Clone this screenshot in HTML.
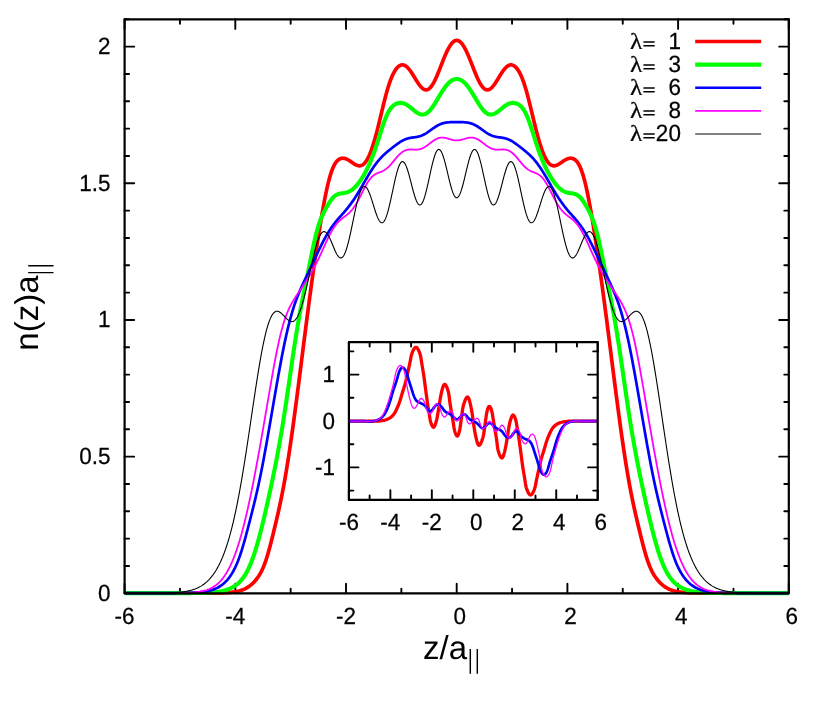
<!DOCTYPE html>
<html><head><meta charset="utf-8"><title>n(z) density profiles</title>
<style>
html,body{margin:0;padding:0;background:#fff;}
body{width:830px;height:712px;overflow:hidden;font-family:"Liberation Sans",sans-serif;}
svg{display:block;}
text{font-family:"Liberation Sans",sans-serif;font-size:22.5px;fill:#000;text-rendering:geometricPrecision;}
.lam{font-family:"Liberation Serif",serif;font-size:23px;}
.big{font-size:33px;}
.sub{font-size:26.4px;}
</style></head><body>
<svg width="830" height="712" viewBox="0 0 830 712">
<rect width="830" height="712" fill="#fff"/>
<defs>
<clipPath id="cm"><rect x="124.6" y="19.3" width="664.1999999999999" height="577.0"/></clipPath>
<clipPath id="ci"><rect x="348.9" y="341.1" width="248.80000000000007" height="159.79999999999995"/></clipPath>
</defs>
<!-- main ticks -->
<g stroke="#000" stroke-width="1.9" fill="none" stroke-linecap="round">
<path d="M124.60,593.30v-9.6 M124.60,19.30v9.6"/>
<path d="M179.95,593.30v-4.5 M179.95,19.30v4.5"/>
<path d="M235.30,593.30v-9.6 M235.30,19.30v9.6"/>
<path d="M290.65,593.30v-4.5 M290.65,19.30v4.5"/>
<path d="M346.00,593.30v-9.6 M346.00,19.30v9.6"/>
<path d="M401.35,593.30v-4.5 M401.35,19.30v4.5"/>
<path d="M456.70,593.30v-9.6 M456.70,19.30v9.6"/>
<path d="M512.05,593.30v-4.5 M512.05,19.30v4.5"/>
<path d="M567.40,593.30v-9.6 M567.40,19.30v9.6"/>
<path d="M622.75,593.30v-4.5 M622.75,19.30v4.5"/>
<path d="M678.10,593.30v-9.6 M678.10,19.30v9.6"/>
<path d="M733.45,593.30v-4.5 M733.45,19.30v4.5"/>
<path d="M788.80,593.30v-9.6 M788.80,19.30v9.6"/>
<path d="M124.60,593.30h9.6 M788.80,593.30h-9.6"/>
<path d="M124.60,565.97h4.5 M788.80,565.97h-4.5"/>
<path d="M124.60,538.63h4.5 M788.80,538.63h-4.5"/>
<path d="M124.60,511.30h4.5 M788.80,511.30h-4.5"/>
<path d="M124.60,483.97h4.5 M788.80,483.97h-4.5"/>
<path d="M124.60,456.63h9.6 M788.80,456.63h-9.6"/>
<path d="M124.60,429.30h4.5 M788.80,429.30h-4.5"/>
<path d="M124.60,401.97h4.5 M788.80,401.97h-4.5"/>
<path d="M124.60,374.63h4.5 M788.80,374.63h-4.5"/>
<path d="M124.60,347.30h4.5 M788.80,347.30h-4.5"/>
<path d="M124.60,319.97h9.6 M788.80,319.97h-9.6"/>
<path d="M124.60,292.63h4.5 M788.80,292.63h-4.5"/>
<path d="M124.60,265.30h4.5 M788.80,265.30h-4.5"/>
<path d="M124.60,237.97h4.5 M788.80,237.97h-4.5"/>
<path d="M124.60,210.63h4.5 M788.80,210.63h-4.5"/>
<path d="M124.60,183.30h9.6 M788.80,183.30h-9.6"/>
<path d="M124.60,155.97h4.5 M788.80,155.97h-4.5"/>
<path d="M124.60,128.63h4.5 M788.80,128.63h-4.5"/>
<path d="M124.60,101.30h4.5 M788.80,101.30h-4.5"/>
<path d="M124.60,73.97h4.5 M788.80,73.97h-4.5"/>
<path d="M124.60,46.63h9.6 M788.80,46.63h-9.6"/>
<path d="M124.60,19.30h4.5 M788.80,19.30h-4.5"/>
</g>
<!-- main curves -->
<g fill="none" stroke-linejoin="round" stroke-linecap="butt" clip-path="url(#cm)">
<path d="M124.60,593.10 L125.02,593.10 L125.43,593.10 L125.85,593.10 L126.26,593.10 L126.68,593.10 L127.09,593.10 L127.51,593.10 L127.92,593.10 L128.34,593.10 L128.75,593.10 L129.17,593.10 L129.58,593.10 L130.00,593.10 L130.41,593.10 L130.83,593.10 L131.24,593.10 L131.66,593.10 L132.07,593.10 L132.49,593.10 L132.90,593.10 L133.32,593.10 L133.73,593.10 L134.15,593.10 L134.56,593.10 L134.98,593.10 L135.39,593.10 L135.81,593.10 L136.22,593.10 L136.64,593.10 L137.05,593.10 L137.47,593.10 L137.88,593.10 L138.30,593.10 L138.71,593.10 L139.13,593.10 L139.54,593.10 L139.96,593.10 L140.37,593.10 L140.79,593.10 L141.20,593.10 L141.62,593.10 L142.04,593.10 L142.45,593.10 L142.87,593.10 L143.28,593.10 L143.70,593.10 L144.11,593.10 L144.53,593.10 L144.94,593.10 L145.36,593.10 L145.77,593.10 L146.19,593.10 L146.60,593.10 L147.02,593.10 L147.43,593.10 L147.85,593.10 L148.26,593.10 L148.68,593.10 L149.09,593.10 L149.51,593.10 L149.92,593.10 L150.34,593.10 L150.75,593.10 L151.17,593.10 L151.58,593.10 L152.00,593.10 L152.41,593.10 L152.83,593.10 L153.24,593.10 L153.66,593.10 L154.07,593.10 L154.49,593.10 L154.90,593.10 L155.32,593.10 L155.73,593.10 L156.15,593.10 L156.56,593.10 L156.98,593.10 L157.39,593.10 L157.81,593.10 L158.23,593.10 L158.64,593.10 L159.06,593.10 L159.47,593.10 L159.89,593.10 L160.30,593.10 L160.72,593.10 L161.13,593.10 L161.55,593.10 L161.96,593.10 L162.38,593.10 L162.79,593.10 L163.21,593.10 L163.62,593.10 L164.04,593.10 L164.45,593.10 L164.87,593.10 L165.28,593.10 L165.70,593.10 L166.11,593.10 L166.53,593.10 L166.94,593.10 L167.36,593.10 L167.77,593.10 L168.19,593.10 L168.60,593.10 L169.02,593.10 L169.43,593.10 L169.85,593.10 L170.26,593.10 L170.68,593.10 L171.09,593.10 L171.51,593.10 L171.92,593.10 L172.34,593.10 L172.75,593.10 L173.17,593.10 L173.58,593.10 L174.00,593.10 L174.42,593.10 L174.83,593.10 L175.25,593.10 L175.66,593.10 L176.08,593.10 L176.49,593.10 L176.91,593.10 L177.32,593.10 L177.74,593.10 L178.15,593.10 L178.57,593.10 L178.98,593.10 L179.40,593.10 L179.81,593.10 L180.23,593.10 L180.64,593.10 L181.06,593.10 L181.47,593.10 L181.89,593.10 L182.30,593.10 L182.72,593.10 L183.13,593.10 L183.55,593.10 L183.96,593.10 L184.38,593.10 L184.79,593.10 L185.21,593.10 L185.62,593.10 L186.04,593.10 L186.45,593.10 L186.87,593.10 L187.28,593.10 L187.70,593.10 L188.11,593.10 L188.53,593.10 L188.94,593.10 L189.36,593.10 L189.77,593.10 L190.19,593.10 L190.60,593.10 L191.02,593.10 L191.44,593.10 L191.85,593.10 L192.27,593.10 L192.68,593.10 L193.10,593.10 L193.51,593.10 L193.93,593.10 L194.34,593.10 L194.76,593.10 L195.17,593.10 L195.59,593.10 L196.00,593.10 L196.42,593.10 L196.83,593.10 L197.25,593.10 L197.66,593.10 L198.08,593.10 L198.49,593.10 L198.91,593.10 L199.32,593.09 L199.74,593.09 L200.15,593.09 L200.57,593.09 L200.98,593.09 L201.40,593.09 L201.81,593.09 L202.23,593.09 L202.64,593.09 L203.06,593.09 L203.47,593.09 L203.89,593.09 L204.30,593.09 L204.72,593.09 L205.13,593.09 L205.55,593.08 L205.96,593.08 L206.38,593.08 L206.79,593.08 L207.21,593.08 L207.62,593.08 L208.04,593.08 L208.46,593.07 L208.87,593.07 L209.29,593.07 L209.70,593.07 L210.12,593.07 L210.53,593.06 L210.95,593.06 L211.36,593.06 L211.78,593.06 L212.19,593.05 L212.61,593.05 L213.02,593.05 L213.44,593.04 L213.85,593.04 L214.27,593.03 L214.68,593.03 L215.10,593.02 L215.51,593.02 L215.93,593.01 L216.34,593.01 L216.76,593.00 L217.17,593.00 L217.59,592.99 L218.00,592.98 L218.42,592.97 L218.83,592.96 L219.25,592.96 L219.66,592.95 L220.08,592.94 L220.49,592.93 L220.91,592.92 L221.32,592.90 L221.74,592.89 L222.15,592.88 L222.57,592.86 L222.98,592.85 L223.40,592.83 L223.81,592.82 L224.23,592.80 L224.65,592.78 L225.06,592.76 L225.48,592.74 L225.89,592.72 L226.31,592.70 L226.72,592.67 L227.14,592.65 L227.55,592.62 L227.97,592.59 L228.38,592.56 L228.80,592.53 L229.21,592.50 L229.63,592.46 L230.04,592.43 L230.46,592.39 L230.87,592.35 L231.29,592.31 L231.70,592.26 L232.12,592.21 L232.53,592.16 L232.95,592.11 L233.36,592.06 L233.78,592.00 L234.19,591.94 L234.61,591.88 L235.02,591.81 L235.44,591.74 L235.85,591.67 L236.27,591.59 L236.68,591.51 L237.10,591.43 L237.51,591.34 L237.93,591.24 L238.34,591.15 L238.76,591.05 L239.17,590.94 L239.59,590.83 L240.00,590.71 L240.42,590.59 L240.83,590.46 L241.25,590.33 L241.67,590.19 L242.08,590.04 L242.50,589.89 L242.91,589.73 L243.33,589.57 L243.74,589.39 L244.16,589.21 L244.57,589.02 L244.99,588.82 L245.40,588.62 L245.82,588.40 L246.23,588.18 L246.65,587.95 L247.06,587.70 L247.48,587.45 L247.89,587.19 L248.31,586.92 L248.72,586.63 L249.14,586.34 L249.55,586.03 L249.97,585.72 L250.38,585.39 L250.80,585.05 L251.21,584.70 L251.63,584.34 L252.04,583.97 L252.46,583.58 L252.87,583.18 L253.29,582.77 L253.70,582.35 L254.12,581.91 L254.53,581.46 L254.95,580.99 L255.36,580.51 L255.78,580.02 L256.19,579.51 L256.61,578.98 L257.02,578.44 L257.44,577.88 L257.86,577.29 L258.27,576.69 L258.69,576.07 L259.10,575.42 L259.52,574.75 L259.93,574.06 L260.35,573.33 L260.76,572.58 L261.18,571.80 L261.59,570.98 L262.01,570.13 L262.42,569.25 L262.84,568.33 L263.25,567.37 L263.67,566.37 L264.08,565.34 L264.50,564.26 L264.91,563.15 L265.33,561.99 L265.74,560.79 L266.16,559.55 L266.57,558.28 L266.99,556.96 L267.40,555.60 L267.82,554.21 L268.23,552.78 L268.65,551.32 L269.06,549.83 L269.48,548.31 L269.89,546.76 L270.31,545.19 L270.72,543.59 L271.14,541.97 L271.55,540.33 L271.97,538.68 L272.38,537.01 L272.80,535.33 L273.21,533.63 L273.63,531.93 L274.04,530.21 L274.46,528.49 L274.88,526.75 L275.29,525.01 L275.71,523.26 L276.12,521.49 L276.54,519.72 L276.95,517.93 L277.37,516.13 L277.78,514.31 L278.20,512.48 L278.61,510.63 L279.03,508.76 L279.44,506.87 L279.86,504.95 L280.27,503.01 L280.69,501.03 L281.10,499.03 L281.52,497.00 L281.93,494.93 L282.35,492.83 L282.76,490.70 L283.18,488.52 L283.59,486.31 L284.01,484.06 L284.42,481.77 L284.84,479.44 L285.25,477.08 L285.67,474.67 L286.08,472.22 L286.50,469.73 L286.91,467.21 L287.33,464.64 L287.74,462.04 L288.16,459.40 L288.57,456.72 L288.99,454.01 L289.40,451.27 L289.82,448.49 L290.23,445.68 L290.65,442.84 L291.07,439.96 L291.48,437.06 L291.90,434.13 L292.31,431.18 L292.73,428.20 L293.14,425.19 L293.56,422.16 L293.97,419.11 L294.39,416.04 L294.80,412.95 L295.22,409.84 L295.63,406.71 L296.05,403.57 L296.46,400.41 L296.88,397.23 L297.29,394.04 L297.71,390.84 L298.12,387.63 L298.54,384.41 L298.95,381.18 L299.37,377.94 L299.78,374.69 L300.20,371.43 L300.61,368.17 L301.03,364.91 L301.44,361.64 L301.86,358.37 L302.27,355.10 L302.69,351.83 L303.10,348.56 L303.52,345.29 L303.93,342.02 L304.35,338.76 L304.76,335.50 L305.18,332.25 L305.59,329.00 L306.01,325.76 L306.42,322.53 L306.84,319.31 L307.25,316.10 L307.67,312.90 L308.09,309.71 L308.50,306.53 L308.92,303.37 L309.33,300.23 L309.75,297.09 L310.16,293.98 L310.58,290.88 L310.99,287.80 L311.41,284.74 L311.82,281.69 L312.24,278.67 L312.65,275.66 L313.07,272.68 L313.48,269.72 L313.90,266.78 L314.31,263.86 L314.73,260.96 L315.14,258.08 L315.56,255.23 L315.97,252.41 L316.39,249.60 L316.80,246.82 L317.22,244.07 L317.63,241.34 L318.05,238.63 L318.46,235.95 L318.88,233.30 L319.29,230.68 L319.71,228.08 L320.12,225.51 L320.54,222.97 L320.95,220.46 L321.37,217.98 L321.78,215.53 L322.20,213.12 L322.61,210.74 L323.03,208.40 L323.44,206.10 L323.86,203.84 L324.28,201.62 L324.69,199.44 L325.11,197.31 L325.52,195.23 L325.94,193.20 L326.35,191.22 L326.77,189.29 L327.18,187.42 L327.60,185.61 L328.01,183.85 L328.43,182.16 L328.84,180.52 L329.26,178.95 L329.67,177.45 L330.09,176.01 L330.50,174.63 L330.92,173.32 L331.33,172.07 L331.75,170.89 L332.16,169.77 L332.58,168.72 L332.99,167.73 L333.41,166.80 L333.82,165.93 L334.24,165.11 L334.65,164.36 L335.07,163.65 L335.48,163.01 L335.90,162.41 L336.31,161.86 L336.73,161.36 L337.14,160.90 L337.56,160.48 L337.97,160.11 L338.39,159.77 L338.80,159.48 L339.22,159.21 L339.63,158.99 L340.05,158.79 L340.46,158.63 L340.88,158.49 L341.30,158.38 L341.71,158.31 L342.13,158.25 L342.54,158.23 L342.96,158.22 L343.37,158.24 L343.79,158.29 L344.20,158.35 L344.62,158.44 L345.03,158.54 L345.45,158.67 L345.86,158.81 L346.28,158.97 L346.69,159.15 L347.11,159.35 L347.52,159.55 L347.94,159.78 L348.35,160.01 L348.77,160.25 L349.18,160.51 L349.60,160.77 L350.01,161.05 L350.43,161.32 L350.84,161.61 L351.26,161.89 L351.67,162.18 L352.09,162.47 L352.50,162.75 L352.92,163.03 L353.33,163.31 L353.75,163.59 L354.16,163.85 L354.58,164.10 L354.99,164.35 L355.41,164.58 L355.82,164.79 L356.24,164.99 L356.65,165.17 L357.07,165.33 L357.49,165.47 L357.90,165.59 L358.32,165.68 L358.73,165.75 L359.15,165.79 L359.56,165.80 L359.98,165.78 L360.39,165.73 L360.81,165.64 L361.22,165.52 L361.64,165.37 L362.05,165.18 L362.47,164.95 L362.88,164.69 L363.30,164.38 L363.71,164.04 L364.13,163.65 L364.54,163.22 L364.96,162.75 L365.37,162.24 L365.79,161.69 L366.20,161.09 L366.62,160.45 L367.03,159.76 L367.45,159.03 L367.86,158.26 L368.28,157.44 L368.69,156.58 L369.11,155.68 L369.52,154.73 L369.94,153.74 L370.35,152.71 L370.77,151.63 L371.18,150.52 L371.60,149.36 L372.01,148.17 L372.43,146.94 L372.84,145.66 L373.26,144.36 L373.67,143.01 L374.09,141.63 L374.51,140.22 L374.92,138.77 L375.34,137.29 L375.75,135.79 L376.17,134.25 L376.58,132.69 L377.00,131.10 L377.41,129.49 L377.83,127.85 L378.24,126.20 L378.66,124.53 L379.07,122.84 L379.49,121.14 L379.90,119.43 L380.32,117.71 L380.73,115.99 L381.15,114.26 L381.56,112.53 L381.98,110.81 L382.39,109.09 L382.81,107.37 L383.22,105.67 L383.64,103.98 L384.05,102.31 L384.47,100.65 L384.88,99.02 L385.30,97.41 L385.71,95.83 L386.13,94.28 L386.54,92.76 L386.96,91.28 L387.37,89.83 L387.79,88.41 L388.20,87.04 L388.62,85.71 L389.03,84.41 L389.45,83.16 L389.86,81.96 L390.28,80.79 L390.70,79.67 L391.11,78.60 L391.53,77.56 L391.94,76.58 L392.36,75.63 L392.77,74.73 L393.19,73.87 L393.60,73.06 L394.02,72.28 L394.43,71.55 L394.85,70.86 L395.26,70.21 L395.68,69.59 L396.09,69.02 L396.51,68.49 L396.92,67.99 L397.34,67.53 L397.75,67.11 L398.17,66.73 L398.58,66.38 L399.00,66.07 L399.41,65.80 L399.83,65.56 L400.24,65.36 L400.66,65.19 L401.07,65.06 L401.49,64.97 L401.90,64.91 L402.32,64.89 L402.73,64.90 L403.15,64.95 L403.56,65.04 L403.98,65.16 L404.39,65.31 L404.81,65.50 L405.22,65.72 L405.64,65.98 L406.05,66.26 L406.47,66.58 L406.88,66.93 L407.30,67.31 L407.72,67.72 L408.13,68.16 L408.55,68.62 L408.96,69.11 L409.38,69.63 L409.79,70.16 L410.21,70.72 L410.62,71.30 L411.04,71.90 L411.45,72.51 L411.87,73.14 L412.28,73.78 L412.70,74.43 L413.11,75.10 L413.53,75.77 L413.94,76.45 L414.36,77.13 L414.77,77.81 L415.19,78.49 L415.60,79.17 L416.02,79.85 L416.43,80.52 L416.85,81.18 L417.26,81.83 L417.68,82.47 L418.09,83.09 L418.51,83.70 L418.92,84.29 L419.34,84.86 L419.75,85.41 L420.17,85.93 L420.58,86.43 L421.00,86.90 L421.41,87.34 L421.83,87.74 L422.24,88.12 L422.66,88.46 L423.07,88.77 L423.49,89.04 L423.91,89.27 L424.32,89.47 L424.74,89.62 L425.15,89.73 L425.57,89.81 L425.98,89.84 L426.40,89.82 L426.81,89.77 L427.23,89.67 L427.64,89.52 L428.06,89.33 L428.47,89.10 L428.89,88.83 L429.30,88.51 L429.72,88.15 L430.13,87.74 L430.55,87.29 L430.96,86.80 L431.38,86.27 L431.79,85.70 L432.21,85.10 L432.62,84.45 L433.04,83.77 L433.45,83.05 L433.87,82.30 L434.28,81.51 L434.70,80.69 L435.11,79.85 L435.53,78.98 L435.94,78.08 L436.36,77.15 L436.77,76.21 L437.19,75.24 L437.60,74.25 L438.02,73.25 L438.43,72.24 L438.85,71.21 L439.26,70.17 L439.68,69.12 L440.10,68.06 L440.51,67.00 L440.93,65.94 L441.34,64.87 L441.76,63.81 L442.17,62.75 L442.59,61.70 L443.00,60.65 L443.42,59.62 L443.83,58.59 L444.25,57.58 L444.66,56.58 L445.08,55.60 L445.49,54.64 L445.91,53.70 L446.32,52.78 L446.74,51.88 L447.15,51.01 L447.57,50.16 L447.98,49.35 L448.40,48.56 L448.81,47.80 L449.23,47.07 L449.64,46.38 L450.06,45.72 L450.47,45.09 L450.89,44.50 L451.30,43.95 L451.72,43.43 L452.13,42.95 L452.55,42.52 L452.96,42.12 L453.38,41.76 L453.79,41.44 L454.21,41.17 L454.62,40.93 L455.04,40.74 L455.45,40.59 L455.87,40.48 L456.28,40.42 L456.70,40.40 L457.12,40.42 L457.53,40.48 L457.95,40.59 L458.36,40.74 L458.78,40.93 L459.19,41.17 L459.61,41.44 L460.02,41.76 L460.44,42.12 L460.85,42.52 L461.27,42.95 L461.68,43.43 L462.10,43.95 L462.51,44.50 L462.93,45.09 L463.34,45.72 L463.76,46.38 L464.17,47.07 L464.59,47.80 L465.00,48.56 L465.42,49.35 L465.83,50.16 L466.25,51.01 L466.66,51.88 L467.08,52.78 L467.49,53.70 L467.91,54.64 L468.32,55.60 L468.74,56.58 L469.15,57.58 L469.57,58.59 L469.98,59.62 L470.40,60.65 L470.81,61.70 L471.23,62.75 L471.64,63.81 L472.06,64.87 L472.47,65.94 L472.89,67.00 L473.30,68.06 L473.72,69.12 L474.14,70.17 L474.55,71.21 L474.97,72.24 L475.38,73.25 L475.80,74.25 L476.21,75.24 L476.63,76.21 L477.04,77.15 L477.46,78.08 L477.87,78.98 L478.29,79.85 L478.70,80.69 L479.12,81.51 L479.53,82.30 L479.95,83.05 L480.36,83.77 L480.78,84.45 L481.19,85.10 L481.61,85.70 L482.02,86.27 L482.44,86.80 L482.85,87.29 L483.27,87.74 L483.68,88.15 L484.10,88.51 L484.51,88.83 L484.93,89.10 L485.34,89.33 L485.76,89.52 L486.17,89.67 L486.59,89.77 L487.00,89.82 L487.42,89.84 L487.83,89.81 L488.25,89.73 L488.66,89.62 L489.08,89.47 L489.49,89.27 L489.91,89.04 L490.33,88.77 L490.74,88.46 L491.16,88.12 L491.57,87.74 L491.99,87.34 L492.40,86.90 L492.82,86.43 L493.23,85.93 L493.65,85.41 L494.06,84.86 L494.48,84.29 L494.89,83.70 L495.31,83.09 L495.72,82.47 L496.14,81.83 L496.55,81.18 L496.97,80.52 L497.38,79.85 L497.80,79.17 L498.21,78.49 L498.63,77.81 L499.04,77.13 L499.46,76.45 L499.87,75.77 L500.29,75.10 L500.70,74.43 L501.12,73.78 L501.53,73.14 L501.95,72.51 L502.36,71.90 L502.78,71.30 L503.19,70.72 L503.61,70.16 L504.02,69.63 L504.44,69.11 L504.85,68.62 L505.27,68.16 L505.68,67.72 L506.10,67.31 L506.51,66.93 L506.93,66.58 L507.35,66.26 L507.76,65.98 L508.18,65.72 L508.59,65.50 L509.01,65.31 L509.42,65.16 L509.84,65.04 L510.25,64.95 L510.67,64.90 L511.08,64.89 L511.50,64.91 L511.91,64.97 L512.33,65.06 L512.74,65.19 L513.16,65.36 L513.57,65.56 L513.99,65.80 L514.40,66.07 L514.82,66.38 L515.23,66.73 L515.65,67.11 L516.06,67.53 L516.48,67.99 L516.89,68.49 L517.31,69.02 L517.72,69.59 L518.14,70.21 L518.55,70.86 L518.97,71.55 L519.38,72.28 L519.80,73.06 L520.21,73.87 L520.63,74.73 L521.04,75.63 L521.46,76.58 L521.87,77.56 L522.29,78.60 L522.70,79.67 L523.12,80.79 L523.54,81.96 L523.95,83.16 L524.37,84.41 L524.78,85.71 L525.20,87.04 L525.61,88.41 L526.03,89.83 L526.44,91.28 L526.86,92.76 L527.27,94.28 L527.69,95.83 L528.10,97.41 L528.52,99.02 L528.93,100.65 L529.35,102.31 L529.76,103.98 L530.18,105.67 L530.59,107.37 L531.01,109.09 L531.42,110.81 L531.84,112.53 L532.25,114.26 L532.67,115.99 L533.08,117.71 L533.50,119.43 L533.91,121.14 L534.33,122.84 L534.74,124.53 L535.16,126.20 L535.57,127.85 L535.99,129.49 L536.40,131.10 L536.82,132.69 L537.23,134.25 L537.65,135.79 L538.06,137.29 L538.48,138.77 L538.89,140.22 L539.31,141.63 L539.73,143.01 L540.14,144.36 L540.56,145.66 L540.97,146.94 L541.39,148.17 L541.80,149.36 L542.22,150.52 L542.63,151.63 L543.05,152.71 L543.46,153.74 L543.88,154.73 L544.29,155.68 L544.71,156.58 L545.12,157.44 L545.54,158.26 L545.95,159.03 L546.37,159.76 L546.78,160.45 L547.20,161.09 L547.61,161.69 L548.03,162.24 L548.44,162.75 L548.86,163.22 L549.27,163.65 L549.69,164.04 L550.10,164.38 L550.52,164.69 L550.93,164.95 L551.35,165.18 L551.76,165.37 L552.18,165.52 L552.59,165.64 L553.01,165.73 L553.42,165.78 L553.84,165.80 L554.25,165.79 L554.67,165.75 L555.08,165.68 L555.50,165.59 L555.91,165.47 L556.33,165.33 L556.75,165.17 L557.16,164.99 L557.58,164.79 L557.99,164.58 L558.41,164.35 L558.82,164.10 L559.24,163.85 L559.65,163.59 L560.07,163.31 L560.48,163.03 L560.90,162.75 L561.31,162.47 L561.73,162.18 L562.14,161.89 L562.56,161.61 L562.97,161.32 L563.39,161.05 L563.80,160.77 L564.22,160.51 L564.63,160.25 L565.05,160.01 L565.46,159.78 L565.88,159.55 L566.29,159.35 L566.71,159.15 L567.12,158.97 L567.54,158.81 L567.95,158.67 L568.37,158.54 L568.78,158.44 L569.20,158.35 L569.61,158.29 L570.03,158.24 L570.44,158.22 L570.86,158.23 L571.27,158.25 L571.69,158.31 L572.10,158.38 L572.52,158.49 L572.93,158.63 L573.35,158.79 L573.77,158.99 L574.18,159.21 L574.60,159.48 L575.01,159.77 L575.43,160.11 L575.84,160.48 L576.26,160.90 L576.67,161.36 L577.09,161.86 L577.50,162.41 L577.92,163.01 L578.33,163.65 L578.75,164.36 L579.16,165.11 L579.58,165.93 L579.99,166.80 L580.41,167.73 L580.82,168.72 L581.24,169.77 L581.65,170.89 L582.07,172.07 L582.48,173.32 L582.90,174.63 L583.31,176.01 L583.73,177.45 L584.14,178.95 L584.56,180.52 L584.97,182.16 L585.39,183.85 L585.80,185.61 L586.22,187.42 L586.63,189.29 L587.05,191.22 L587.46,193.20 L587.88,195.23 L588.29,197.31 L588.71,199.44 L589.12,201.62 L589.54,203.84 L589.96,206.10 L590.37,208.40 L590.79,210.74 L591.20,213.12 L591.62,215.53 L592.03,217.98 L592.45,220.46 L592.86,222.97 L593.28,225.51 L593.69,228.08 L594.11,230.68 L594.52,233.30 L594.94,235.95 L595.35,238.63 L595.77,241.34 L596.18,244.07 L596.60,246.82 L597.01,249.60 L597.43,252.41 L597.84,255.23 L598.26,258.08 L598.67,260.96 L599.09,263.86 L599.50,266.78 L599.92,269.72 L600.33,272.68 L600.75,275.66 L601.16,278.67 L601.58,281.69 L601.99,284.74 L602.41,287.80 L602.82,290.88 L603.24,293.98 L603.65,297.09 L604.07,300.23 L604.48,303.37 L604.90,306.53 L605.31,309.71 L605.73,312.90 L606.14,316.10 L606.56,319.31 L606.98,322.53 L607.39,325.76 L607.81,329.00 L608.22,332.25 L608.64,335.50 L609.05,338.76 L609.47,342.02 L609.88,345.29 L610.30,348.56 L610.71,351.83 L611.13,355.10 L611.54,358.37 L611.96,361.64 L612.37,364.91 L612.79,368.17 L613.20,371.43 L613.62,374.69 L614.03,377.94 L614.45,381.18 L614.86,384.41 L615.28,387.63 L615.69,390.84 L616.11,394.04 L616.52,397.23 L616.94,400.41 L617.35,403.57 L617.77,406.71 L618.18,409.84 L618.60,412.95 L619.01,416.04 L619.43,419.11 L619.84,422.16 L620.26,425.19 L620.67,428.20 L621.09,431.18 L621.50,434.13 L621.92,437.06 L622.33,439.96 L622.75,442.84 L623.17,445.68 L623.58,448.49 L624.00,451.27 L624.41,454.01 L624.83,456.72 L625.24,459.40 L625.66,462.04 L626.07,464.64 L626.49,467.21 L626.90,469.73 L627.32,472.22 L627.73,474.67 L628.15,477.08 L628.56,479.44 L628.98,481.77 L629.39,484.06 L629.81,486.31 L630.22,488.52 L630.64,490.70 L631.05,492.83 L631.47,494.93 L631.88,497.00 L632.30,499.03 L632.71,501.03 L633.13,503.01 L633.54,504.95 L633.96,506.87 L634.37,508.76 L634.79,510.63 L635.20,512.48 L635.62,514.31 L636.03,516.13 L636.45,517.93 L636.86,519.72 L637.28,521.49 L637.69,523.26 L638.11,525.01 L638.52,526.75 L638.94,528.49 L639.35,530.21 L639.77,531.93 L640.19,533.63 L640.60,535.33 L641.02,537.01 L641.43,538.68 L641.85,540.33 L642.26,541.97 L642.68,543.59 L643.09,545.19 L643.51,546.76 L643.92,548.31 L644.34,549.83 L644.75,551.32 L645.17,552.78 L645.58,554.21 L646.00,555.60 L646.41,556.96 L646.83,558.28 L647.24,559.55 L647.66,560.79 L648.07,561.99 L648.49,563.15 L648.90,564.26 L649.32,565.34 L649.73,566.37 L650.15,567.37 L650.56,568.33 L650.98,569.25 L651.39,570.13 L651.81,570.98 L652.22,571.80 L652.64,572.58 L653.05,573.33 L653.47,574.06 L653.88,574.75 L654.30,575.42 L654.71,576.07 L655.13,576.69 L655.54,577.29 L655.96,577.88 L656.38,578.44 L656.79,578.98 L657.21,579.51 L657.62,580.02 L658.04,580.51 L658.45,580.99 L658.87,581.46 L659.28,581.91 L659.70,582.35 L660.11,582.77 L660.53,583.18 L660.94,583.58 L661.36,583.97 L661.77,584.34 L662.19,584.70 L662.60,585.05 L663.02,585.39 L663.43,585.72 L663.85,586.03 L664.26,586.34 L664.68,586.63 L665.09,586.92 L665.51,587.19 L665.92,587.45 L666.34,587.70 L666.75,587.95 L667.17,588.18 L667.58,588.40 L668.00,588.62 L668.41,588.82 L668.83,589.02 L669.24,589.21 L669.66,589.39 L670.07,589.57 L670.49,589.73 L670.90,589.89 L671.32,590.04 L671.73,590.19 L672.15,590.33 L672.57,590.46 L672.98,590.59 L673.40,590.71 L673.81,590.83 L674.23,590.94 L674.64,591.05 L675.06,591.15 L675.47,591.24 L675.89,591.34 L676.30,591.43 L676.72,591.51 L677.13,591.59 L677.55,591.67 L677.96,591.74 L678.38,591.81 L678.79,591.88 L679.21,591.94 L679.62,592.00 L680.04,592.06 L680.45,592.11 L680.87,592.16 L681.28,592.21 L681.70,592.26 L682.11,592.31 L682.53,592.35 L682.94,592.39 L683.36,592.43 L683.77,592.46 L684.19,592.50 L684.60,592.53 L685.02,592.56 L685.43,592.59 L685.85,592.62 L686.26,592.65 L686.68,592.67 L687.09,592.70 L687.51,592.72 L687.92,592.74 L688.34,592.76 L688.75,592.78 L689.17,592.80 L689.59,592.82 L690.00,592.83 L690.42,592.85 L690.83,592.86 L691.25,592.88 L691.66,592.89 L692.08,592.90 L692.49,592.92 L692.91,592.93 L693.32,592.94 L693.74,592.95 L694.15,592.96 L694.57,592.96 L694.98,592.97 L695.40,592.98 L695.81,592.99 L696.23,593.00 L696.64,593.00 L697.06,593.01 L697.47,593.01 L697.89,593.02 L698.30,593.02 L698.72,593.03 L699.13,593.03 L699.55,593.04 L699.96,593.04 L700.38,593.05 L700.79,593.05 L701.21,593.05 L701.62,593.06 L702.04,593.06 L702.45,593.06 L702.87,593.06 L703.28,593.07 L703.70,593.07 L704.11,593.07 L704.53,593.07 L704.94,593.07 L705.36,593.08 L705.77,593.08 L706.19,593.08 L706.61,593.08 L707.02,593.08 L707.44,593.08 L707.85,593.08 L708.27,593.09 L708.68,593.09 L709.10,593.09 L709.51,593.09 L709.93,593.09 L710.34,593.09 L710.76,593.09 L711.17,593.09 L711.59,593.09 L712.00,593.09 L712.42,593.09 L712.83,593.09 L713.25,593.09 L713.66,593.09 L714.08,593.09 L714.49,593.10 L714.91,593.10 L715.32,593.10 L715.74,593.10 L716.15,593.10 L716.57,593.10 L716.98,593.10 L717.40,593.10 L717.81,593.10 L718.23,593.10 L718.64,593.10 L719.06,593.10 L719.47,593.10 L719.89,593.10 L720.30,593.10 L720.72,593.10 L721.13,593.10 L721.55,593.10 L721.96,593.10 L722.38,593.10 L722.80,593.10 L723.21,593.10 L723.63,593.10 L724.04,593.10 L724.46,593.10 L724.87,593.10 L725.29,593.10 L725.70,593.10 L726.12,593.10 L726.53,593.10 L726.95,593.10 L727.36,593.10 L727.78,593.10 L728.19,593.10 L728.61,593.10 L729.02,593.10 L729.44,593.10 L729.85,593.10 L730.27,593.10 L730.68,593.10 L731.10,593.10 L731.51,593.10 L731.93,593.10 L732.34,593.10 L732.76,593.10 L733.17,593.10 L733.59,593.10 L734.00,593.10 L734.42,593.10 L734.83,593.10 L735.25,593.10 L735.66,593.10 L736.08,593.10 L736.49,593.10 L736.91,593.10 L737.32,593.10 L737.74,593.10 L738.15,593.10 L738.57,593.10 L738.98,593.10 L739.40,593.10 L739.82,593.10 L740.23,593.10 L740.65,593.10 L741.06,593.10 L741.48,593.10 L741.89,593.10 L742.31,593.10 L742.72,593.10 L743.14,593.10 L743.55,593.10 L743.97,593.10 L744.38,593.10 L744.80,593.10 L745.21,593.10 L745.63,593.10 L746.04,593.10 L746.46,593.10 L746.87,593.10 L747.29,593.10 L747.70,593.10 L748.12,593.10 L748.53,593.10 L748.95,593.10 L749.36,593.10 L749.78,593.10 L750.19,593.10 L750.61,593.10 L751.02,593.10 L751.44,593.10 L751.85,593.10 L752.27,593.10 L752.68,593.10 L753.10,593.10 L753.51,593.10 L753.93,593.10 L754.34,593.10 L754.76,593.10 L755.17,593.10 L755.59,593.10 L756.01,593.10 L756.42,593.10 L756.84,593.10 L757.25,593.10 L757.67,593.10 L758.08,593.10 L758.50,593.10 L758.91,593.10 L759.33,593.10 L759.74,593.10 L760.16,593.10 L760.57,593.10 L760.99,593.10 L761.40,593.10 L761.82,593.10 L762.23,593.10 L762.65,593.10 L763.06,593.10 L763.48,593.10 L763.89,593.10 L764.31,593.10 L764.72,593.10 L765.14,593.10 L765.55,593.10 L765.97,593.10 L766.38,593.10 L766.80,593.10 L767.21,593.10 L767.63,593.10 L768.04,593.10 L768.46,593.10 L768.87,593.10 L769.29,593.10 L769.70,593.10 L770.12,593.10 L770.53,593.10 L770.95,593.10 L771.36,593.10 L771.78,593.10 L772.19,593.10 L772.61,593.10 L773.03,593.10 L773.44,593.10 L773.86,593.10 L774.27,593.10 L774.69,593.10 L775.10,593.10 L775.52,593.10 L775.93,593.10 L776.35,593.10 L776.76,593.10 L777.18,593.10 L777.59,593.10 L778.01,593.10 L778.42,593.10 L778.84,593.10 L779.25,593.10 L779.67,593.10 L780.08,593.10 L780.50,593.10 L780.91,593.10 L781.33,593.10 L781.74,593.10 L782.16,593.10 L782.57,593.10 L782.99,593.10 L783.40,593.10 L783.82,593.10 L784.23,593.10 L784.65,593.10 L785.06,593.10 L785.48,593.10 L785.89,593.10 L786.31,593.10 L786.72,593.10 L787.14,593.10 L787.55,593.10 L787.97,593.10 L788.38,593.10 L788.80,593.10" stroke="#ff0000" stroke-width="3.7"/>
<path d="M124.60,593.10 L125.02,593.10 L125.43,593.10 L125.85,593.10 L126.26,593.10 L126.68,593.10 L127.09,593.10 L127.51,593.10 L127.92,593.10 L128.34,593.10 L128.75,593.10 L129.17,593.10 L129.58,593.10 L130.00,593.10 L130.41,593.10 L130.83,593.10 L131.24,593.10 L131.66,593.10 L132.07,593.10 L132.49,593.10 L132.90,593.10 L133.32,593.10 L133.73,593.10 L134.15,593.10 L134.56,593.10 L134.98,593.10 L135.39,593.10 L135.81,593.10 L136.22,593.10 L136.64,593.10 L137.05,593.10 L137.47,593.10 L137.88,593.10 L138.30,593.10 L138.71,593.10 L139.13,593.10 L139.54,593.10 L139.96,593.10 L140.37,593.10 L140.79,593.10 L141.20,593.10 L141.62,593.10 L142.04,593.10 L142.45,593.10 L142.87,593.10 L143.28,593.10 L143.70,593.10 L144.11,593.10 L144.53,593.10 L144.94,593.10 L145.36,593.10 L145.77,593.10 L146.19,593.10 L146.60,593.10 L147.02,593.10 L147.43,593.10 L147.85,593.10 L148.26,593.10 L148.68,593.10 L149.09,593.10 L149.51,593.10 L149.92,593.10 L150.34,593.10 L150.75,593.10 L151.17,593.10 L151.58,593.10 L152.00,593.10 L152.41,593.10 L152.83,593.10 L153.24,593.10 L153.66,593.10 L154.07,593.10 L154.49,593.10 L154.90,593.10 L155.32,593.10 L155.73,593.10 L156.15,593.10 L156.56,593.10 L156.98,593.10 L157.39,593.10 L157.81,593.10 L158.23,593.10 L158.64,593.10 L159.06,593.10 L159.47,593.10 L159.89,593.10 L160.30,593.10 L160.72,593.10 L161.13,593.10 L161.55,593.10 L161.96,593.10 L162.38,593.10 L162.79,593.10 L163.21,593.10 L163.62,593.10 L164.04,593.10 L164.45,593.10 L164.87,593.10 L165.28,593.10 L165.70,593.10 L166.11,593.10 L166.53,593.10 L166.94,593.10 L167.36,593.10 L167.77,593.10 L168.19,593.10 L168.60,593.10 L169.02,593.10 L169.43,593.10 L169.85,593.10 L170.26,593.10 L170.68,593.10 L171.09,593.10 L171.51,593.10 L171.92,593.10 L172.34,593.10 L172.75,593.10 L173.17,593.10 L173.58,593.10 L174.00,593.10 L174.42,593.10 L174.83,593.10 L175.25,593.10 L175.66,593.10 L176.08,593.10 L176.49,593.10 L176.91,593.10 L177.32,593.10 L177.74,593.10 L178.15,593.10 L178.57,593.10 L178.98,593.10 L179.40,593.10 L179.81,593.10 L180.23,593.10 L180.64,593.10 L181.06,593.10 L181.47,593.10 L181.89,593.09 L182.30,593.09 L182.72,593.09 L183.13,593.09 L183.55,593.09 L183.96,593.09 L184.38,593.09 L184.79,593.09 L185.21,593.09 L185.62,593.09 L186.04,593.09 L186.45,593.09 L186.87,593.09 L187.28,593.09 L187.70,593.09 L188.11,593.08 L188.53,593.08 L188.94,593.08 L189.36,593.08 L189.77,593.08 L190.19,593.08 L190.60,593.08 L191.02,593.07 L191.44,593.07 L191.85,593.07 L192.27,593.07 L192.68,593.07 L193.10,593.06 L193.51,593.06 L193.93,593.06 L194.34,593.06 L194.76,593.05 L195.17,593.05 L195.59,593.05 L196.00,593.04 L196.42,593.04 L196.83,593.03 L197.25,593.03 L197.66,593.02 L198.08,593.02 L198.49,593.01 L198.91,593.01 L199.32,593.00 L199.74,592.99 L200.15,592.99 L200.57,592.98 L200.98,592.97 L201.40,592.96 L201.81,592.95 L202.23,592.94 L202.64,592.93 L203.06,592.92 L203.47,592.91 L203.89,592.90 L204.30,592.89 L204.72,592.87 L205.13,592.86 L205.55,592.85 L205.96,592.83 L206.38,592.81 L206.79,592.80 L207.21,592.78 L207.62,592.76 L208.04,592.74 L208.46,592.72 L208.87,592.70 L209.29,592.67 L209.70,592.65 L210.12,592.62 L210.53,592.59 L210.95,592.57 L211.36,592.54 L211.78,592.50 L212.19,592.47 L212.61,592.44 L213.02,592.40 L213.44,592.36 L213.85,592.33 L214.27,592.28 L214.68,592.24 L215.10,592.20 L215.51,592.15 L215.93,592.10 L216.34,592.05 L216.76,592.00 L217.17,591.94 L217.59,591.88 L218.00,591.82 L218.42,591.76 L218.83,591.69 L219.25,591.62 L219.66,591.55 L220.08,591.48 L220.49,591.40 L220.91,591.32 L221.32,591.24 L221.74,591.15 L222.15,591.06 L222.57,590.97 L222.98,590.87 L223.40,590.77 L223.81,590.67 L224.23,590.56 L224.65,590.45 L225.06,590.33 L225.48,590.21 L225.89,590.08 L226.31,589.95 L226.72,589.82 L227.14,589.68 L227.55,589.53 L227.97,589.38 L228.38,589.22 L228.80,589.06 L229.21,588.89 L229.63,588.72 L230.04,588.54 L230.46,588.35 L230.87,588.16 L231.29,587.96 L231.70,587.75 L232.12,587.53 L232.53,587.31 L232.95,587.08 L233.36,586.84 L233.78,586.59 L234.19,586.33 L234.61,586.06 L235.02,585.78 L235.44,585.50 L235.85,585.20 L236.27,584.89 L236.68,584.57 L237.10,584.23 L237.51,583.89 L237.93,583.53 L238.34,583.16 L238.76,582.78 L239.17,582.38 L239.59,581.97 L240.00,581.54 L240.42,581.10 L240.83,580.64 L241.25,580.16 L241.67,579.67 L242.08,579.16 L242.50,578.63 L242.91,578.08 L243.33,577.51 L243.74,576.92 L244.16,576.32 L244.57,575.69 L244.99,575.04 L245.40,574.36 L245.82,573.67 L246.23,572.95 L246.65,572.21 L247.06,571.44 L247.48,570.65 L247.89,569.83 L248.31,568.99 L248.72,568.12 L249.14,567.23 L249.55,566.31 L249.97,565.36 L250.38,564.39 L250.80,563.38 L251.21,562.35 L251.63,561.30 L252.04,560.21 L252.46,559.10 L252.87,557.95 L253.29,556.78 L253.70,555.59 L254.12,554.36 L254.53,553.11 L254.95,551.82 L255.36,550.52 L255.78,549.18 L256.19,547.82 L256.61,546.43 L257.02,545.01 L257.44,543.57 L257.86,542.11 L258.27,540.62 L258.69,539.11 L259.10,537.57 L259.52,536.01 L259.93,534.43 L260.35,532.83 L260.76,531.21 L261.18,529.57 L261.59,527.91 L262.01,526.23 L262.42,524.54 L262.84,522.83 L263.25,521.10 L263.67,519.36 L264.08,517.60 L264.50,515.83 L264.91,514.05 L265.33,512.25 L265.74,510.45 L266.16,508.63 L266.57,506.80 L266.99,504.96 L267.40,503.11 L267.82,501.25 L268.23,499.38 L268.65,497.50 L269.06,495.61 L269.48,493.71 L269.89,491.80 L270.31,489.88 L270.72,487.95 L271.14,486.01 L271.55,484.06 L271.97,482.10 L272.38,480.12 L272.80,478.13 L273.21,476.13 L273.63,474.12 L274.04,472.08 L274.46,470.04 L274.88,467.97 L275.29,465.89 L275.71,463.79 L276.12,461.67 L276.54,459.53 L276.95,457.36 L277.37,455.17 L277.78,452.96 L278.20,450.73 L278.61,448.46 L279.03,446.18 L279.44,443.86 L279.86,441.52 L280.27,439.14 L280.69,436.74 L281.10,434.31 L281.52,431.85 L281.93,429.36 L282.35,426.84 L282.76,424.29 L283.18,421.71 L283.59,419.10 L284.01,416.47 L284.42,413.80 L284.84,411.11 L285.25,408.40 L285.67,405.66 L286.08,402.89 L286.50,400.11 L286.91,397.31 L287.33,394.49 L287.74,391.65 L288.16,388.80 L288.57,385.94 L288.99,383.07 L289.40,380.20 L289.82,377.32 L290.23,374.44 L290.65,371.57 L291.07,368.70 L291.48,365.83 L291.90,362.98 L292.31,360.14 L292.73,357.32 L293.14,354.51 L293.56,351.72 L293.97,348.96 L294.39,346.23 L294.80,343.52 L295.22,340.84 L295.63,338.20 L296.05,335.58 L296.46,333.00 L296.88,330.46 L297.29,327.96 L297.71,325.49 L298.12,323.05 L298.54,320.66 L298.95,318.30 L299.37,315.98 L299.78,313.69 L300.20,311.44 L300.61,309.22 L301.03,307.02 L301.44,304.86 L301.86,302.72 L302.27,300.61 L302.69,298.51 L303.10,296.44 L303.52,294.38 L303.93,292.33 L304.35,290.29 L304.76,288.25 L305.18,286.22 L305.59,284.19 L306.01,282.16 L306.42,280.13 L306.84,278.09 L307.25,276.05 L307.67,274.00 L308.09,271.95 L308.50,269.89 L308.92,267.82 L309.33,265.75 L309.75,263.68 L310.16,261.61 L310.58,259.54 L310.99,257.48 L311.41,255.43 L311.82,253.39 L312.24,251.37 L312.65,249.38 L313.07,247.41 L313.48,245.47 L313.90,243.56 L314.31,241.69 L314.73,239.87 L315.14,238.09 L315.56,236.36 L315.97,234.68 L316.39,233.06 L316.80,231.49 L317.22,229.97 L317.63,228.52 L318.05,227.11 L318.46,225.77 L318.88,224.48 L319.29,223.24 L319.71,222.05 L320.12,220.91 L320.54,219.81 L320.95,218.76 L321.37,217.74 L321.78,216.77 L322.20,215.82 L322.61,214.90 L323.03,214.01 L323.44,213.15 L323.86,212.30 L324.28,211.48 L324.69,210.67 L325.11,209.87 L325.52,209.09 L325.94,208.33 L326.35,207.57 L326.77,206.83 L327.18,206.10 L327.60,205.39 L328.01,204.68 L328.43,204.00 L328.84,203.32 L329.26,202.66 L329.67,202.02 L330.09,201.40 L330.50,200.80 L330.92,200.22 L331.33,199.66 L331.75,199.13 L332.16,198.62 L332.58,198.13 L332.99,197.68 L333.41,197.24 L333.82,196.84 L334.24,196.46 L334.65,196.11 L335.07,195.78 L335.48,195.48 L335.90,195.21 L336.31,194.96 L336.73,194.73 L337.14,194.52 L337.56,194.34 L337.97,194.18 L338.39,194.03 L338.80,193.90 L339.22,193.79 L339.63,193.69 L340.05,193.60 L340.46,193.52 L340.88,193.45 L341.30,193.39 L341.71,193.33 L342.13,193.27 L342.54,193.22 L342.96,193.16 L343.37,193.11 L343.79,193.05 L344.20,192.99 L344.62,192.92 L345.03,192.84 L345.45,192.76 L345.86,192.66 L346.28,192.56 L346.69,192.44 L347.11,192.32 L347.52,192.18 L347.94,192.03 L348.35,191.86 L348.77,191.68 L349.18,191.48 L349.60,191.27 L350.01,191.05 L350.43,190.81 L350.84,190.55 L351.26,190.28 L351.67,189.99 L352.09,189.69 L352.50,189.37 L352.92,189.04 L353.33,188.69 L353.75,188.32 L354.16,187.94 L354.58,187.54 L354.99,187.13 L355.41,186.71 L355.82,186.27 L356.24,185.81 L356.65,185.34 L357.07,184.86 L357.49,184.36 L357.90,183.85 L358.32,183.32 L358.73,182.78 L359.15,182.23 L359.56,181.66 L359.98,181.08 L360.39,180.49 L360.81,179.88 L361.22,179.26 L361.64,178.63 L362.05,177.98 L362.47,177.32 L362.88,176.64 L363.30,175.95 L363.71,175.25 L364.13,174.53 L364.54,173.80 L364.96,173.05 L365.37,172.29 L365.79,171.51 L366.20,170.72 L366.62,169.92 L367.03,169.09 L367.45,168.25 L367.86,167.40 L368.28,166.52 L368.69,165.63 L369.11,164.73 L369.52,163.80 L369.94,162.86 L370.35,161.90 L370.77,160.92 L371.18,159.92 L371.60,158.90 L372.01,157.86 L372.43,156.80 L372.84,155.72 L373.26,154.62 L373.67,153.51 L374.09,152.37 L374.51,151.21 L374.92,150.03 L375.34,148.84 L375.75,147.62 L376.17,146.39 L376.58,145.15 L377.00,143.88 L377.41,142.61 L377.83,141.32 L378.24,140.02 L378.66,138.71 L379.07,137.40 L379.49,136.08 L379.90,134.77 L380.32,133.45 L380.73,132.13 L381.15,130.83 L381.56,129.53 L381.98,128.24 L382.39,126.98 L382.81,125.73 L383.22,124.50 L383.64,123.29 L384.05,122.12 L384.47,120.97 L384.88,119.86 L385.30,118.78 L385.71,117.73 L386.13,116.73 L386.54,115.76 L386.96,114.84 L387.37,113.95 L387.79,113.11 L388.20,112.31 L388.62,111.55 L389.03,110.84 L389.45,110.16 L389.86,109.52 L390.28,108.93 L390.70,108.37 L391.11,107.85 L391.53,107.36 L391.94,106.90 L392.36,106.48 L392.77,106.09 L393.19,105.73 L393.60,105.39 L394.02,105.08 L394.43,104.79 L394.85,104.53 L395.26,104.29 L395.68,104.07 L396.09,103.87 L396.51,103.69 L396.92,103.53 L397.34,103.39 L397.75,103.26 L398.17,103.16 L398.58,103.07 L399.00,103.00 L399.41,102.94 L399.83,102.90 L400.24,102.88 L400.66,102.88 L401.07,102.89 L401.49,102.93 L401.90,102.98 L402.32,103.04 L402.73,103.13 L403.15,103.23 L403.56,103.35 L403.98,103.49 L404.39,103.64 L404.81,103.81 L405.22,104.00 L405.64,104.20 L406.05,104.42 L406.47,104.65 L406.88,104.90 L407.30,105.16 L407.72,105.43 L408.13,105.72 L408.55,106.01 L408.96,106.32 L409.38,106.64 L409.79,106.96 L410.21,107.29 L410.62,107.62 L411.04,107.96 L411.45,108.31 L411.87,108.65 L412.28,109.00 L412.70,109.35 L413.11,109.69 L413.53,110.04 L413.94,110.38 L414.36,110.71 L414.77,111.04 L415.19,111.36 L415.60,111.67 L416.02,111.97 L416.43,112.26 L416.85,112.54 L417.26,112.80 L417.68,113.05 L418.09,113.29 L418.51,113.50 L418.92,113.70 L419.34,113.88 L419.75,114.04 L420.17,114.18 L420.58,114.30 L421.00,114.40 L421.41,114.47 L421.83,114.52 L422.24,114.55 L422.66,114.55 L423.07,114.52 L423.49,114.47 L423.91,114.40 L424.32,114.29 L424.74,114.16 L425.15,114.01 L425.57,113.82 L425.98,113.61 L426.40,113.38 L426.81,113.11 L427.23,112.82 L427.64,112.51 L428.06,112.17 L428.47,111.80 L428.89,111.41 L429.30,110.99 L429.72,110.55 L430.13,110.09 L430.55,109.61 L430.96,109.10 L431.38,108.58 L431.79,108.03 L432.21,107.47 L432.62,106.89 L433.04,106.29 L433.45,105.68 L433.87,105.05 L434.28,104.41 L434.70,103.76 L435.11,103.10 L435.53,102.43 L435.94,101.75 L436.36,101.06 L436.77,100.37 L437.19,99.67 L437.60,98.97 L438.02,98.27 L438.43,97.57 L438.85,96.87 L439.26,96.17 L439.68,95.47 L440.10,94.78 L440.51,94.09 L440.93,93.41 L441.34,92.74 L441.76,92.07 L442.17,91.42 L442.59,90.77 L443.00,90.14 L443.42,89.51 L443.83,88.91 L444.25,88.31 L444.66,87.73 L445.08,87.16 L445.49,86.61 L445.91,86.08 L446.32,85.56 L446.74,85.06 L447.15,84.58 L447.57,84.12 L447.98,83.67 L448.40,83.25 L448.81,82.84 L449.23,82.45 L449.64,82.09 L450.06,81.74 L450.47,81.41 L450.89,81.11 L451.30,80.82 L451.72,80.56 L452.13,80.31 L452.55,80.09 L452.96,79.89 L453.38,79.71 L453.79,79.55 L454.21,79.41 L454.62,79.29 L455.04,79.20 L455.45,79.12 L455.87,79.07 L456.28,79.04 L456.70,79.03 L457.12,79.04 L457.53,79.07 L457.95,79.12 L458.36,79.20 L458.78,79.29 L459.19,79.41 L459.61,79.55 L460.02,79.71 L460.44,79.89 L460.85,80.09 L461.27,80.31 L461.68,80.56 L462.10,80.82 L462.51,81.11 L462.93,81.41 L463.34,81.74 L463.76,82.09 L464.17,82.45 L464.59,82.84 L465.00,83.25 L465.42,83.67 L465.83,84.12 L466.25,84.58 L466.66,85.06 L467.08,85.56 L467.49,86.08 L467.91,86.61 L468.32,87.16 L468.74,87.73 L469.15,88.31 L469.57,88.91 L469.98,89.51 L470.40,90.14 L470.81,90.77 L471.23,91.42 L471.64,92.07 L472.06,92.74 L472.47,93.41 L472.89,94.09 L473.30,94.78 L473.72,95.47 L474.14,96.17 L474.55,96.87 L474.97,97.57 L475.38,98.27 L475.80,98.97 L476.21,99.67 L476.63,100.37 L477.04,101.06 L477.46,101.75 L477.87,102.43 L478.29,103.10 L478.70,103.76 L479.12,104.41 L479.53,105.05 L479.95,105.68 L480.36,106.29 L480.78,106.89 L481.19,107.47 L481.61,108.03 L482.02,108.58 L482.44,109.10 L482.85,109.61 L483.27,110.09 L483.68,110.55 L484.10,110.99 L484.51,111.41 L484.93,111.80 L485.34,112.17 L485.76,112.51 L486.17,112.82 L486.59,113.11 L487.00,113.38 L487.42,113.61 L487.83,113.82 L488.25,114.01 L488.66,114.16 L489.08,114.29 L489.49,114.40 L489.91,114.47 L490.33,114.52 L490.74,114.55 L491.16,114.55 L491.57,114.52 L491.99,114.47 L492.40,114.40 L492.82,114.30 L493.23,114.18 L493.65,114.04 L494.06,113.88 L494.48,113.70 L494.89,113.50 L495.31,113.29 L495.72,113.05 L496.14,112.80 L496.55,112.54 L496.97,112.26 L497.38,111.97 L497.80,111.67 L498.21,111.36 L498.63,111.04 L499.04,110.71 L499.46,110.38 L499.87,110.04 L500.29,109.69 L500.70,109.35 L501.12,109.00 L501.53,108.65 L501.95,108.31 L502.36,107.96 L502.78,107.62 L503.19,107.29 L503.61,106.96 L504.02,106.64 L504.44,106.32 L504.85,106.01 L505.27,105.72 L505.68,105.43 L506.10,105.16 L506.51,104.90 L506.93,104.65 L507.35,104.42 L507.76,104.20 L508.18,104.00 L508.59,103.81 L509.01,103.64 L509.42,103.49 L509.84,103.35 L510.25,103.23 L510.67,103.13 L511.08,103.04 L511.50,102.98 L511.91,102.93 L512.33,102.89 L512.74,102.88 L513.16,102.88 L513.57,102.90 L513.99,102.94 L514.40,103.00 L514.82,103.07 L515.23,103.16 L515.65,103.26 L516.06,103.39 L516.48,103.53 L516.89,103.69 L517.31,103.87 L517.72,104.07 L518.14,104.29 L518.55,104.53 L518.97,104.79 L519.38,105.08 L519.80,105.39 L520.21,105.73 L520.63,106.09 L521.04,106.48 L521.46,106.90 L521.87,107.36 L522.29,107.85 L522.70,108.37 L523.12,108.93 L523.54,109.52 L523.95,110.16 L524.37,110.84 L524.78,111.55 L525.20,112.31 L525.61,113.11 L526.03,113.95 L526.44,114.84 L526.86,115.76 L527.27,116.73 L527.69,117.73 L528.10,118.78 L528.52,119.86 L528.93,120.97 L529.35,122.12 L529.76,123.29 L530.18,124.50 L530.59,125.73 L531.01,126.98 L531.42,128.24 L531.84,129.53 L532.25,130.83 L532.67,132.13 L533.08,133.45 L533.50,134.77 L533.91,136.08 L534.33,137.40 L534.74,138.71 L535.16,140.02 L535.57,141.32 L535.99,142.61 L536.40,143.88 L536.82,145.15 L537.23,146.39 L537.65,147.62 L538.06,148.84 L538.48,150.03 L538.89,151.21 L539.31,152.37 L539.73,153.51 L540.14,154.62 L540.56,155.72 L540.97,156.80 L541.39,157.86 L541.80,158.90 L542.22,159.92 L542.63,160.92 L543.05,161.90 L543.46,162.86 L543.88,163.80 L544.29,164.73 L544.71,165.63 L545.12,166.52 L545.54,167.40 L545.95,168.25 L546.37,169.09 L546.78,169.92 L547.20,170.72 L547.61,171.51 L548.03,172.29 L548.44,173.05 L548.86,173.80 L549.27,174.53 L549.69,175.25 L550.10,175.95 L550.52,176.64 L550.93,177.32 L551.35,177.98 L551.76,178.63 L552.18,179.26 L552.59,179.88 L553.01,180.49 L553.42,181.08 L553.84,181.66 L554.25,182.23 L554.67,182.78 L555.08,183.32 L555.50,183.85 L555.91,184.36 L556.33,184.86 L556.75,185.34 L557.16,185.81 L557.58,186.27 L557.99,186.71 L558.41,187.13 L558.82,187.54 L559.24,187.94 L559.65,188.32 L560.07,188.69 L560.48,189.04 L560.90,189.37 L561.31,189.69 L561.73,189.99 L562.14,190.28 L562.56,190.55 L562.97,190.81 L563.39,191.05 L563.80,191.27 L564.22,191.48 L564.63,191.68 L565.05,191.86 L565.46,192.03 L565.88,192.18 L566.29,192.32 L566.71,192.44 L567.12,192.56 L567.54,192.66 L567.95,192.76 L568.37,192.84 L568.78,192.92 L569.20,192.99 L569.61,193.05 L570.03,193.11 L570.44,193.16 L570.86,193.22 L571.27,193.27 L571.69,193.33 L572.10,193.39 L572.52,193.45 L572.93,193.52 L573.35,193.60 L573.77,193.69 L574.18,193.79 L574.60,193.90 L575.01,194.03 L575.43,194.18 L575.84,194.34 L576.26,194.52 L576.67,194.73 L577.09,194.96 L577.50,195.21 L577.92,195.48 L578.33,195.78 L578.75,196.11 L579.16,196.46 L579.58,196.84 L579.99,197.24 L580.41,197.68 L580.82,198.13 L581.24,198.62 L581.65,199.13 L582.07,199.66 L582.48,200.22 L582.90,200.80 L583.31,201.40 L583.73,202.02 L584.14,202.66 L584.56,203.32 L584.97,204.00 L585.39,204.68 L585.80,205.39 L586.22,206.10 L586.63,206.83 L587.05,207.57 L587.46,208.33 L587.88,209.09 L588.29,209.87 L588.71,210.67 L589.12,211.48 L589.54,212.30 L589.96,213.15 L590.37,214.01 L590.79,214.90 L591.20,215.82 L591.62,216.77 L592.03,217.74 L592.45,218.76 L592.86,219.81 L593.28,220.91 L593.69,222.05 L594.11,223.24 L594.52,224.48 L594.94,225.77 L595.35,227.11 L595.77,228.52 L596.18,229.97 L596.60,231.49 L597.01,233.06 L597.43,234.68 L597.84,236.36 L598.26,238.09 L598.67,239.87 L599.09,241.69 L599.50,243.56 L599.92,245.47 L600.33,247.41 L600.75,249.38 L601.16,251.37 L601.58,253.39 L601.99,255.43 L602.41,257.48 L602.82,259.54 L603.24,261.61 L603.65,263.68 L604.07,265.75 L604.48,267.82 L604.90,269.89 L605.31,271.95 L605.73,274.00 L606.14,276.05 L606.56,278.09 L606.98,280.13 L607.39,282.16 L607.81,284.19 L608.22,286.22 L608.64,288.25 L609.05,290.29 L609.47,292.33 L609.88,294.38 L610.30,296.44 L610.71,298.51 L611.13,300.61 L611.54,302.72 L611.96,304.86 L612.37,307.02 L612.79,309.22 L613.20,311.44 L613.62,313.69 L614.03,315.98 L614.45,318.30 L614.86,320.66 L615.28,323.05 L615.69,325.49 L616.11,327.96 L616.52,330.46 L616.94,333.00 L617.35,335.58 L617.77,338.20 L618.18,340.84 L618.60,343.52 L619.01,346.23 L619.43,348.96 L619.84,351.72 L620.26,354.51 L620.67,357.32 L621.09,360.14 L621.50,362.98 L621.92,365.83 L622.33,368.70 L622.75,371.57 L623.17,374.44 L623.58,377.32 L624.00,380.20 L624.41,383.07 L624.83,385.94 L625.24,388.80 L625.66,391.65 L626.07,394.49 L626.49,397.31 L626.90,400.11 L627.32,402.89 L627.73,405.66 L628.15,408.40 L628.56,411.11 L628.98,413.80 L629.39,416.47 L629.81,419.10 L630.22,421.71 L630.64,424.29 L631.05,426.84 L631.47,429.36 L631.88,431.85 L632.30,434.31 L632.71,436.74 L633.13,439.14 L633.54,441.52 L633.96,443.86 L634.37,446.18 L634.79,448.46 L635.20,450.73 L635.62,452.96 L636.03,455.17 L636.45,457.36 L636.86,459.53 L637.28,461.67 L637.69,463.79 L638.11,465.89 L638.52,467.97 L638.94,470.04 L639.35,472.08 L639.77,474.12 L640.19,476.13 L640.60,478.13 L641.02,480.12 L641.43,482.10 L641.85,484.06 L642.26,486.01 L642.68,487.95 L643.09,489.88 L643.51,491.80 L643.92,493.71 L644.34,495.61 L644.75,497.50 L645.17,499.38 L645.58,501.25 L646.00,503.11 L646.41,504.96 L646.83,506.80 L647.24,508.63 L647.66,510.45 L648.07,512.25 L648.49,514.05 L648.90,515.83 L649.32,517.60 L649.73,519.36 L650.15,521.10 L650.56,522.83 L650.98,524.54 L651.39,526.23 L651.81,527.91 L652.22,529.57 L652.64,531.21 L653.05,532.83 L653.47,534.43 L653.88,536.01 L654.30,537.57 L654.71,539.11 L655.13,540.62 L655.54,542.11 L655.96,543.57 L656.38,545.01 L656.79,546.43 L657.21,547.82 L657.62,549.18 L658.04,550.52 L658.45,551.82 L658.87,553.11 L659.28,554.36 L659.70,555.59 L660.11,556.78 L660.53,557.95 L660.94,559.10 L661.36,560.21 L661.77,561.30 L662.19,562.35 L662.60,563.38 L663.02,564.39 L663.43,565.36 L663.85,566.31 L664.26,567.23 L664.68,568.12 L665.09,568.99 L665.51,569.83 L665.92,570.65 L666.34,571.44 L666.75,572.21 L667.17,572.95 L667.58,573.67 L668.00,574.36 L668.41,575.04 L668.83,575.69 L669.24,576.32 L669.66,576.92 L670.07,577.51 L670.49,578.08 L670.90,578.63 L671.32,579.16 L671.73,579.67 L672.15,580.16 L672.57,580.64 L672.98,581.10 L673.40,581.54 L673.81,581.97 L674.23,582.38 L674.64,582.78 L675.06,583.16 L675.47,583.53 L675.89,583.89 L676.30,584.23 L676.72,584.57 L677.13,584.89 L677.55,585.20 L677.96,585.50 L678.38,585.78 L678.79,586.06 L679.21,586.33 L679.62,586.59 L680.04,586.84 L680.45,587.08 L680.87,587.31 L681.28,587.53 L681.70,587.75 L682.11,587.96 L682.53,588.16 L682.94,588.35 L683.36,588.54 L683.77,588.72 L684.19,588.89 L684.60,589.06 L685.02,589.22 L685.43,589.38 L685.85,589.53 L686.26,589.68 L686.68,589.82 L687.09,589.95 L687.51,590.08 L687.92,590.21 L688.34,590.33 L688.75,590.45 L689.17,590.56 L689.59,590.67 L690.00,590.77 L690.42,590.87 L690.83,590.97 L691.25,591.06 L691.66,591.15 L692.08,591.24 L692.49,591.32 L692.91,591.40 L693.32,591.48 L693.74,591.55 L694.15,591.62 L694.57,591.69 L694.98,591.76 L695.40,591.82 L695.81,591.88 L696.23,591.94 L696.64,592.00 L697.06,592.05 L697.47,592.10 L697.89,592.15 L698.30,592.20 L698.72,592.24 L699.13,592.28 L699.55,592.33 L699.96,592.36 L700.38,592.40 L700.79,592.44 L701.21,592.47 L701.62,592.50 L702.04,592.54 L702.45,592.57 L702.87,592.59 L703.28,592.62 L703.70,592.65 L704.11,592.67 L704.53,592.70 L704.94,592.72 L705.36,592.74 L705.77,592.76 L706.19,592.78 L706.61,592.80 L707.02,592.81 L707.44,592.83 L707.85,592.85 L708.27,592.86 L708.68,592.87 L709.10,592.89 L709.51,592.90 L709.93,592.91 L710.34,592.92 L710.76,592.93 L711.17,592.94 L711.59,592.95 L712.00,592.96 L712.42,592.97 L712.83,592.98 L713.25,592.99 L713.66,592.99 L714.08,593.00 L714.49,593.01 L714.91,593.01 L715.32,593.02 L715.74,593.02 L716.15,593.03 L716.57,593.03 L716.98,593.04 L717.40,593.04 L717.81,593.05 L718.23,593.05 L718.64,593.05 L719.06,593.06 L719.47,593.06 L719.89,593.06 L720.30,593.06 L720.72,593.07 L721.13,593.07 L721.55,593.07 L721.96,593.07 L722.38,593.07 L722.80,593.08 L723.21,593.08 L723.63,593.08 L724.04,593.08 L724.46,593.08 L724.87,593.08 L725.29,593.08 L725.70,593.09 L726.12,593.09 L726.53,593.09 L726.95,593.09 L727.36,593.09 L727.78,593.09 L728.19,593.09 L728.61,593.09 L729.02,593.09 L729.44,593.09 L729.85,593.09 L730.27,593.09 L730.68,593.09 L731.10,593.09 L731.51,593.09 L731.93,593.10 L732.34,593.10 L732.76,593.10 L733.17,593.10 L733.59,593.10 L734.00,593.10 L734.42,593.10 L734.83,593.10 L735.25,593.10 L735.66,593.10 L736.08,593.10 L736.49,593.10 L736.91,593.10 L737.32,593.10 L737.74,593.10 L738.15,593.10 L738.57,593.10 L738.98,593.10 L739.40,593.10 L739.82,593.10 L740.23,593.10 L740.65,593.10 L741.06,593.10 L741.48,593.10 L741.89,593.10 L742.31,593.10 L742.72,593.10 L743.14,593.10 L743.55,593.10 L743.97,593.10 L744.38,593.10 L744.80,593.10 L745.21,593.10 L745.63,593.10 L746.04,593.10 L746.46,593.10 L746.87,593.10 L747.29,593.10 L747.70,593.10 L748.12,593.10 L748.53,593.10 L748.95,593.10 L749.36,593.10 L749.78,593.10 L750.19,593.10 L750.61,593.10 L751.02,593.10 L751.44,593.10 L751.85,593.10 L752.27,593.10 L752.68,593.10 L753.10,593.10 L753.51,593.10 L753.93,593.10 L754.34,593.10 L754.76,593.10 L755.17,593.10 L755.59,593.10 L756.01,593.10 L756.42,593.10 L756.84,593.10 L757.25,593.10 L757.67,593.10 L758.08,593.10 L758.50,593.10 L758.91,593.10 L759.33,593.10 L759.74,593.10 L760.16,593.10 L760.57,593.10 L760.99,593.10 L761.40,593.10 L761.82,593.10 L762.23,593.10 L762.65,593.10 L763.06,593.10 L763.48,593.10 L763.89,593.10 L764.31,593.10 L764.72,593.10 L765.14,593.10 L765.55,593.10 L765.97,593.10 L766.38,593.10 L766.80,593.10 L767.21,593.10 L767.63,593.10 L768.04,593.10 L768.46,593.10 L768.87,593.10 L769.29,593.10 L769.70,593.10 L770.12,593.10 L770.53,593.10 L770.95,593.10 L771.36,593.10 L771.78,593.10 L772.19,593.10 L772.61,593.10 L773.03,593.10 L773.44,593.10 L773.86,593.10 L774.27,593.10 L774.69,593.10 L775.10,593.10 L775.52,593.10 L775.93,593.10 L776.35,593.10 L776.76,593.10 L777.18,593.10 L777.59,593.10 L778.01,593.10 L778.42,593.10 L778.84,593.10 L779.25,593.10 L779.67,593.10 L780.08,593.10 L780.50,593.10 L780.91,593.10 L781.33,593.10 L781.74,593.10 L782.16,593.10 L782.57,593.10 L782.99,593.10 L783.40,593.10 L783.82,593.10 L784.23,593.10 L784.65,593.10 L785.06,593.10 L785.48,593.10 L785.89,593.10 L786.31,593.10 L786.72,593.10 L787.14,593.10 L787.55,593.10 L787.97,593.10 L788.38,593.10 L788.80,593.10" stroke="#00ff00" stroke-width="4.1"/>
<path d="M124.60,593.10 L125.02,593.10 L125.43,593.10 L125.85,593.10 L126.26,593.10 L126.68,593.10 L127.09,593.10 L127.51,593.10 L127.92,593.10 L128.34,593.10 L128.75,593.10 L129.17,593.10 L129.58,593.10 L130.00,593.10 L130.41,593.10 L130.83,593.10 L131.24,593.10 L131.66,593.10 L132.07,593.10 L132.49,593.10 L132.90,593.10 L133.32,593.10 L133.73,593.10 L134.15,593.10 L134.56,593.10 L134.98,593.10 L135.39,593.10 L135.81,593.10 L136.22,593.10 L136.64,593.10 L137.05,593.10 L137.47,593.10 L137.88,593.10 L138.30,593.10 L138.71,593.10 L139.13,593.10 L139.54,593.10 L139.96,593.10 L140.37,593.10 L140.79,593.10 L141.20,593.10 L141.62,593.10 L142.04,593.10 L142.45,593.10 L142.87,593.10 L143.28,593.10 L143.70,593.10 L144.11,593.10 L144.53,593.10 L144.94,593.10 L145.36,593.10 L145.77,593.10 L146.19,593.10 L146.60,593.10 L147.02,593.10 L147.43,593.10 L147.85,593.10 L148.26,593.10 L148.68,593.10 L149.09,593.10 L149.51,593.10 L149.92,593.10 L150.34,593.10 L150.75,593.10 L151.17,593.09 L151.58,593.09 L152.00,593.09 L152.41,593.09 L152.83,593.09 L153.24,593.09 L153.66,593.09 L154.07,593.09 L154.49,593.09 L154.90,593.09 L155.32,593.09 L155.73,593.09 L156.15,593.09 L156.56,593.09 L156.98,593.09 L157.39,593.09 L157.81,593.09 L158.23,593.09 L158.64,593.09 L159.06,593.09 L159.47,593.09 L159.89,593.09 L160.30,593.09 L160.72,593.09 L161.13,593.09 L161.55,593.09 L161.96,593.09 L162.38,593.08 L162.79,593.08 L163.21,593.08 L163.62,593.08 L164.04,593.08 L164.45,593.08 L164.87,593.08 L165.28,593.08 L165.70,593.08 L166.11,593.08 L166.53,593.08 L166.94,593.08 L167.36,593.07 L167.77,593.07 L168.19,593.07 L168.60,593.07 L169.02,593.07 L169.43,593.07 L169.85,593.07 L170.26,593.07 L170.68,593.06 L171.09,593.06 L171.51,593.06 L171.92,593.06 L172.34,593.06 L172.75,593.06 L173.17,593.05 L173.58,593.05 L174.00,593.05 L174.42,593.05 L174.83,593.04 L175.25,593.04 L175.66,593.04 L176.08,593.04 L176.49,593.03 L176.91,593.03 L177.32,593.03 L177.74,593.03 L178.15,593.02 L178.57,593.02 L178.98,593.01 L179.40,593.01 L179.81,593.01 L180.23,593.00 L180.64,593.00 L181.06,592.99 L181.47,592.99 L181.89,592.98 L182.30,592.98 L182.72,592.97 L183.13,592.97 L183.55,592.96 L183.96,592.95 L184.38,592.95 L184.79,592.94 L185.21,592.93 L185.62,592.93 L186.04,592.92 L186.45,592.91 L186.87,592.90 L187.28,592.89 L187.70,592.88 L188.11,592.87 L188.53,592.86 L188.94,592.85 L189.36,592.84 L189.77,592.82 L190.19,592.81 L190.60,592.80 L191.02,592.78 L191.44,592.77 L191.85,592.75 L192.27,592.74 L192.68,592.72 L193.10,592.70 L193.51,592.68 L193.93,592.66 L194.34,592.64 L194.76,592.62 L195.17,592.60 L195.59,592.57 L196.00,592.55 L196.42,592.52 L196.83,592.50 L197.25,592.47 L197.66,592.44 L198.08,592.41 L198.49,592.38 L198.91,592.34 L199.32,592.31 L199.74,592.27 L200.15,592.23 L200.57,592.19 L200.98,592.15 L201.40,592.10 L201.81,592.06 L202.23,592.01 L202.64,591.96 L203.06,591.90 L203.47,591.85 L203.89,591.79 L204.30,591.73 L204.72,591.67 L205.13,591.60 L205.55,591.54 L205.96,591.46 L206.38,591.39 L206.79,591.31 L207.21,591.23 L207.62,591.15 L208.04,591.06 L208.46,590.97 L208.87,590.87 L209.29,590.77 L209.70,590.67 L210.12,590.56 L210.53,590.45 L210.95,590.34 L211.36,590.21 L211.78,590.09 L212.19,589.96 L212.61,589.82 L213.02,589.68 L213.44,589.53 L213.85,589.38 L214.27,589.22 L214.68,589.05 L215.10,588.88 L215.51,588.70 L215.93,588.52 L216.34,588.33 L216.76,588.13 L217.17,587.92 L217.59,587.71 L218.00,587.49 L218.42,587.26 L218.83,587.02 L219.25,586.77 L219.66,586.51 L220.08,586.25 L220.49,585.97 L220.91,585.69 L221.32,585.40 L221.74,585.09 L222.15,584.78 L222.57,584.45 L222.98,584.11 L223.40,583.77 L223.81,583.41 L224.23,583.03 L224.65,582.65 L225.06,582.25 L225.48,581.84 L225.89,581.42 L226.31,580.98 L226.72,580.53 L227.14,580.07 L227.55,579.59 L227.97,579.09 L228.38,578.58 L228.80,578.05 L229.21,577.51 L229.63,576.95 L230.04,576.37 L230.46,575.77 L230.87,575.16 L231.29,574.52 L231.70,573.86 L232.12,573.19 L232.53,572.49 L232.95,571.77 L233.36,571.03 L233.78,570.26 L234.19,569.47 L234.61,568.65 L235.02,567.81 L235.44,566.94 L235.85,566.05 L236.27,565.13 L236.68,564.17 L237.10,563.19 L237.51,562.18 L237.93,561.15 L238.34,560.08 L238.76,558.98 L239.17,557.84 L239.59,556.68 L240.00,555.49 L240.42,554.27 L240.83,553.02 L241.25,551.74 L241.67,550.43 L242.08,549.10 L242.50,547.73 L242.91,546.35 L243.33,544.93 L243.74,543.50 L244.16,542.04 L244.57,540.57 L244.99,539.07 L245.40,537.56 L245.82,536.04 L246.23,534.50 L246.65,532.95 L247.06,531.38 L247.48,529.81 L247.89,528.23 L248.31,526.65 L248.72,525.05 L249.14,523.45 L249.55,521.85 L249.97,520.24 L250.38,518.62 L250.80,517.00 L251.21,515.37 L251.63,513.74 L252.04,512.10 L252.46,510.45 L252.87,508.79 L253.29,507.13 L253.70,505.45 L254.12,503.76 L254.53,502.05 L254.95,500.33 L255.36,498.59 L255.78,496.84 L256.19,495.06 L256.61,493.27 L257.02,491.45 L257.44,489.61 L257.86,487.75 L258.27,485.86 L258.69,483.95 L259.10,482.01 L259.52,480.05 L259.93,478.06 L260.35,476.05 L260.76,474.01 L261.18,471.95 L261.59,469.86 L262.01,467.75 L262.42,465.62 L262.84,463.46 L263.25,461.28 L263.67,459.08 L264.08,456.86 L264.50,454.62 L264.91,452.36 L265.33,450.08 L265.74,447.79 L266.16,445.48 L266.57,443.16 L266.99,440.83 L267.40,438.48 L267.82,436.12 L268.23,433.75 L268.65,431.37 L269.06,428.98 L269.48,426.59 L269.89,424.19 L270.31,421.78 L270.72,419.37 L271.14,416.95 L271.55,414.54 L271.97,412.12 L272.38,409.70 L272.80,407.28 L273.21,404.86 L273.63,402.44 L274.04,400.03 L274.46,397.62 L274.88,395.22 L275.29,392.83 L275.71,390.44 L276.12,388.06 L276.54,385.68 L276.95,383.32 L277.37,380.97 L277.78,378.64 L278.20,376.31 L278.61,374.01 L279.03,371.71 L279.44,369.44 L279.86,367.18 L280.27,364.94 L280.69,362.72 L281.10,360.52 L281.52,358.34 L281.93,356.19 L282.35,354.06 L282.76,351.95 L283.18,349.87 L283.59,347.82 L284.01,345.79 L284.42,343.80 L284.84,341.83 L285.25,339.89 L285.67,337.97 L286.08,336.09 L286.50,334.24 L286.91,332.43 L287.33,330.64 L287.74,328.88 L288.16,327.16 L288.57,325.47 L288.99,323.82 L289.40,322.19 L289.82,320.60 L290.23,319.04 L290.65,317.51 L291.07,316.02 L291.48,314.55 L291.90,313.12 L292.31,311.72 L292.73,310.35 L293.14,309.00 L293.56,307.69 L293.97,306.41 L294.39,305.15 L294.80,303.92 L295.22,302.72 L295.63,301.54 L296.05,300.39 L296.46,299.26 L296.88,298.15 L297.29,297.06 L297.71,296.00 L298.12,294.95 L298.54,293.92 L298.95,292.91 L299.37,291.91 L299.78,290.93 L300.20,289.97 L300.61,289.01 L301.03,288.07 L301.44,287.14 L301.86,286.22 L302.27,285.31 L302.69,284.40 L303.10,283.51 L303.52,282.61 L303.93,281.73 L304.35,280.85 L304.76,279.97 L305.18,279.09 L305.59,278.22 L306.01,277.35 L306.42,276.48 L306.84,275.61 L307.25,274.74 L307.67,273.87 L308.09,273.00 L308.50,272.13 L308.92,271.26 L309.33,270.39 L309.75,269.51 L310.16,268.64 L310.58,267.76 L310.99,266.88 L311.41,266.00 L311.82,265.11 L312.24,264.23 L312.65,263.34 L313.07,262.46 L313.48,261.57 L313.90,260.68 L314.31,259.79 L314.73,258.90 L315.14,258.02 L315.56,257.13 L315.97,256.24 L316.39,255.36 L316.80,254.48 L317.22,253.59 L317.63,252.72 L318.05,251.84 L318.46,250.97 L318.88,250.11 L319.29,249.24 L319.71,248.39 L320.12,247.54 L320.54,246.69 L320.95,245.85 L321.37,245.02 L321.78,244.19 L322.20,243.37 L322.61,242.56 L323.03,241.76 L323.44,240.97 L323.86,240.18 L324.28,239.41 L324.69,238.64 L325.11,237.88 L325.52,237.14 L325.94,236.40 L326.35,235.67 L326.77,234.95 L327.18,234.25 L327.60,233.55 L328.01,232.86 L328.43,232.19 L328.84,231.52 L329.26,230.87 L329.67,230.22 L330.09,229.59 L330.50,228.96 L330.92,228.35 L331.33,227.74 L331.75,227.15 L332.16,226.56 L332.58,225.99 L332.99,225.42 L333.41,224.86 L333.82,224.31 L334.24,223.77 L334.65,223.23 L335.07,222.70 L335.48,222.18 L335.90,221.67 L336.31,221.16 L336.73,220.66 L337.14,220.16 L337.56,219.66 L337.97,219.18 L338.39,218.69 L338.80,218.21 L339.22,217.73 L339.63,217.26 L340.05,216.78 L340.46,216.31 L340.88,215.84 L341.30,215.37 L341.71,214.90 L342.13,214.43 L342.54,213.96 L342.96,213.49 L343.37,213.01 L343.79,212.54 L344.20,212.06 L344.62,211.58 L345.03,211.09 L345.45,210.61 L345.86,210.11 L346.28,209.62 L346.69,209.12 L347.11,208.61 L347.52,208.10 L347.94,207.58 L348.35,207.06 L348.77,206.53 L349.18,205.99 L349.60,205.45 L350.01,204.90 L350.43,204.35 L350.84,203.79 L351.26,203.22 L351.67,202.64 L352.09,202.06 L352.50,201.47 L352.92,200.87 L353.33,200.26 L353.75,199.65 L354.16,199.03 L354.58,198.41 L354.99,197.77 L355.41,197.13 L355.82,196.49 L356.24,195.83 L356.65,195.17 L357.07,194.51 L357.49,193.83 L357.90,193.16 L358.32,192.47 L358.73,191.79 L359.15,191.09 L359.56,190.40 L359.98,189.70 L360.39,188.99 L360.81,188.28 L361.22,187.57 L361.64,186.86 L362.05,186.14 L362.47,185.43 L362.88,184.71 L363.30,183.99 L363.71,183.27 L364.13,182.55 L364.54,181.83 L364.96,181.11 L365.37,180.39 L365.79,179.67 L366.20,178.96 L366.62,178.24 L367.03,177.54 L367.45,176.83 L367.86,176.13 L368.28,175.43 L368.69,174.74 L369.11,174.05 L369.52,173.37 L369.94,172.69 L370.35,172.02 L370.77,171.36 L371.18,170.70 L371.60,170.05 L372.01,169.41 L372.43,168.78 L372.84,168.15 L373.26,167.54 L373.67,166.93 L374.09,166.33 L374.51,165.74 L374.92,165.15 L375.34,164.58 L375.75,164.02 L376.17,163.47 L376.58,162.92 L377.00,162.39 L377.41,161.86 L377.83,161.35 L378.24,160.84 L378.66,160.34 L379.07,159.85 L379.49,159.38 L379.90,158.91 L380.32,158.45 L380.73,157.99 L381.15,157.55 L381.56,157.12 L381.98,156.69 L382.39,156.27 L382.81,155.86 L383.22,155.45 L383.64,155.05 L384.05,154.66 L384.47,154.28 L384.88,153.90 L385.30,153.52 L385.71,153.15 L386.13,152.79 L386.54,152.43 L386.96,152.07 L387.37,151.72 L387.79,151.37 L388.20,151.03 L388.62,150.69 L389.03,150.35 L389.45,150.01 L389.86,149.68 L390.28,149.34 L390.70,149.01 L391.11,148.68 L391.53,148.35 L391.94,148.03 L392.36,147.70 L392.77,147.38 L393.19,147.06 L393.60,146.74 L394.02,146.42 L394.43,146.10 L394.85,145.79 L395.26,145.47 L395.68,145.16 L396.09,144.85 L396.51,144.55 L396.92,144.24 L397.34,143.94 L397.75,143.65 L398.17,143.35 L398.58,143.07 L399.00,142.78 L399.41,142.51 L399.83,142.23 L400.24,141.97 L400.66,141.71 L401.07,141.45 L401.49,141.20 L401.90,140.96 L402.32,140.73 L402.73,140.51 L403.15,140.29 L403.56,140.08 L403.98,139.88 L404.39,139.69 L404.81,139.51 L405.22,139.33 L405.64,139.17 L406.05,139.01 L406.47,138.86 L406.88,138.72 L407.30,138.59 L407.72,138.47 L408.13,138.36 L408.55,138.25 L408.96,138.15 L409.38,138.06 L409.79,137.97 L410.21,137.89 L410.62,137.82 L411.04,137.75 L411.45,137.68 L411.87,137.62 L412.28,137.56 L412.70,137.51 L413.11,137.45 L413.53,137.40 L413.94,137.34 L414.36,137.29 L414.77,137.23 L415.19,137.18 L415.60,137.11 L416.02,137.05 L416.43,136.98 L416.85,136.91 L417.26,136.83 L417.68,136.75 L418.09,136.66 L418.51,136.56 L418.92,136.46 L419.34,136.34 L419.75,136.22 L420.17,136.09 L420.58,135.95 L421.00,135.81 L421.41,135.65 L421.83,135.48 L422.24,135.31 L422.66,135.12 L423.07,134.93 L423.49,134.73 L423.91,134.51 L424.32,134.29 L424.74,134.06 L425.15,133.83 L425.57,133.58 L425.98,133.33 L426.40,133.07 L426.81,132.80 L427.23,132.53 L427.64,132.25 L428.06,131.97 L428.47,131.68 L428.89,131.39 L429.30,131.09 L429.72,130.79 L430.13,130.50 L430.55,130.20 L430.96,129.90 L431.38,129.59 L431.79,129.29 L432.21,129.00 L432.62,128.70 L433.04,128.41 L433.45,128.12 L433.87,127.83 L434.28,127.55 L434.70,127.27 L435.11,127.00 L435.53,126.73 L435.94,126.47 L436.36,126.22 L436.77,125.97 L437.19,125.73 L437.60,125.50 L438.02,125.28 L438.43,125.06 L438.85,124.85 L439.26,124.65 L439.68,124.46 L440.10,124.28 L440.51,124.11 L440.93,123.95 L441.34,123.79 L441.76,123.64 L442.17,123.50 L442.59,123.37 L443.00,123.25 L443.42,123.14 L443.83,123.03 L444.25,122.94 L444.66,122.85 L445.08,122.76 L445.49,122.69 L445.91,122.62 L446.32,122.55 L446.74,122.50 L447.15,122.44 L447.57,122.40 L447.98,122.36 L448.40,122.32 L448.81,122.29 L449.23,122.26 L449.64,122.24 L450.06,122.21 L450.47,122.20 L450.89,122.18 L451.30,122.17 L451.72,122.16 L452.13,122.15 L452.55,122.14 L452.96,122.14 L453.38,122.13 L453.79,122.13 L454.21,122.13 L454.62,122.12 L455.04,122.12 L455.45,122.12 L455.87,122.12 L456.28,122.12 L456.70,122.12 L457.12,122.12 L457.53,122.12 L457.95,122.12 L458.36,122.12 L458.78,122.12 L459.19,122.13 L459.61,122.13 L460.02,122.13 L460.44,122.14 L460.85,122.14 L461.27,122.15 L461.68,122.16 L462.10,122.17 L462.51,122.18 L462.93,122.20 L463.34,122.21 L463.76,122.24 L464.17,122.26 L464.59,122.29 L465.00,122.32 L465.42,122.36 L465.83,122.40 L466.25,122.44 L466.66,122.50 L467.08,122.55 L467.49,122.62 L467.91,122.69 L468.32,122.76 L468.74,122.85 L469.15,122.94 L469.57,123.03 L469.98,123.14 L470.40,123.25 L470.81,123.37 L471.23,123.50 L471.64,123.64 L472.06,123.79 L472.47,123.95 L472.89,124.11 L473.30,124.28 L473.72,124.46 L474.14,124.65 L474.55,124.85 L474.97,125.06 L475.38,125.28 L475.80,125.50 L476.21,125.73 L476.63,125.97 L477.04,126.22 L477.46,126.47 L477.87,126.73 L478.29,127.00 L478.70,127.27 L479.12,127.55 L479.53,127.83 L479.95,128.12 L480.36,128.41 L480.78,128.70 L481.19,129.00 L481.61,129.29 L482.02,129.59 L482.44,129.90 L482.85,130.20 L483.27,130.50 L483.68,130.79 L484.10,131.09 L484.51,131.39 L484.93,131.68 L485.34,131.97 L485.76,132.25 L486.17,132.53 L486.59,132.80 L487.00,133.07 L487.42,133.33 L487.83,133.58 L488.25,133.83 L488.66,134.06 L489.08,134.29 L489.49,134.51 L489.91,134.73 L490.33,134.93 L490.74,135.12 L491.16,135.31 L491.57,135.48 L491.99,135.65 L492.40,135.81 L492.82,135.95 L493.23,136.09 L493.65,136.22 L494.06,136.34 L494.48,136.46 L494.89,136.56 L495.31,136.66 L495.72,136.75 L496.14,136.83 L496.55,136.91 L496.97,136.98 L497.38,137.05 L497.80,137.11 L498.21,137.18 L498.63,137.23 L499.04,137.29 L499.46,137.34 L499.87,137.40 L500.29,137.45 L500.70,137.51 L501.12,137.56 L501.53,137.62 L501.95,137.68 L502.36,137.75 L502.78,137.82 L503.19,137.89 L503.61,137.97 L504.02,138.06 L504.44,138.15 L504.85,138.25 L505.27,138.36 L505.68,138.47 L506.10,138.59 L506.51,138.72 L506.93,138.86 L507.35,139.01 L507.76,139.17 L508.18,139.33 L508.59,139.51 L509.01,139.69 L509.42,139.88 L509.84,140.08 L510.25,140.29 L510.67,140.51 L511.08,140.73 L511.50,140.96 L511.91,141.20 L512.33,141.45 L512.74,141.71 L513.16,141.97 L513.57,142.23 L513.99,142.51 L514.40,142.78 L514.82,143.07 L515.23,143.35 L515.65,143.65 L516.06,143.94 L516.48,144.24 L516.89,144.55 L517.31,144.85 L517.72,145.16 L518.14,145.47 L518.55,145.79 L518.97,146.10 L519.38,146.42 L519.80,146.74 L520.21,147.06 L520.63,147.38 L521.04,147.70 L521.46,148.03 L521.87,148.35 L522.29,148.68 L522.70,149.01 L523.12,149.34 L523.54,149.68 L523.95,150.01 L524.37,150.35 L524.78,150.69 L525.20,151.03 L525.61,151.37 L526.03,151.72 L526.44,152.07 L526.86,152.43 L527.27,152.79 L527.69,153.15 L528.10,153.52 L528.52,153.90 L528.93,154.28 L529.35,154.66 L529.76,155.05 L530.18,155.45 L530.59,155.86 L531.01,156.27 L531.42,156.69 L531.84,157.12 L532.25,157.55 L532.67,157.99 L533.08,158.45 L533.50,158.91 L533.91,159.38 L534.33,159.85 L534.74,160.34 L535.16,160.84 L535.57,161.35 L535.99,161.86 L536.40,162.39 L536.82,162.92 L537.23,163.47 L537.65,164.02 L538.06,164.58 L538.48,165.15 L538.89,165.74 L539.31,166.33 L539.73,166.93 L540.14,167.54 L540.56,168.15 L540.97,168.78 L541.39,169.41 L541.80,170.05 L542.22,170.70 L542.63,171.36 L543.05,172.02 L543.46,172.69 L543.88,173.37 L544.29,174.05 L544.71,174.74 L545.12,175.43 L545.54,176.13 L545.95,176.83 L546.37,177.54 L546.78,178.24 L547.20,178.96 L547.61,179.67 L548.03,180.39 L548.44,181.11 L548.86,181.83 L549.27,182.55 L549.69,183.27 L550.10,183.99 L550.52,184.71 L550.93,185.43 L551.35,186.14 L551.76,186.86 L552.18,187.57 L552.59,188.28 L553.01,188.99 L553.42,189.70 L553.84,190.40 L554.25,191.09 L554.67,191.79 L555.08,192.47 L555.50,193.16 L555.91,193.83 L556.33,194.51 L556.75,195.17 L557.16,195.83 L557.58,196.49 L557.99,197.13 L558.41,197.77 L558.82,198.41 L559.24,199.03 L559.65,199.65 L560.07,200.26 L560.48,200.87 L560.90,201.47 L561.31,202.06 L561.73,202.64 L562.14,203.22 L562.56,203.79 L562.97,204.35 L563.39,204.90 L563.80,205.45 L564.22,205.99 L564.63,206.53 L565.05,207.06 L565.46,207.58 L565.88,208.10 L566.29,208.61 L566.71,209.12 L567.12,209.62 L567.54,210.11 L567.95,210.61 L568.37,211.09 L568.78,211.58 L569.20,212.06 L569.61,212.54 L570.03,213.01 L570.44,213.49 L570.86,213.96 L571.27,214.43 L571.69,214.90 L572.10,215.37 L572.52,215.84 L572.93,216.31 L573.35,216.78 L573.77,217.26 L574.18,217.73 L574.60,218.21 L575.01,218.69 L575.43,219.18 L575.84,219.66 L576.26,220.16 L576.67,220.66 L577.09,221.16 L577.50,221.67 L577.92,222.18 L578.33,222.70 L578.75,223.23 L579.16,223.77 L579.58,224.31 L579.99,224.86 L580.41,225.42 L580.82,225.99 L581.24,226.56 L581.65,227.15 L582.07,227.74 L582.48,228.35 L582.90,228.96 L583.31,229.59 L583.73,230.22 L584.14,230.87 L584.56,231.52 L584.97,232.19 L585.39,232.86 L585.80,233.55 L586.22,234.25 L586.63,234.95 L587.05,235.67 L587.46,236.40 L587.88,237.14 L588.29,237.88 L588.71,238.64 L589.12,239.41 L589.54,240.18 L589.96,240.97 L590.37,241.76 L590.79,242.56 L591.20,243.37 L591.62,244.19 L592.03,245.02 L592.45,245.85 L592.86,246.69 L593.28,247.54 L593.69,248.39 L594.11,249.24 L594.52,250.11 L594.94,250.97 L595.35,251.84 L595.77,252.72 L596.18,253.59 L596.60,254.48 L597.01,255.36 L597.43,256.24 L597.84,257.13 L598.26,258.02 L598.67,258.90 L599.09,259.79 L599.50,260.68 L599.92,261.57 L600.33,262.46 L600.75,263.34 L601.16,264.23 L601.58,265.11 L601.99,266.00 L602.41,266.88 L602.82,267.76 L603.24,268.64 L603.65,269.51 L604.07,270.39 L604.48,271.26 L604.90,272.13 L605.31,273.00 L605.73,273.87 L606.14,274.74 L606.56,275.61 L606.98,276.48 L607.39,277.35 L607.81,278.22 L608.22,279.09 L608.64,279.97 L609.05,280.85 L609.47,281.73 L609.88,282.61 L610.30,283.51 L610.71,284.40 L611.13,285.31 L611.54,286.22 L611.96,287.14 L612.37,288.07 L612.79,289.01 L613.20,289.97 L613.62,290.93 L614.03,291.91 L614.45,292.91 L614.86,293.92 L615.28,294.95 L615.69,296.00 L616.11,297.06 L616.52,298.15 L616.94,299.26 L617.35,300.39 L617.77,301.54 L618.18,302.72 L618.60,303.92 L619.01,305.15 L619.43,306.41 L619.84,307.69 L620.26,309.00 L620.67,310.35 L621.09,311.72 L621.50,313.12 L621.92,314.55 L622.33,316.02 L622.75,317.51 L623.17,319.04 L623.58,320.60 L624.00,322.19 L624.41,323.82 L624.83,325.47 L625.24,327.16 L625.66,328.88 L626.07,330.64 L626.49,332.43 L626.90,334.24 L627.32,336.09 L627.73,337.97 L628.15,339.89 L628.56,341.83 L628.98,343.80 L629.39,345.79 L629.81,347.82 L630.22,349.87 L630.64,351.95 L631.05,354.06 L631.47,356.19 L631.88,358.34 L632.30,360.52 L632.71,362.72 L633.13,364.94 L633.54,367.18 L633.96,369.44 L634.37,371.71 L634.79,374.01 L635.20,376.31 L635.62,378.64 L636.03,380.97 L636.45,383.32 L636.86,385.68 L637.28,388.06 L637.69,390.44 L638.11,392.83 L638.52,395.22 L638.94,397.62 L639.35,400.03 L639.77,402.44 L640.19,404.86 L640.60,407.28 L641.02,409.70 L641.43,412.12 L641.85,414.54 L642.26,416.95 L642.68,419.37 L643.09,421.78 L643.51,424.19 L643.92,426.59 L644.34,428.98 L644.75,431.37 L645.17,433.75 L645.58,436.12 L646.00,438.48 L646.41,440.83 L646.83,443.16 L647.24,445.48 L647.66,447.79 L648.07,450.08 L648.49,452.36 L648.90,454.62 L649.32,456.86 L649.73,459.08 L650.15,461.28 L650.56,463.46 L650.98,465.62 L651.39,467.75 L651.81,469.86 L652.22,471.95 L652.64,474.01 L653.05,476.05 L653.47,478.06 L653.88,480.05 L654.30,482.01 L654.71,483.95 L655.13,485.86 L655.54,487.75 L655.96,489.61 L656.38,491.45 L656.79,493.27 L657.21,495.06 L657.62,496.84 L658.04,498.59 L658.45,500.33 L658.87,502.05 L659.28,503.76 L659.70,505.45 L660.11,507.13 L660.53,508.79 L660.94,510.45 L661.36,512.10 L661.77,513.74 L662.19,515.37 L662.60,517.00 L663.02,518.62 L663.43,520.24 L663.85,521.85 L664.26,523.45 L664.68,525.05 L665.09,526.65 L665.51,528.23 L665.92,529.81 L666.34,531.38 L666.75,532.95 L667.17,534.50 L667.58,536.04 L668.00,537.56 L668.41,539.07 L668.83,540.57 L669.24,542.04 L669.66,543.50 L670.07,544.93 L670.49,546.35 L670.90,547.73 L671.32,549.10 L671.73,550.43 L672.15,551.74 L672.57,553.02 L672.98,554.27 L673.40,555.49 L673.81,556.68 L674.23,557.84 L674.64,558.98 L675.06,560.08 L675.47,561.15 L675.89,562.18 L676.30,563.19 L676.72,564.17 L677.13,565.13 L677.55,566.05 L677.96,566.94 L678.38,567.81 L678.79,568.65 L679.21,569.47 L679.62,570.26 L680.04,571.03 L680.45,571.77 L680.87,572.49 L681.28,573.19 L681.70,573.86 L682.11,574.52 L682.53,575.16 L682.94,575.77 L683.36,576.37 L683.77,576.95 L684.19,577.51 L684.60,578.05 L685.02,578.58 L685.43,579.09 L685.85,579.59 L686.26,580.07 L686.68,580.53 L687.09,580.98 L687.51,581.42 L687.92,581.84 L688.34,582.25 L688.75,582.65 L689.17,583.03 L689.59,583.41 L690.00,583.77 L690.42,584.11 L690.83,584.45 L691.25,584.78 L691.66,585.09 L692.08,585.40 L692.49,585.69 L692.91,585.97 L693.32,586.25 L693.74,586.51 L694.15,586.77 L694.57,587.02 L694.98,587.26 L695.40,587.49 L695.81,587.71 L696.23,587.92 L696.64,588.13 L697.06,588.33 L697.47,588.52 L697.89,588.70 L698.30,588.88 L698.72,589.05 L699.13,589.22 L699.55,589.38 L699.96,589.53 L700.38,589.68 L700.79,589.82 L701.21,589.96 L701.62,590.09 L702.04,590.21 L702.45,590.34 L702.87,590.45 L703.28,590.56 L703.70,590.67 L704.11,590.77 L704.53,590.87 L704.94,590.97 L705.36,591.06 L705.77,591.15 L706.19,591.23 L706.61,591.31 L707.02,591.39 L707.44,591.46 L707.85,591.54 L708.27,591.60 L708.68,591.67 L709.10,591.73 L709.51,591.79 L709.93,591.85 L710.34,591.90 L710.76,591.96 L711.17,592.01 L711.59,592.06 L712.00,592.10 L712.42,592.15 L712.83,592.19 L713.25,592.23 L713.66,592.27 L714.08,592.31 L714.49,592.34 L714.91,592.38 L715.32,592.41 L715.74,592.44 L716.15,592.47 L716.57,592.50 L716.98,592.52 L717.40,592.55 L717.81,592.57 L718.23,592.60 L718.64,592.62 L719.06,592.64 L719.47,592.66 L719.89,592.68 L720.30,592.70 L720.72,592.72 L721.13,592.74 L721.55,592.75 L721.96,592.77 L722.38,592.78 L722.80,592.80 L723.21,592.81 L723.63,592.82 L724.04,592.84 L724.46,592.85 L724.87,592.86 L725.29,592.87 L725.70,592.88 L726.12,592.89 L726.53,592.90 L726.95,592.91 L727.36,592.92 L727.78,592.93 L728.19,592.93 L728.61,592.94 L729.02,592.95 L729.44,592.95 L729.85,592.96 L730.27,592.97 L730.68,592.97 L731.10,592.98 L731.51,592.98 L731.93,592.99 L732.34,592.99 L732.76,593.00 L733.17,593.00 L733.59,593.01 L734.00,593.01 L734.42,593.01 L734.83,593.02 L735.25,593.02 L735.66,593.03 L736.08,593.03 L736.49,593.03 L736.91,593.03 L737.32,593.04 L737.74,593.04 L738.15,593.04 L738.57,593.04 L738.98,593.05 L739.40,593.05 L739.82,593.05 L740.23,593.05 L740.65,593.06 L741.06,593.06 L741.48,593.06 L741.89,593.06 L742.31,593.06 L742.72,593.06 L743.14,593.07 L743.55,593.07 L743.97,593.07 L744.38,593.07 L744.80,593.07 L745.21,593.07 L745.63,593.07 L746.04,593.07 L746.46,593.08 L746.87,593.08 L747.29,593.08 L747.70,593.08 L748.12,593.08 L748.53,593.08 L748.95,593.08 L749.36,593.08 L749.78,593.08 L750.19,593.08 L750.61,593.08 L751.02,593.08 L751.44,593.09 L751.85,593.09 L752.27,593.09 L752.68,593.09 L753.10,593.09 L753.51,593.09 L753.93,593.09 L754.34,593.09 L754.76,593.09 L755.17,593.09 L755.59,593.09 L756.01,593.09 L756.42,593.09 L756.84,593.09 L757.25,593.09 L757.67,593.09 L758.08,593.09 L758.50,593.09 L758.91,593.09 L759.33,593.09 L759.74,593.09 L760.16,593.09 L760.57,593.09 L760.99,593.09 L761.40,593.09 L761.82,593.09 L762.23,593.09 L762.65,593.10 L763.06,593.10 L763.48,593.10 L763.89,593.10 L764.31,593.10 L764.72,593.10 L765.14,593.10 L765.55,593.10 L765.97,593.10 L766.38,593.10 L766.80,593.10 L767.21,593.10 L767.63,593.10 L768.04,593.10 L768.46,593.10 L768.87,593.10 L769.29,593.10 L769.70,593.10 L770.12,593.10 L770.53,593.10 L770.95,593.10 L771.36,593.10 L771.78,593.10 L772.19,593.10 L772.61,593.10 L773.03,593.10 L773.44,593.10 L773.86,593.10 L774.27,593.10 L774.69,593.10 L775.10,593.10 L775.52,593.10 L775.93,593.10 L776.35,593.10 L776.76,593.10 L777.18,593.10 L777.59,593.10 L778.01,593.10 L778.42,593.10 L778.84,593.10 L779.25,593.10 L779.67,593.10 L780.08,593.10 L780.50,593.10 L780.91,593.10 L781.33,593.10 L781.74,593.10 L782.16,593.10 L782.57,593.10 L782.99,593.10 L783.40,593.10 L783.82,593.10 L784.23,593.10 L784.65,593.10 L785.06,593.10 L785.48,593.10 L785.89,593.10 L786.31,593.10 L786.72,593.10 L787.14,593.10 L787.55,593.10 L787.97,593.10 L788.38,593.10 L788.80,593.10" stroke="#0000ff" stroke-width="2.7"/>
<path d="M124.60,593.10 L125.02,593.10 L125.43,593.10 L125.85,593.10 L126.26,593.10 L126.68,593.10 L127.09,593.10 L127.51,593.10 L127.92,593.10 L128.34,593.10 L128.75,593.10 L129.17,593.10 L129.58,593.10 L130.00,593.10 L130.41,593.10 L130.83,593.10 L131.24,593.10 L131.66,593.10 L132.07,593.10 L132.49,593.10 L132.90,593.10 L133.32,593.10 L133.73,593.10 L134.15,593.10 L134.56,593.10 L134.98,593.10 L135.39,593.10 L135.81,593.10 L136.22,593.10 L136.64,593.10 L137.05,593.10 L137.47,593.10 L137.88,593.10 L138.30,593.10 L138.71,593.10 L139.13,593.10 L139.54,593.10 L139.96,593.10 L140.37,593.10 L140.79,593.10 L141.20,593.10 L141.62,593.10 L142.04,593.10 L142.45,593.10 L142.87,593.10 L143.28,593.10 L143.70,593.10 L144.11,593.10 L144.53,593.10 L144.94,593.10 L145.36,593.10 L145.77,593.10 L146.19,593.10 L146.60,593.10 L147.02,593.10 L147.43,593.10 L147.85,593.10 L148.26,593.10 L148.68,593.10 L149.09,593.10 L149.51,593.10 L149.92,593.10 L150.34,593.10 L150.75,593.10 L151.17,593.10 L151.58,593.10 L152.00,593.10 L152.41,593.10 L152.83,593.10 L153.24,593.10 L153.66,593.10 L154.07,593.10 L154.49,593.10 L154.90,593.10 L155.32,593.10 L155.73,593.10 L156.15,593.10 L156.56,593.10 L156.98,593.10 L157.39,593.10 L157.81,593.10 L158.23,593.10 L158.64,593.10 L159.06,593.10 L159.47,593.10 L159.89,593.10 L160.30,593.10 L160.72,593.10 L161.13,593.09 L161.55,593.09 L161.96,593.09 L162.38,593.09 L162.79,593.09 L163.21,593.09 L163.62,593.09 L164.04,593.09 L164.45,593.09 L164.87,593.09 L165.28,593.09 L165.70,593.09 L166.11,593.09 L166.53,593.09 L166.94,593.09 L167.36,593.09 L167.77,593.08 L168.19,593.08 L168.60,593.08 L169.02,593.08 L169.43,593.08 L169.85,593.08 L170.26,593.08 L170.68,593.07 L171.09,593.07 L171.51,593.07 L171.92,593.07 L172.34,593.07 L172.75,593.06 L173.17,593.06 L173.58,593.06 L174.00,593.06 L174.42,593.05 L174.83,593.05 L175.25,593.05 L175.66,593.05 L176.08,593.04 L176.49,593.04 L176.91,593.03 L177.32,593.03 L177.74,593.03 L178.15,593.02 L178.57,593.02 L178.98,593.01 L179.40,593.00 L179.81,593.00 L180.23,592.99 L180.64,592.99 L181.06,592.98 L181.47,592.97 L181.89,592.96 L182.30,592.96 L182.72,592.95 L183.13,592.94 L183.55,592.93 L183.96,592.92 L184.38,592.91 L184.79,592.89 L185.21,592.88 L185.62,592.87 L186.04,592.86 L186.45,592.84 L186.87,592.83 L187.28,592.81 L187.70,592.79 L188.11,592.78 L188.53,592.76 L188.94,592.74 L189.36,592.72 L189.77,592.70 L190.19,592.67 L190.60,592.65 L191.02,592.63 L191.44,592.60 L191.85,592.57 L192.27,592.54 L192.68,592.51 L193.10,592.48 L193.51,592.45 L193.93,592.41 L194.34,592.38 L194.76,592.34 L195.17,592.30 L195.59,592.25 L196.00,592.21 L196.42,592.16 L196.83,592.11 L197.25,592.06 L197.66,592.01 L198.08,591.95 L198.49,591.89 L198.91,591.83 L199.32,591.77 L199.74,591.70 L200.15,591.63 L200.57,591.56 L200.98,591.48 L201.40,591.40 L201.81,591.32 L202.23,591.23 L202.64,591.14 L203.06,591.05 L203.47,590.95 L203.89,590.84 L204.30,590.74 L204.72,590.62 L205.13,590.51 L205.55,590.38 L205.96,590.26 L206.38,590.13 L206.79,589.99 L207.21,589.85 L207.62,589.70 L208.04,589.54 L208.46,589.38 L208.87,589.21 L209.29,589.04 L209.70,588.86 L210.12,588.67 L210.53,588.48 L210.95,588.28 L211.36,588.07 L211.78,587.85 L212.19,587.62 L212.61,587.39 L213.02,587.15 L213.44,586.89 L213.85,586.63 L214.27,586.36 L214.68,586.08 L215.10,585.79 L215.51,585.49 L215.93,585.18 L216.34,584.86 L216.76,584.53 L217.17,584.19 L217.59,583.83 L218.00,583.47 L218.42,583.09 L218.83,582.70 L219.25,582.29 L219.66,581.87 L220.08,581.44 L220.49,581.00 L220.91,580.54 L221.32,580.07 L221.74,579.58 L222.15,579.08 L222.57,578.56 L222.98,578.03 L223.40,577.48 L223.81,576.92 L224.23,576.34 L224.65,575.74 L225.06,575.12 L225.48,574.49 L225.89,573.84 L226.31,573.17 L226.72,572.48 L227.14,571.78 L227.55,571.05 L227.97,570.31 L228.38,569.55 L228.80,568.77 L229.21,567.96 L229.63,567.14 L230.04,566.30 L230.46,565.43 L230.87,564.54 L231.29,563.64 L231.70,562.71 L232.12,561.76 L232.53,560.78 L232.95,559.79 L233.36,558.77 L233.78,557.73 L234.19,556.66 L234.61,555.58 L235.02,554.46 L235.44,553.33 L235.85,552.17 L236.27,550.99 L236.68,549.78 L237.10,548.55 L237.51,547.30 L237.93,546.02 L238.34,544.72 L238.76,543.39 L239.17,542.04 L239.59,540.66 L240.00,539.26 L240.42,537.84 L240.83,536.39 L241.25,534.91 L241.67,533.41 L242.08,531.89 L242.50,530.35 L242.91,528.77 L243.33,527.18 L243.74,525.56 L244.16,523.92 L244.57,522.25 L244.99,520.56 L245.40,518.85 L245.82,517.11 L246.23,515.35 L246.65,513.57 L247.06,511.77 L247.48,509.94 L247.89,508.10 L248.31,506.23 L248.72,504.34 L249.14,502.43 L249.55,500.50 L249.97,498.55 L250.38,496.58 L250.80,494.59 L251.21,492.59 L251.63,490.56 L252.04,488.51 L252.46,486.45 L252.87,484.37 L253.29,482.28 L253.70,480.16 L254.12,478.03 L254.53,475.89 L254.95,473.73 L255.36,471.55 L255.78,469.36 L256.19,467.16 L256.61,464.94 L257.02,462.71 L257.44,460.46 L257.86,458.21 L258.27,455.94 L258.69,453.65 L259.10,451.36 L259.52,449.05 L259.93,446.74 L260.35,444.41 L260.76,442.07 L261.18,439.73 L261.59,437.37 L262.01,435.00 L262.42,432.63 L262.84,430.25 L263.25,427.86 L263.67,425.46 L264.08,423.06 L264.50,420.65 L264.91,418.23 L265.33,415.81 L265.74,413.39 L266.16,410.96 L266.57,408.53 L266.99,406.10 L267.40,403.67 L267.82,401.23 L268.23,398.80 L268.65,396.37 L269.06,393.95 L269.48,391.53 L269.89,389.12 L270.31,386.71 L270.72,384.31 L271.14,381.93 L271.55,379.55 L271.97,377.19 L272.38,374.85 L272.80,372.52 L273.21,370.21 L273.63,367.92 L274.04,365.66 L274.46,363.42 L274.88,361.20 L275.29,359.01 L275.71,356.85 L276.12,354.72 L276.54,352.63 L276.95,350.56 L277.37,348.54 L277.78,346.55 L278.20,344.60 L278.61,342.69 L279.03,340.82 L279.44,338.99 L279.86,337.20 L280.27,335.46 L280.69,333.76 L281.10,332.11 L281.52,330.50 L281.93,328.93 L282.35,327.41 L282.76,325.94 L283.18,324.51 L283.59,323.12 L284.01,321.78 L284.42,320.48 L284.84,319.22 L285.25,318.01 L285.67,316.83 L286.08,315.70 L286.50,314.60 L286.91,313.53 L287.33,312.51 L287.74,311.51 L288.16,310.55 L288.57,309.62 L288.99,308.71 L289.40,307.84 L289.82,306.99 L290.23,306.16 L290.65,305.35 L291.07,304.57 L291.48,303.81 L291.90,303.06 L292.31,302.33 L292.73,301.61 L293.14,300.90 L293.56,300.21 L293.97,299.53 L294.39,298.86 L294.80,298.19 L295.22,297.54 L295.63,296.89 L296.05,296.24 L296.46,295.60 L296.88,294.97 L297.29,294.33 L297.71,293.70 L298.12,293.08 L298.54,292.45 L298.95,291.83 L299.37,291.21 L299.78,290.58 L300.20,289.96 L300.61,289.34 L301.03,288.72 L301.44,288.10 L301.86,287.48 L302.27,286.85 L302.69,286.23 L303.10,285.60 L303.52,284.98 L303.93,284.35 L304.35,283.72 L304.76,283.09 L305.18,282.45 L305.59,281.82 L306.01,281.18 L306.42,280.53 L306.84,279.89 L307.25,279.24 L307.67,278.58 L308.09,277.92 L308.50,277.26 L308.92,276.59 L309.33,275.91 L309.75,275.23 L310.16,274.55 L310.58,273.85 L310.99,273.15 L311.41,272.44 L311.82,271.72 L312.24,271.00 L312.65,270.26 L313.07,269.52 L313.48,268.77 L313.90,268.01 L314.31,267.24 L314.73,266.45 L315.14,265.66 L315.56,264.86 L315.97,264.05 L316.39,263.23 L316.80,262.40 L317.22,261.56 L317.63,260.72 L318.05,259.86 L318.46,258.99 L318.88,258.12 L319.29,257.24 L319.71,256.35 L320.12,255.45 L320.54,254.55 L320.95,253.64 L321.37,252.73 L321.78,251.82 L322.20,250.90 L322.61,249.98 L323.03,249.06 L323.44,248.13 L323.86,247.21 L324.28,246.29 L324.69,245.37 L325.11,244.46 L325.52,243.55 L325.94,242.64 L326.35,241.74 L326.77,240.85 L327.18,239.97 L327.60,239.10 L328.01,238.23 L328.43,237.38 L328.84,236.54 L329.26,235.72 L329.67,234.91 L330.09,234.11 L330.50,233.33 L330.92,232.56 L331.33,231.81 L331.75,231.08 L332.16,230.36 L332.58,229.67 L332.99,228.99 L333.41,228.33 L333.82,227.69 L334.24,227.07 L334.65,226.47 L335.07,225.89 L335.48,225.32 L335.90,224.78 L336.31,224.25 L336.73,223.74 L337.14,223.25 L337.56,222.78 L337.97,222.32 L338.39,221.88 L338.80,221.46 L339.22,221.04 L339.63,220.65 L340.05,220.27 L340.46,219.89 L340.88,219.53 L341.30,219.18 L341.71,218.84 L342.13,218.51 L342.54,218.18 L342.96,217.86 L343.37,217.55 L343.79,217.23 L344.20,216.92 L344.62,216.61 L345.03,216.30 L345.45,215.99 L345.86,215.67 L346.28,215.35 L346.69,215.02 L347.11,214.69 L347.52,214.35 L347.94,213.99 L348.35,213.63 L348.77,213.26 L349.18,212.88 L349.60,212.48 L350.01,212.06 L350.43,211.64 L350.84,211.19 L351.26,210.73 L351.67,210.25 L352.09,209.76 L352.50,209.24 L352.92,208.71 L353.33,208.16 L353.75,207.59 L354.16,206.99 L354.58,206.39 L354.99,205.76 L355.41,205.11 L355.82,204.44 L356.24,203.76 L356.65,203.06 L357.07,202.34 L357.49,201.61 L357.90,200.86 L358.32,200.10 L358.73,199.32 L359.15,198.54 L359.56,197.74 L359.98,196.93 L360.39,196.12 L360.81,195.30 L361.22,194.48 L361.64,193.65 L362.05,192.82 L362.47,192.00 L362.88,191.17 L363.30,190.35 L363.71,189.54 L364.13,188.73 L364.54,187.94 L364.96,187.15 L365.37,186.38 L365.79,185.62 L366.20,184.87 L366.62,184.15 L367.03,183.44 L367.45,182.75 L367.86,182.09 L368.28,181.45 L368.69,180.82 L369.11,180.23 L369.52,179.65 L369.94,179.11 L370.35,178.58 L370.77,178.09 L371.18,177.62 L371.60,177.17 L372.01,176.75 L372.43,176.35 L372.84,175.98 L373.26,175.63 L373.67,175.30 L374.09,175.00 L374.51,174.71 L374.92,174.45 L375.34,174.20 L375.75,173.97 L376.17,173.75 L376.58,173.55 L377.00,173.36 L377.41,173.18 L377.83,173.01 L378.24,172.84 L378.66,172.68 L379.07,172.53 L379.49,172.37 L379.90,172.21 L380.32,172.06 L380.73,171.90 L381.15,171.73 L381.56,171.56 L381.98,171.38 L382.39,171.19 L382.81,171.00 L383.22,170.79 L383.64,170.56 L384.05,170.33 L384.47,170.08 L384.88,169.82 L385.30,169.54 L385.71,169.25 L386.13,168.94 L386.54,168.62 L386.96,168.28 L387.37,167.92 L387.79,167.55 L388.20,167.17 L388.62,166.77 L389.03,166.35 L389.45,165.93 L389.86,165.49 L390.28,165.04 L390.70,164.57 L391.11,164.10 L391.53,163.62 L391.94,163.14 L392.36,162.64 L392.77,162.14 L393.19,161.64 L393.60,161.14 L394.02,160.63 L394.43,160.12 L394.85,159.62 L395.26,159.11 L395.68,158.61 L396.09,158.12 L396.51,157.63 L396.92,157.15 L397.34,156.68 L397.75,156.22 L398.17,155.76 L398.58,155.32 L399.00,154.90 L399.41,154.48 L399.83,154.08 L400.24,153.70 L400.66,153.33 L401.07,152.98 L401.49,152.64 L401.90,152.32 L402.32,152.02 L402.73,151.74 L403.15,151.47 L403.56,151.23 L403.98,151.00 L404.39,150.79 L404.81,150.59 L405.22,150.42 L405.64,150.26 L406.05,150.12 L406.47,149.99 L406.88,149.88 L407.30,149.79 L407.72,149.71 L408.13,149.64 L408.55,149.58 L408.96,149.54 L409.38,149.51 L409.79,149.49 L410.21,149.48 L410.62,149.47 L411.04,149.47 L411.45,149.48 L411.87,149.50 L412.28,149.51 L412.70,149.53 L413.11,149.55 L413.53,149.57 L413.94,149.59 L414.36,149.61 L414.77,149.62 L415.19,149.63 L415.60,149.63 L416.02,149.63 L416.43,149.62 L416.85,149.61 L417.26,149.58 L417.68,149.55 L418.09,149.50 L418.51,149.44 L418.92,149.38 L419.34,149.30 L419.75,149.21 L420.17,149.10 L420.58,148.98 L421.00,148.85 L421.41,148.71 L421.83,148.55 L422.24,148.38 L422.66,148.20 L423.07,148.00 L423.49,147.79 L423.91,147.57 L424.32,147.33 L424.74,147.09 L425.15,146.83 L425.57,146.57 L425.98,146.29 L426.40,146.00 L426.81,145.71 L427.23,145.41 L427.64,145.10 L428.06,144.79 L428.47,144.48 L428.89,144.16 L429.30,143.83 L429.72,143.51 L430.13,143.19 L430.55,142.86 L430.96,142.54 L431.38,142.22 L431.79,141.91 L432.21,141.60 L432.62,141.29 L433.04,140.99 L433.45,140.70 L433.87,140.42 L434.28,140.15 L434.70,139.89 L435.11,139.64 L435.53,139.40 L435.94,139.18 L436.36,138.96 L436.77,138.77 L437.19,138.58 L437.60,138.41 L438.02,138.26 L438.43,138.12 L438.85,137.99 L439.26,137.88 L439.68,137.79 L440.10,137.71 L440.51,137.65 L440.93,137.60 L441.34,137.57 L441.76,137.55 L442.17,137.54 L442.59,137.55 L443.00,137.58 L443.42,137.61 L443.83,137.66 L444.25,137.72 L444.66,137.79 L445.08,137.87 L445.49,137.95 L445.91,138.05 L446.32,138.15 L446.74,138.26 L447.15,138.37 L447.57,138.49 L447.98,138.61 L448.40,138.74 L448.81,138.86 L449.23,138.99 L449.64,139.12 L450.06,139.24 L450.47,139.36 L450.89,139.48 L451.30,139.60 L451.72,139.70 L452.13,139.81 L452.55,139.91 L452.96,140.00 L453.38,140.08 L453.79,140.15 L454.21,140.22 L454.62,140.27 L455.04,140.32 L455.45,140.36 L455.87,140.38 L456.28,140.40 L456.70,140.40 L457.12,140.40 L457.53,140.38 L457.95,140.36 L458.36,140.32 L458.78,140.27 L459.19,140.22 L459.61,140.15 L460.02,140.08 L460.44,140.00 L460.85,139.91 L461.27,139.81 L461.68,139.70 L462.10,139.60 L462.51,139.48 L462.93,139.36 L463.34,139.24 L463.76,139.12 L464.17,138.99 L464.59,138.86 L465.00,138.74 L465.42,138.61 L465.83,138.49 L466.25,138.37 L466.66,138.26 L467.08,138.15 L467.49,138.05 L467.91,137.95 L468.32,137.87 L468.74,137.79 L469.15,137.72 L469.57,137.66 L469.98,137.61 L470.40,137.58 L470.81,137.55 L471.23,137.54 L471.64,137.55 L472.06,137.57 L472.47,137.60 L472.89,137.65 L473.30,137.71 L473.72,137.79 L474.14,137.88 L474.55,137.99 L474.97,138.12 L475.38,138.26 L475.80,138.41 L476.21,138.58 L476.63,138.77 L477.04,138.96 L477.46,139.18 L477.87,139.40 L478.29,139.64 L478.70,139.89 L479.12,140.15 L479.53,140.42 L479.95,140.70 L480.36,140.99 L480.78,141.29 L481.19,141.60 L481.61,141.91 L482.02,142.22 L482.44,142.54 L482.85,142.86 L483.27,143.19 L483.68,143.51 L484.10,143.83 L484.51,144.16 L484.93,144.48 L485.34,144.79 L485.76,145.10 L486.17,145.41 L486.59,145.71 L487.00,146.00 L487.42,146.29 L487.83,146.57 L488.25,146.83 L488.66,147.09 L489.08,147.33 L489.49,147.57 L489.91,147.79 L490.33,148.00 L490.74,148.20 L491.16,148.38 L491.57,148.55 L491.99,148.71 L492.40,148.85 L492.82,148.98 L493.23,149.10 L493.65,149.21 L494.06,149.30 L494.48,149.38 L494.89,149.44 L495.31,149.50 L495.72,149.55 L496.14,149.58 L496.55,149.61 L496.97,149.62 L497.38,149.63 L497.80,149.63 L498.21,149.63 L498.63,149.62 L499.04,149.61 L499.46,149.59 L499.87,149.57 L500.29,149.55 L500.70,149.53 L501.12,149.51 L501.53,149.50 L501.95,149.48 L502.36,149.47 L502.78,149.47 L503.19,149.48 L503.61,149.49 L504.02,149.51 L504.44,149.54 L504.85,149.58 L505.27,149.64 L505.68,149.71 L506.10,149.79 L506.51,149.88 L506.93,149.99 L507.35,150.12 L507.76,150.26 L508.18,150.42 L508.59,150.59 L509.01,150.79 L509.42,151.00 L509.84,151.23 L510.25,151.47 L510.67,151.74 L511.08,152.02 L511.50,152.32 L511.91,152.64 L512.33,152.98 L512.74,153.33 L513.16,153.70 L513.57,154.08 L513.99,154.48 L514.40,154.90 L514.82,155.32 L515.23,155.76 L515.65,156.22 L516.06,156.68 L516.48,157.15 L516.89,157.63 L517.31,158.12 L517.72,158.61 L518.14,159.11 L518.55,159.62 L518.97,160.12 L519.38,160.63 L519.80,161.14 L520.21,161.64 L520.63,162.14 L521.04,162.64 L521.46,163.14 L521.87,163.62 L522.29,164.10 L522.70,164.57 L523.12,165.04 L523.54,165.49 L523.95,165.93 L524.37,166.35 L524.78,166.77 L525.20,167.17 L525.61,167.55 L526.03,167.92 L526.44,168.28 L526.86,168.62 L527.27,168.94 L527.69,169.25 L528.10,169.54 L528.52,169.82 L528.93,170.08 L529.35,170.33 L529.76,170.56 L530.18,170.79 L530.59,171.00 L531.01,171.19 L531.42,171.38 L531.84,171.56 L532.25,171.73 L532.67,171.90 L533.08,172.06 L533.50,172.21 L533.91,172.37 L534.33,172.53 L534.74,172.68 L535.16,172.84 L535.57,173.01 L535.99,173.18 L536.40,173.36 L536.82,173.55 L537.23,173.75 L537.65,173.97 L538.06,174.20 L538.48,174.45 L538.89,174.71 L539.31,175.00 L539.73,175.30 L540.14,175.63 L540.56,175.98 L540.97,176.35 L541.39,176.75 L541.80,177.17 L542.22,177.62 L542.63,178.09 L543.05,178.58 L543.46,179.11 L543.88,179.65 L544.29,180.23 L544.71,180.82 L545.12,181.45 L545.54,182.09 L545.95,182.75 L546.37,183.44 L546.78,184.15 L547.20,184.87 L547.61,185.62 L548.03,186.38 L548.44,187.15 L548.86,187.94 L549.27,188.73 L549.69,189.54 L550.10,190.35 L550.52,191.17 L550.93,192.00 L551.35,192.82 L551.76,193.65 L552.18,194.48 L552.59,195.30 L553.01,196.12 L553.42,196.93 L553.84,197.74 L554.25,198.54 L554.67,199.32 L555.08,200.10 L555.50,200.86 L555.91,201.61 L556.33,202.34 L556.75,203.06 L557.16,203.76 L557.58,204.44 L557.99,205.11 L558.41,205.76 L558.82,206.39 L559.24,206.99 L559.65,207.59 L560.07,208.16 L560.48,208.71 L560.90,209.24 L561.31,209.76 L561.73,210.25 L562.14,210.73 L562.56,211.19 L562.97,211.64 L563.39,212.06 L563.80,212.48 L564.22,212.88 L564.63,213.26 L565.05,213.63 L565.46,213.99 L565.88,214.35 L566.29,214.69 L566.71,215.02 L567.12,215.35 L567.54,215.67 L567.95,215.99 L568.37,216.30 L568.78,216.61 L569.20,216.92 L569.61,217.23 L570.03,217.55 L570.44,217.86 L570.86,218.18 L571.27,218.51 L571.69,218.84 L572.10,219.18 L572.52,219.53 L572.93,219.89 L573.35,220.27 L573.77,220.65 L574.18,221.04 L574.60,221.46 L575.01,221.88 L575.43,222.32 L575.84,222.78 L576.26,223.25 L576.67,223.74 L577.09,224.25 L577.50,224.78 L577.92,225.32 L578.33,225.89 L578.75,226.47 L579.16,227.07 L579.58,227.69 L579.99,228.33 L580.41,228.99 L580.82,229.67 L581.24,230.36 L581.65,231.08 L582.07,231.81 L582.48,232.56 L582.90,233.33 L583.31,234.11 L583.73,234.91 L584.14,235.72 L584.56,236.54 L584.97,237.38 L585.39,238.23 L585.80,239.10 L586.22,239.97 L586.63,240.85 L587.05,241.74 L587.46,242.64 L587.88,243.55 L588.29,244.46 L588.71,245.37 L589.12,246.29 L589.54,247.21 L589.96,248.13 L590.37,249.06 L590.79,249.98 L591.20,250.90 L591.62,251.82 L592.03,252.73 L592.45,253.64 L592.86,254.55 L593.28,255.45 L593.69,256.35 L594.11,257.24 L594.52,258.12 L594.94,258.99 L595.35,259.86 L595.77,260.72 L596.18,261.56 L596.60,262.40 L597.01,263.23 L597.43,264.05 L597.84,264.86 L598.26,265.66 L598.67,266.45 L599.09,267.24 L599.50,268.01 L599.92,268.77 L600.33,269.52 L600.75,270.26 L601.16,271.00 L601.58,271.72 L601.99,272.44 L602.41,273.15 L602.82,273.85 L603.24,274.55 L603.65,275.23 L604.07,275.91 L604.48,276.59 L604.90,277.26 L605.31,277.92 L605.73,278.58 L606.14,279.24 L606.56,279.89 L606.98,280.53 L607.39,281.18 L607.81,281.82 L608.22,282.45 L608.64,283.09 L609.05,283.72 L609.47,284.35 L609.88,284.98 L610.30,285.60 L610.71,286.23 L611.13,286.85 L611.54,287.48 L611.96,288.10 L612.37,288.72 L612.79,289.34 L613.20,289.96 L613.62,290.58 L614.03,291.21 L614.45,291.83 L614.86,292.45 L615.28,293.08 L615.69,293.70 L616.11,294.33 L616.52,294.97 L616.94,295.60 L617.35,296.24 L617.77,296.89 L618.18,297.54 L618.60,298.19 L619.01,298.86 L619.43,299.53 L619.84,300.21 L620.26,300.90 L620.67,301.61 L621.09,302.33 L621.50,303.06 L621.92,303.81 L622.33,304.57 L622.75,305.35 L623.17,306.16 L623.58,306.99 L624.00,307.84 L624.41,308.71 L624.83,309.62 L625.24,310.55 L625.66,311.51 L626.07,312.51 L626.49,313.53 L626.90,314.60 L627.32,315.70 L627.73,316.83 L628.15,318.01 L628.56,319.22 L628.98,320.48 L629.39,321.78 L629.81,323.12 L630.22,324.51 L630.64,325.94 L631.05,327.41 L631.47,328.93 L631.88,330.50 L632.30,332.11 L632.71,333.76 L633.13,335.46 L633.54,337.20 L633.96,338.99 L634.37,340.82 L634.79,342.69 L635.20,344.60 L635.62,346.55 L636.03,348.54 L636.45,350.56 L636.86,352.63 L637.28,354.72 L637.69,356.85 L638.11,359.01 L638.52,361.20 L638.94,363.42 L639.35,365.66 L639.77,367.92 L640.19,370.21 L640.60,372.52 L641.02,374.85 L641.43,377.19 L641.85,379.55 L642.26,381.93 L642.68,384.31 L643.09,386.71 L643.51,389.12 L643.92,391.53 L644.34,393.95 L644.75,396.37 L645.17,398.80 L645.58,401.23 L646.00,403.67 L646.41,406.10 L646.83,408.53 L647.24,410.96 L647.66,413.39 L648.07,415.81 L648.49,418.23 L648.90,420.65 L649.32,423.06 L649.73,425.46 L650.15,427.86 L650.56,430.25 L650.98,432.63 L651.39,435.00 L651.81,437.37 L652.22,439.73 L652.64,442.07 L653.05,444.41 L653.47,446.74 L653.88,449.05 L654.30,451.36 L654.71,453.65 L655.13,455.94 L655.54,458.21 L655.96,460.46 L656.38,462.71 L656.79,464.94 L657.21,467.16 L657.62,469.36 L658.04,471.55 L658.45,473.73 L658.87,475.89 L659.28,478.03 L659.70,480.16 L660.11,482.28 L660.53,484.37 L660.94,486.45 L661.36,488.51 L661.77,490.56 L662.19,492.59 L662.60,494.59 L663.02,496.58 L663.43,498.55 L663.85,500.50 L664.26,502.43 L664.68,504.34 L665.09,506.23 L665.51,508.10 L665.92,509.94 L666.34,511.77 L666.75,513.57 L667.17,515.35 L667.58,517.11 L668.00,518.85 L668.41,520.56 L668.83,522.25 L669.24,523.92 L669.66,525.56 L670.07,527.18 L670.49,528.77 L670.90,530.35 L671.32,531.89 L671.73,533.41 L672.15,534.91 L672.57,536.39 L672.98,537.84 L673.40,539.26 L673.81,540.66 L674.23,542.04 L674.64,543.39 L675.06,544.72 L675.47,546.02 L675.89,547.30 L676.30,548.55 L676.72,549.78 L677.13,550.99 L677.55,552.17 L677.96,553.33 L678.38,554.46 L678.79,555.58 L679.21,556.66 L679.62,557.73 L680.04,558.77 L680.45,559.79 L680.87,560.78 L681.28,561.76 L681.70,562.71 L682.11,563.64 L682.53,564.54 L682.94,565.43 L683.36,566.30 L683.77,567.14 L684.19,567.96 L684.60,568.77 L685.02,569.55 L685.43,570.31 L685.85,571.05 L686.26,571.78 L686.68,572.48 L687.09,573.17 L687.51,573.84 L687.92,574.49 L688.34,575.12 L688.75,575.74 L689.17,576.34 L689.59,576.92 L690.00,577.48 L690.42,578.03 L690.83,578.56 L691.25,579.08 L691.66,579.58 L692.08,580.07 L692.49,580.54 L692.91,581.00 L693.32,581.44 L693.74,581.87 L694.15,582.29 L694.57,582.70 L694.98,583.09 L695.40,583.47 L695.81,583.83 L696.23,584.19 L696.64,584.53 L697.06,584.86 L697.47,585.18 L697.89,585.49 L698.30,585.79 L698.72,586.08 L699.13,586.36 L699.55,586.63 L699.96,586.89 L700.38,587.15 L700.79,587.39 L701.21,587.62 L701.62,587.85 L702.04,588.07 L702.45,588.28 L702.87,588.48 L703.28,588.67 L703.70,588.86 L704.11,589.04 L704.53,589.21 L704.94,589.38 L705.36,589.54 L705.77,589.70 L706.19,589.85 L706.61,589.99 L707.02,590.13 L707.44,590.26 L707.85,590.38 L708.27,590.51 L708.68,590.62 L709.10,590.74 L709.51,590.84 L709.93,590.95 L710.34,591.05 L710.76,591.14 L711.17,591.23 L711.59,591.32 L712.00,591.40 L712.42,591.48 L712.83,591.56 L713.25,591.63 L713.66,591.70 L714.08,591.77 L714.49,591.83 L714.91,591.89 L715.32,591.95 L715.74,592.01 L716.15,592.06 L716.57,592.11 L716.98,592.16 L717.40,592.21 L717.81,592.25 L718.23,592.30 L718.64,592.34 L719.06,592.38 L719.47,592.41 L719.89,592.45 L720.30,592.48 L720.72,592.51 L721.13,592.54 L721.55,592.57 L721.96,592.60 L722.38,592.63 L722.80,592.65 L723.21,592.67 L723.63,592.70 L724.04,592.72 L724.46,592.74 L724.87,592.76 L725.29,592.78 L725.70,592.79 L726.12,592.81 L726.53,592.83 L726.95,592.84 L727.36,592.86 L727.78,592.87 L728.19,592.88 L728.61,592.89 L729.02,592.91 L729.44,592.92 L729.85,592.93 L730.27,592.94 L730.68,592.95 L731.10,592.96 L731.51,592.96 L731.93,592.97 L732.34,592.98 L732.76,592.99 L733.17,592.99 L733.59,593.00 L734.00,593.00 L734.42,593.01 L734.83,593.02 L735.25,593.02 L735.66,593.03 L736.08,593.03 L736.49,593.03 L736.91,593.04 L737.32,593.04 L737.74,593.05 L738.15,593.05 L738.57,593.05 L738.98,593.05 L739.40,593.06 L739.82,593.06 L740.23,593.06 L740.65,593.06 L741.06,593.07 L741.48,593.07 L741.89,593.07 L742.31,593.07 L742.72,593.07 L743.14,593.08 L743.55,593.08 L743.97,593.08 L744.38,593.08 L744.80,593.08 L745.21,593.08 L745.63,593.08 L746.04,593.09 L746.46,593.09 L746.87,593.09 L747.29,593.09 L747.70,593.09 L748.12,593.09 L748.53,593.09 L748.95,593.09 L749.36,593.09 L749.78,593.09 L750.19,593.09 L750.61,593.09 L751.02,593.09 L751.44,593.09 L751.85,593.09 L752.27,593.09 L752.68,593.10 L753.10,593.10 L753.51,593.10 L753.93,593.10 L754.34,593.10 L754.76,593.10 L755.17,593.10 L755.59,593.10 L756.01,593.10 L756.42,593.10 L756.84,593.10 L757.25,593.10 L757.67,593.10 L758.08,593.10 L758.50,593.10 L758.91,593.10 L759.33,593.10 L759.74,593.10 L760.16,593.10 L760.57,593.10 L760.99,593.10 L761.40,593.10 L761.82,593.10 L762.23,593.10 L762.65,593.10 L763.06,593.10 L763.48,593.10 L763.89,593.10 L764.31,593.10 L764.72,593.10 L765.14,593.10 L765.55,593.10 L765.97,593.10 L766.38,593.10 L766.80,593.10 L767.21,593.10 L767.63,593.10 L768.04,593.10 L768.46,593.10 L768.87,593.10 L769.29,593.10 L769.70,593.10 L770.12,593.10 L770.53,593.10 L770.95,593.10 L771.36,593.10 L771.78,593.10 L772.19,593.10 L772.61,593.10 L773.03,593.10 L773.44,593.10 L773.86,593.10 L774.27,593.10 L774.69,593.10 L775.10,593.10 L775.52,593.10 L775.93,593.10 L776.35,593.10 L776.76,593.10 L777.18,593.10 L777.59,593.10 L778.01,593.10 L778.42,593.10 L778.84,593.10 L779.25,593.10 L779.67,593.10 L780.08,593.10 L780.50,593.10 L780.91,593.10 L781.33,593.10 L781.74,593.10 L782.16,593.10 L782.57,593.10 L782.99,593.10 L783.40,593.10 L783.82,593.10 L784.23,593.10 L784.65,593.10 L785.06,593.10 L785.48,593.10 L785.89,593.10 L786.31,593.10 L786.72,593.10 L787.14,593.10 L787.55,593.10 L787.97,593.10 L788.38,593.10 L788.80,593.10" stroke="#ff00ff" stroke-width="1.8"/>
<path d="M124.60,593.10 L125.02,593.10 L125.43,593.10 L125.85,593.10 L126.26,593.10 L126.68,593.10 L127.09,593.10 L127.51,593.10 L127.92,593.10 L128.34,593.10 L128.75,593.10 L129.17,593.10 L129.58,593.10 L130.00,593.10 L130.41,593.10 L130.83,593.10 L131.24,593.10 L131.66,593.10 L132.07,593.10 L132.49,593.10 L132.90,593.10 L133.32,593.10 L133.73,593.10 L134.15,593.10 L134.56,593.10 L134.98,593.10 L135.39,593.10 L135.81,593.10 L136.22,593.10 L136.64,593.10 L137.05,593.10 L137.47,593.10 L137.88,593.10 L138.30,593.10 L138.71,593.10 L139.13,593.10 L139.54,593.10 L139.96,593.10 L140.37,593.10 L140.79,593.10 L141.20,593.10 L141.62,593.10 L142.04,593.09 L142.45,593.09 L142.87,593.09 L143.28,593.09 L143.70,593.09 L144.11,593.09 L144.53,593.09 L144.94,593.09 L145.36,593.09 L145.77,593.09 L146.19,593.09 L146.60,593.09 L147.02,593.09 L147.43,593.09 L147.85,593.09 L148.26,593.09 L148.68,593.09 L149.09,593.08 L149.51,593.08 L149.92,593.08 L150.34,593.08 L150.75,593.08 L151.17,593.08 L151.58,593.08 L152.00,593.08 L152.41,593.07 L152.83,593.07 L153.24,593.07 L153.66,593.07 L154.07,593.07 L154.49,593.07 L154.90,593.06 L155.32,593.06 L155.73,593.06 L156.15,593.06 L156.56,593.05 L156.98,593.05 L157.39,593.05 L157.81,593.04 L158.23,593.04 L158.64,593.04 L159.06,593.03 L159.47,593.03 L159.89,593.03 L160.30,593.02 L160.72,593.02 L161.13,593.01 L161.55,593.01 L161.96,593.00 L162.38,593.00 L162.79,592.99 L163.21,592.98 L163.62,592.98 L164.04,592.97 L164.45,592.96 L164.87,592.96 L165.28,592.95 L165.70,592.94 L166.11,592.93 L166.53,592.92 L166.94,592.91 L167.36,592.90 L167.77,592.89 L168.19,592.88 L168.60,592.87 L169.02,592.85 L169.43,592.84 L169.85,592.83 L170.26,592.81 L170.68,592.80 L171.09,592.78 L171.51,592.77 L171.92,592.75 L172.34,592.73 L172.75,592.71 L173.17,592.69 L173.58,592.67 L174.00,592.65 L174.42,592.63 L174.83,592.60 L175.25,592.58 L175.66,592.55 L176.08,592.53 L176.49,592.50 L176.91,592.47 L177.32,592.44 L177.74,592.40 L178.15,592.37 L178.57,592.34 L178.98,592.30 L179.40,592.26 L179.81,592.22 L180.23,592.18 L180.64,592.14 L181.06,592.09 L181.47,592.05 L181.89,592.00 L182.30,591.95 L182.72,591.90 L183.13,591.84 L183.55,591.78 L183.96,591.72 L184.38,591.66 L184.79,591.60 L185.21,591.53 L185.62,591.46 L186.04,591.39 L186.45,591.32 L186.87,591.24 L187.28,591.16 L187.70,591.08 L188.11,590.99 L188.53,590.90 L188.94,590.81 L189.36,590.71 L189.77,590.61 L190.19,590.51 L190.60,590.40 L191.02,590.29 L191.44,590.17 L191.85,590.06 L192.27,589.93 L192.68,589.80 L193.10,589.67 L193.51,589.53 L193.93,589.39 L194.34,589.25 L194.76,589.10 L195.17,588.94 L195.59,588.78 L196.00,588.61 L196.42,588.44 L196.83,588.26 L197.25,588.07 L197.66,587.88 L198.08,587.69 L198.49,587.48 L198.91,587.27 L199.32,587.06 L199.74,586.84 L200.15,586.61 L200.57,586.37 L200.98,586.12 L201.40,585.87 L201.81,585.61 L202.23,585.34 L202.64,585.07 L203.06,584.78 L203.47,584.49 L203.89,584.19 L204.30,583.88 L204.72,583.56 L205.13,583.23 L205.55,582.89 L205.96,582.54 L206.38,582.18 L206.79,581.81 L207.21,581.43 L207.62,581.04 L208.04,580.63 L208.46,580.22 L208.87,579.79 L209.29,579.36 L209.70,578.91 L210.12,578.44 L210.53,577.97 L210.95,577.48 L211.36,576.98 L211.78,576.46 L212.19,575.93 L212.61,575.39 L213.02,574.83 L213.44,574.26 L213.85,573.67 L214.27,573.06 L214.68,572.44 L215.10,571.81 L215.51,571.15 L215.93,570.48 L216.34,569.79 L216.76,569.09 L217.17,568.36 L217.59,567.62 L218.00,566.86 L218.42,566.08 L218.83,565.27 L219.25,564.45 L219.66,563.61 L220.08,562.75 L220.49,561.86 L220.91,560.96 L221.32,560.03 L221.74,559.08 L222.15,558.10 L222.57,557.10 L222.98,556.08 L223.40,555.04 L223.81,553.96 L224.23,552.87 L224.65,551.75 L225.06,550.60 L225.48,549.42 L225.89,548.22 L226.31,546.99 L226.72,545.73 L227.14,544.45 L227.55,543.14 L227.97,541.79 L228.38,540.42 L228.80,539.02 L229.21,537.59 L229.63,536.12 L230.04,534.63 L230.46,533.10 L230.87,531.55 L231.29,529.96 L231.70,528.34 L232.12,526.69 L232.53,525.00 L232.95,523.29 L233.36,521.54 L233.78,519.75 L234.19,517.94 L234.61,516.09 L235.02,514.20 L235.44,512.29 L235.85,510.34 L236.27,508.35 L236.68,506.34 L237.10,504.28 L237.51,502.20 L237.93,500.08 L238.34,497.93 L238.76,495.75 L239.17,493.54 L239.59,491.29 L240.00,489.01 L240.42,486.70 L240.83,484.36 L241.25,481.99 L241.67,479.59 L242.08,477.16 L242.50,474.70 L242.91,472.21 L243.33,469.70 L243.74,467.16 L244.16,464.60 L244.57,462.01 L244.99,459.39 L245.40,456.76 L245.82,454.10 L246.23,451.43 L246.65,448.73 L247.06,446.02 L247.48,443.29 L247.89,440.54 L248.31,437.78 L248.72,435.01 L249.14,432.23 L249.55,429.44 L249.97,426.64 L250.38,423.84 L250.80,421.03 L251.21,418.22 L251.63,415.40 L252.04,412.59 L252.46,409.78 L252.87,406.98 L253.29,404.18 L253.70,401.40 L254.12,398.62 L254.53,395.85 L254.95,393.10 L255.36,390.37 L255.78,387.65 L256.19,384.96 L256.61,382.29 L257.02,379.64 L257.44,377.02 L257.86,374.42 L258.27,371.86 L258.69,369.33 L259.10,366.84 L259.52,364.38 L259.93,361.96 L260.35,359.58 L260.76,357.25 L261.18,354.95 L261.59,352.71 L262.01,350.51 L262.42,348.36 L262.84,346.26 L263.25,344.22 L263.67,342.22 L264.08,340.29 L264.50,338.41 L264.91,336.59 L265.33,334.83 L265.74,333.12 L266.16,331.48 L266.57,329.90 L266.99,328.39 L267.40,326.94 L267.82,325.55 L268.23,324.23 L268.65,322.97 L269.06,321.78 L269.48,320.66 L269.89,319.60 L270.31,318.61 L270.72,317.68 L271.14,316.82 L271.55,316.02 L271.97,315.29 L272.38,314.62 L272.80,314.02 L273.21,313.48 L273.63,313.00 L274.04,312.58 L274.46,312.21 L274.88,311.91 L275.29,311.66 L275.71,311.47 L276.12,311.33 L276.54,311.25 L276.95,311.21 L277.37,311.22 L277.78,311.28 L278.20,311.37 L278.61,311.51 L279.03,311.69 L279.44,311.91 L279.86,312.16 L280.27,312.44 L280.69,312.75 L281.10,313.09 L281.52,313.44 L281.93,313.82 L282.35,314.22 L282.76,314.63 L283.18,315.06 L283.59,315.49 L284.01,315.93 L284.42,316.37 L284.84,316.82 L285.25,317.26 L285.67,317.69 L286.08,318.12 L286.50,318.53 L286.91,318.93 L287.33,319.31 L287.74,319.67 L288.16,320.01 L288.57,320.33 L288.99,320.61 L289.40,320.86 L289.82,321.08 L290.23,321.27 L290.65,321.42 L291.07,321.52 L291.48,321.58 L291.90,321.60 L292.31,321.57 L292.73,321.50 L293.14,321.37 L293.56,321.19 L293.97,320.96 L294.39,320.67 L294.80,320.33 L295.22,319.93 L295.63,319.47 L296.05,318.95 L296.46,318.37 L296.88,317.74 L297.29,317.04 L297.71,316.28 L298.12,315.47 L298.54,314.59 L298.95,313.65 L299.37,312.66 L299.78,311.60 L300.20,310.49 L300.61,309.32 L301.03,308.09 L301.44,306.81 L301.86,305.47 L302.27,304.09 L302.69,302.65 L303.10,301.16 L303.52,299.63 L303.93,298.06 L304.35,296.44 L304.76,294.78 L305.18,293.09 L305.59,291.36 L306.01,289.60 L306.42,287.81 L306.84,286.00 L307.25,284.16 L307.67,282.31 L308.09,280.44 L308.50,278.55 L308.92,276.66 L309.33,274.76 L309.75,272.86 L310.16,270.96 L310.58,269.07 L310.99,267.19 L311.41,265.31 L311.82,263.46 L312.24,261.62 L312.65,259.81 L313.07,258.03 L313.48,256.28 L313.90,254.56 L314.31,252.89 L314.73,251.25 L315.14,249.66 L315.56,248.12 L315.97,246.63 L316.39,245.20 L316.80,243.83 L317.22,242.52 L317.63,241.27 L318.05,240.09 L318.46,238.98 L318.88,237.94 L319.29,236.97 L319.71,236.09 L320.12,235.27 L320.54,234.54 L320.95,233.89 L321.37,233.32 L321.78,232.83 L322.20,232.42 L322.61,232.10 L323.03,231.86 L323.44,231.70 L323.86,231.62 L324.28,231.62 L324.69,231.71 L325.11,231.87 L325.52,232.11 L325.94,232.42 L326.35,232.80 L326.77,233.25 L327.18,233.77 L327.60,234.36 L328.01,235.00 L328.43,235.70 L328.84,236.45 L329.26,237.25 L329.67,238.09 L330.09,238.97 L330.50,239.89 L330.92,240.83 L331.33,241.80 L331.75,242.78 L332.16,243.78 L332.58,244.79 L332.99,245.79 L333.41,246.80 L333.82,247.79 L334.24,248.77 L334.65,249.72 L335.07,250.65 L335.48,251.55 L335.90,252.41 L336.31,253.22 L336.73,253.99 L337.14,254.70 L337.56,255.35 L337.97,255.94 L338.39,256.46 L338.80,256.90 L339.22,257.27 L339.63,257.56 L340.05,257.76 L340.46,257.88 L340.88,257.91 L341.30,257.84 L341.71,257.68 L342.13,257.43 L342.54,257.08 L342.96,256.63 L343.37,256.08 L343.79,255.44 L344.20,254.69 L344.62,253.86 L345.03,252.92 L345.45,251.90 L345.86,250.78 L346.28,249.57 L346.69,248.28 L347.11,246.90 L347.52,245.45 L347.94,243.92 L348.35,242.32 L348.77,240.66 L349.18,238.93 L349.60,237.15 L350.01,235.33 L350.43,233.45 L350.84,231.54 L351.26,229.60 L351.67,227.63 L352.09,225.64 L352.50,223.63 L352.92,221.63 L353.33,219.62 L353.75,217.62 L354.16,215.63 L354.58,213.66 L354.99,211.72 L355.41,209.81 L355.82,207.95 L356.24,206.12 L356.65,204.35 L357.07,202.64 L357.49,200.99 L357.90,199.41 L358.32,197.90 L358.73,196.47 L359.15,195.12 L359.56,193.86 L359.98,192.68 L360.39,191.61 L360.81,190.63 L361.22,189.74 L361.64,188.96 L362.05,188.29 L362.47,187.72 L362.88,187.25 L363.30,186.90 L363.71,186.64 L364.13,186.50 L364.54,186.46 L364.96,186.53 L365.37,186.70 L365.79,186.97 L366.20,187.34 L366.62,187.81 L367.03,188.36 L367.45,189.01 L367.86,189.75 L368.28,190.56 L368.69,191.45 L369.11,192.41 L369.52,193.44 L369.94,194.53 L370.35,195.67 L370.77,196.86 L371.18,198.09 L371.60,199.36 L372.01,200.66 L372.43,201.97 L372.84,203.31 L373.26,204.65 L373.67,205.99 L374.09,207.33 L374.51,208.65 L374.92,209.95 L375.34,211.22 L375.75,212.46 L376.17,213.66 L376.58,214.80 L377.00,215.90 L377.41,216.93 L377.83,217.90 L378.24,218.79 L378.66,219.61 L379.07,220.34 L379.49,220.98 L379.90,221.54 L380.32,221.99 L380.73,222.35 L381.15,222.60 L381.56,222.74 L381.98,222.78 L382.39,222.71 L382.81,222.53 L383.22,222.23 L383.64,221.82 L384.05,221.31 L384.47,220.68 L384.88,219.94 L385.30,219.09 L385.71,218.14 L386.13,217.08 L386.54,215.93 L386.96,214.68 L387.37,213.34 L387.79,211.91 L388.20,210.40 L388.62,208.82 L389.03,207.17 L389.45,205.45 L389.86,203.68 L390.28,201.86 L390.70,199.99 L391.11,198.10 L391.53,196.17 L391.94,194.23 L392.36,192.27 L392.77,190.32 L393.19,188.37 L393.60,186.43 L394.02,184.51 L394.43,182.63 L394.85,180.78 L395.26,178.98 L395.68,177.23 L396.09,175.55 L396.51,173.93 L396.92,172.39 L397.34,170.93 L397.75,169.55 L398.17,168.28 L398.58,167.10 L399.00,166.02 L399.41,165.06 L399.83,164.21 L400.24,163.47 L400.66,162.85 L401.07,162.36 L401.49,161.98 L401.90,161.74 L402.32,161.61 L402.73,161.61 L403.15,161.74 L403.56,161.99 L403.98,162.35 L404.39,162.84 L404.81,163.44 L405.22,164.15 L405.64,164.97 L406.05,165.89 L406.47,166.91 L406.88,168.02 L407.30,169.22 L407.72,170.49 L408.13,171.83 L408.55,173.24 L408.96,174.71 L409.38,176.22 L409.79,177.77 L410.21,179.35 L410.62,180.95 L411.04,182.57 L411.45,184.19 L411.87,185.81 L412.28,187.41 L412.70,188.99 L413.11,190.54 L413.53,192.05 L413.94,193.51 L414.36,194.91 L414.77,196.25 L415.19,197.52 L415.60,198.71 L416.02,199.81 L416.43,200.82 L416.85,201.73 L417.26,202.53 L417.68,203.23 L418.09,203.82 L418.51,204.28 L418.92,204.63 L419.34,204.85 L419.75,204.95 L420.17,204.92 L420.58,204.77 L421.00,204.49 L421.41,204.08 L421.83,203.55 L422.24,202.89 L422.66,202.12 L423.07,201.22 L423.49,200.22 L423.91,199.10 L424.32,197.88 L424.74,196.57 L425.15,195.15 L425.57,193.66 L425.98,192.08 L426.40,190.44 L426.81,188.72 L427.23,186.96 L427.64,185.14 L428.06,183.29 L428.47,181.41 L428.89,179.51 L429.30,177.59 L429.72,175.67 L430.13,173.76 L430.55,171.87 L430.96,170.00 L431.38,168.16 L431.79,166.37 L432.21,164.63 L432.62,162.95 L433.04,161.34 L433.45,159.80 L433.87,158.35 L434.28,156.99 L434.70,155.73 L435.11,154.56 L435.53,153.51 L435.94,152.57 L436.36,151.75 L436.77,151.05 L437.19,150.47 L437.60,150.03 L438.02,149.71 L438.43,149.52 L438.85,149.46 L439.26,149.54 L439.68,149.74 L440.10,150.07 L440.51,150.53 L440.93,151.11 L441.34,151.82 L441.76,152.64 L442.17,153.57 L442.59,154.61 L443.00,155.75 L443.42,156.98 L443.83,158.30 L444.25,159.71 L444.66,161.18 L445.08,162.72 L445.49,164.32 L445.91,165.97 L446.32,167.66 L446.74,169.38 L447.15,171.12 L447.57,172.88 L447.98,174.63 L448.40,176.39 L448.81,178.12 L449.23,179.84 L449.64,181.51 L450.06,183.15 L450.47,184.74 L450.89,186.26 L451.30,187.72 L451.72,189.11 L452.13,190.41 L452.55,191.62 L452.96,192.74 L453.38,193.76 L453.79,194.67 L454.21,195.47 L454.62,196.15 L455.04,196.71 L455.45,197.15 L455.87,197.47 L456.28,197.66 L456.70,197.73 L457.12,197.66 L457.53,197.47 L457.95,197.15 L458.36,196.71 L458.78,196.15 L459.19,195.47 L459.61,194.67 L460.02,193.76 L460.44,192.74 L460.85,191.62 L461.27,190.41 L461.68,189.11 L462.10,187.72 L462.51,186.26 L462.93,184.74 L463.34,183.15 L463.76,181.51 L464.17,179.84 L464.59,178.12 L465.00,176.39 L465.42,174.63 L465.83,172.88 L466.25,171.12 L466.66,169.38 L467.08,167.66 L467.49,165.97 L467.91,164.32 L468.32,162.72 L468.74,161.18 L469.15,159.71 L469.57,158.30 L469.98,156.98 L470.40,155.75 L470.81,154.61 L471.23,153.57 L471.64,152.64 L472.06,151.82 L472.47,151.11 L472.89,150.53 L473.30,150.07 L473.72,149.74 L474.14,149.54 L474.55,149.46 L474.97,149.52 L475.38,149.71 L475.80,150.03 L476.21,150.47 L476.63,151.05 L477.04,151.75 L477.46,152.57 L477.87,153.51 L478.29,154.56 L478.70,155.73 L479.12,156.99 L479.53,158.35 L479.95,159.80 L480.36,161.34 L480.78,162.95 L481.19,164.63 L481.61,166.37 L482.02,168.16 L482.44,170.00 L482.85,171.87 L483.27,173.76 L483.68,175.67 L484.10,177.59 L484.51,179.51 L484.93,181.41 L485.34,183.29 L485.76,185.14 L486.17,186.96 L486.59,188.72 L487.00,190.44 L487.42,192.08 L487.83,193.66 L488.25,195.15 L488.66,196.57 L489.08,197.88 L489.49,199.10 L489.91,200.22 L490.33,201.22 L490.74,202.12 L491.16,202.89 L491.57,203.55 L491.99,204.08 L492.40,204.49 L492.82,204.77 L493.23,204.92 L493.65,204.95 L494.06,204.85 L494.48,204.63 L494.89,204.28 L495.31,203.82 L495.72,203.23 L496.14,202.53 L496.55,201.73 L496.97,200.82 L497.38,199.81 L497.80,198.71 L498.21,197.52 L498.63,196.25 L499.04,194.91 L499.46,193.51 L499.87,192.05 L500.29,190.54 L500.70,188.99 L501.12,187.41 L501.53,185.81 L501.95,184.19 L502.36,182.57 L502.78,180.95 L503.19,179.35 L503.61,177.77 L504.02,176.22 L504.44,174.71 L504.85,173.24 L505.27,171.83 L505.68,170.49 L506.10,169.22 L506.51,168.02 L506.93,166.91 L507.35,165.89 L507.76,164.97 L508.18,164.15 L508.59,163.44 L509.01,162.84 L509.42,162.35 L509.84,161.99 L510.25,161.74 L510.67,161.61 L511.08,161.61 L511.50,161.74 L511.91,161.98 L512.33,162.36 L512.74,162.85 L513.16,163.47 L513.57,164.21 L513.99,165.06 L514.40,166.02 L514.82,167.10 L515.23,168.28 L515.65,169.55 L516.06,170.93 L516.48,172.39 L516.89,173.93 L517.31,175.55 L517.72,177.23 L518.14,178.98 L518.55,180.78 L518.97,182.63 L519.38,184.51 L519.80,186.43 L520.21,188.37 L520.63,190.32 L521.04,192.27 L521.46,194.23 L521.87,196.17 L522.29,198.10 L522.70,199.99 L523.12,201.86 L523.54,203.68 L523.95,205.45 L524.37,207.17 L524.78,208.82 L525.20,210.40 L525.61,211.91 L526.03,213.34 L526.44,214.68 L526.86,215.93 L527.27,217.08 L527.69,218.14 L528.10,219.09 L528.52,219.94 L528.93,220.68 L529.35,221.31 L529.76,221.82 L530.18,222.23 L530.59,222.53 L531.01,222.71 L531.42,222.78 L531.84,222.74 L532.25,222.60 L532.67,222.35 L533.08,221.99 L533.50,221.54 L533.91,220.98 L534.33,220.34 L534.74,219.61 L535.16,218.79 L535.57,217.90 L535.99,216.93 L536.40,215.90 L536.82,214.80 L537.23,213.66 L537.65,212.46 L538.06,211.22 L538.48,209.95 L538.89,208.65 L539.31,207.33 L539.73,205.99 L540.14,204.65 L540.56,203.31 L540.97,201.97 L541.39,200.66 L541.80,199.36 L542.22,198.09 L542.63,196.86 L543.05,195.67 L543.46,194.53 L543.88,193.44 L544.29,192.41 L544.71,191.45 L545.12,190.56 L545.54,189.75 L545.95,189.01 L546.37,188.36 L546.78,187.81 L547.20,187.34 L547.61,186.97 L548.03,186.70 L548.44,186.53 L548.86,186.46 L549.27,186.50 L549.69,186.64 L550.10,186.90 L550.52,187.25 L550.93,187.72 L551.35,188.29 L551.76,188.96 L552.18,189.74 L552.59,190.63 L553.01,191.61 L553.42,192.68 L553.84,193.86 L554.25,195.12 L554.67,196.47 L555.08,197.90 L555.50,199.41 L555.91,200.99 L556.33,202.64 L556.75,204.35 L557.16,206.12 L557.58,207.95 L557.99,209.81 L558.41,211.72 L558.82,213.66 L559.24,215.63 L559.65,217.62 L560.07,219.62 L560.48,221.63 L560.90,223.63 L561.31,225.64 L561.73,227.63 L562.14,229.60 L562.56,231.54 L562.97,233.45 L563.39,235.33 L563.80,237.15 L564.22,238.93 L564.63,240.66 L565.05,242.32 L565.46,243.92 L565.88,245.45 L566.29,246.90 L566.71,248.28 L567.12,249.57 L567.54,250.78 L567.95,251.90 L568.37,252.92 L568.78,253.86 L569.20,254.69 L569.61,255.44 L570.03,256.08 L570.44,256.63 L570.86,257.08 L571.27,257.43 L571.69,257.68 L572.10,257.84 L572.52,257.91 L572.93,257.88 L573.35,257.76 L573.77,257.56 L574.18,257.27 L574.60,256.90 L575.01,256.46 L575.43,255.94 L575.84,255.35 L576.26,254.70 L576.67,253.99 L577.09,253.22 L577.50,252.41 L577.92,251.55 L578.33,250.65 L578.75,249.72 L579.16,248.77 L579.58,247.79 L579.99,246.80 L580.41,245.79 L580.82,244.79 L581.24,243.78 L581.65,242.78 L582.07,241.80 L582.48,240.83 L582.90,239.89 L583.31,238.97 L583.73,238.09 L584.14,237.25 L584.56,236.45 L584.97,235.70 L585.39,235.00 L585.80,234.36 L586.22,233.77 L586.63,233.25 L587.05,232.80 L587.46,232.42 L587.88,232.11 L588.29,231.87 L588.71,231.71 L589.12,231.62 L589.54,231.62 L589.96,231.70 L590.37,231.86 L590.79,232.10 L591.20,232.42 L591.62,232.83 L592.03,233.32 L592.45,233.89 L592.86,234.54 L593.28,235.27 L593.69,236.09 L594.11,236.97 L594.52,237.94 L594.94,238.98 L595.35,240.09 L595.77,241.27 L596.18,242.52 L596.60,243.83 L597.01,245.20 L597.43,246.63 L597.84,248.12 L598.26,249.66 L598.67,251.25 L599.09,252.89 L599.50,254.56 L599.92,256.28 L600.33,258.03 L600.75,259.81 L601.16,261.62 L601.58,263.46 L601.99,265.31 L602.41,267.19 L602.82,269.07 L603.24,270.96 L603.65,272.86 L604.07,274.76 L604.48,276.66 L604.90,278.55 L605.31,280.44 L605.73,282.31 L606.14,284.16 L606.56,286.00 L606.98,287.81 L607.39,289.60 L607.81,291.36 L608.22,293.09 L608.64,294.78 L609.05,296.44 L609.47,298.06 L609.88,299.63 L610.30,301.16 L610.71,302.65 L611.13,304.09 L611.54,305.47 L611.96,306.81 L612.37,308.09 L612.79,309.32 L613.20,310.49 L613.62,311.60 L614.03,312.66 L614.45,313.65 L614.86,314.59 L615.28,315.47 L615.69,316.28 L616.11,317.04 L616.52,317.74 L616.94,318.37 L617.35,318.95 L617.77,319.47 L618.18,319.93 L618.60,320.33 L619.01,320.67 L619.43,320.96 L619.84,321.19 L620.26,321.37 L620.67,321.50 L621.09,321.57 L621.50,321.60 L621.92,321.58 L622.33,321.52 L622.75,321.42 L623.17,321.27 L623.58,321.08 L624.00,320.86 L624.41,320.61 L624.83,320.33 L625.24,320.01 L625.66,319.67 L626.07,319.31 L626.49,318.93 L626.90,318.53 L627.32,318.12 L627.73,317.69 L628.15,317.26 L628.56,316.82 L628.98,316.37 L629.39,315.93 L629.81,315.49 L630.22,315.06 L630.64,314.63 L631.05,314.22 L631.47,313.82 L631.88,313.44 L632.30,313.09 L632.71,312.75 L633.13,312.44 L633.54,312.16 L633.96,311.91 L634.37,311.69 L634.79,311.51 L635.20,311.37 L635.62,311.28 L636.03,311.22 L636.45,311.21 L636.86,311.25 L637.28,311.33 L637.69,311.47 L638.11,311.66 L638.52,311.91 L638.94,312.21 L639.35,312.58 L639.77,313.00 L640.19,313.48 L640.60,314.02 L641.02,314.62 L641.43,315.29 L641.85,316.02 L642.26,316.82 L642.68,317.68 L643.09,318.61 L643.51,319.60 L643.92,320.66 L644.34,321.78 L644.75,322.97 L645.17,324.23 L645.58,325.55 L646.00,326.94 L646.41,328.39 L646.83,329.90 L647.24,331.48 L647.66,333.12 L648.07,334.83 L648.49,336.59 L648.90,338.41 L649.32,340.29 L649.73,342.22 L650.15,344.22 L650.56,346.26 L650.98,348.36 L651.39,350.51 L651.81,352.71 L652.22,354.95 L652.64,357.25 L653.05,359.58 L653.47,361.96 L653.88,364.38 L654.30,366.84 L654.71,369.33 L655.13,371.86 L655.54,374.42 L655.96,377.02 L656.38,379.64 L656.79,382.29 L657.21,384.96 L657.62,387.65 L658.04,390.37 L658.45,393.10 L658.87,395.85 L659.28,398.62 L659.70,401.40 L660.11,404.18 L660.53,406.98 L660.94,409.78 L661.36,412.59 L661.77,415.40 L662.19,418.22 L662.60,421.03 L663.02,423.84 L663.43,426.64 L663.85,429.44 L664.26,432.23 L664.68,435.01 L665.09,437.78 L665.51,440.54 L665.92,443.29 L666.34,446.02 L666.75,448.73 L667.17,451.43 L667.58,454.10 L668.00,456.76 L668.41,459.39 L668.83,462.01 L669.24,464.60 L669.66,467.16 L670.07,469.70 L670.49,472.21 L670.90,474.70 L671.32,477.16 L671.73,479.59 L672.15,481.99 L672.57,484.36 L672.98,486.70 L673.40,489.01 L673.81,491.29 L674.23,493.54 L674.64,495.75 L675.06,497.93 L675.47,500.08 L675.89,502.20 L676.30,504.28 L676.72,506.34 L677.13,508.35 L677.55,510.34 L677.96,512.29 L678.38,514.20 L678.79,516.09 L679.21,517.94 L679.62,519.75 L680.04,521.54 L680.45,523.29 L680.87,525.00 L681.28,526.69 L681.70,528.34 L682.11,529.96 L682.53,531.55 L682.94,533.10 L683.36,534.63 L683.77,536.12 L684.19,537.59 L684.60,539.02 L685.02,540.42 L685.43,541.79 L685.85,543.14 L686.26,544.45 L686.68,545.73 L687.09,546.99 L687.51,548.22 L687.92,549.42 L688.34,550.60 L688.75,551.75 L689.17,552.87 L689.59,553.96 L690.00,555.04 L690.42,556.08 L690.83,557.10 L691.25,558.10 L691.66,559.08 L692.08,560.03 L692.49,560.96 L692.91,561.86 L693.32,562.75 L693.74,563.61 L694.15,564.45 L694.57,565.27 L694.98,566.08 L695.40,566.86 L695.81,567.62 L696.23,568.36 L696.64,569.09 L697.06,569.79 L697.47,570.48 L697.89,571.15 L698.30,571.81 L698.72,572.44 L699.13,573.06 L699.55,573.67 L699.96,574.26 L700.38,574.83 L700.79,575.39 L701.21,575.93 L701.62,576.46 L702.04,576.98 L702.45,577.48 L702.87,577.97 L703.28,578.44 L703.70,578.91 L704.11,579.36 L704.53,579.79 L704.94,580.22 L705.36,580.63 L705.77,581.04 L706.19,581.43 L706.61,581.81 L707.02,582.18 L707.44,582.54 L707.85,582.89 L708.27,583.23 L708.68,583.56 L709.10,583.88 L709.51,584.19 L709.93,584.49 L710.34,584.78 L710.76,585.07 L711.17,585.34 L711.59,585.61 L712.00,585.87 L712.42,586.12 L712.83,586.37 L713.25,586.61 L713.66,586.84 L714.08,587.06 L714.49,587.27 L714.91,587.48 L715.32,587.69 L715.74,587.88 L716.15,588.07 L716.57,588.26 L716.98,588.44 L717.40,588.61 L717.81,588.78 L718.23,588.94 L718.64,589.10 L719.06,589.25 L719.47,589.39 L719.89,589.53 L720.30,589.67 L720.72,589.80 L721.13,589.93 L721.55,590.06 L721.96,590.17 L722.38,590.29 L722.80,590.40 L723.21,590.51 L723.63,590.61 L724.04,590.71 L724.46,590.81 L724.87,590.90 L725.29,590.99 L725.70,591.08 L726.12,591.16 L726.53,591.24 L726.95,591.32 L727.36,591.39 L727.78,591.46 L728.19,591.53 L728.61,591.60 L729.02,591.66 L729.44,591.72 L729.85,591.78 L730.27,591.84 L730.68,591.90 L731.10,591.95 L731.51,592.00 L731.93,592.05 L732.34,592.09 L732.76,592.14 L733.17,592.18 L733.59,592.22 L734.00,592.26 L734.42,592.30 L734.83,592.34 L735.25,592.37 L735.66,592.40 L736.08,592.44 L736.49,592.47 L736.91,592.50 L737.32,592.53 L737.74,592.55 L738.15,592.58 L738.57,592.60 L738.98,592.63 L739.40,592.65 L739.82,592.67 L740.23,592.69 L740.65,592.71 L741.06,592.73 L741.48,592.75 L741.89,592.77 L742.31,592.78 L742.72,592.80 L743.14,592.81 L743.55,592.83 L743.97,592.84 L744.38,592.85 L744.80,592.87 L745.21,592.88 L745.63,592.89 L746.04,592.90 L746.46,592.91 L746.87,592.92 L747.29,592.93 L747.70,592.94 L748.12,592.95 L748.53,592.96 L748.95,592.96 L749.36,592.97 L749.78,592.98 L750.19,592.98 L750.61,592.99 L751.02,593.00 L751.44,593.00 L751.85,593.01 L752.27,593.01 L752.68,593.02 L753.10,593.02 L753.51,593.03 L753.93,593.03 L754.34,593.03 L754.76,593.04 L755.17,593.04 L755.59,593.04 L756.01,593.05 L756.42,593.05 L756.84,593.05 L757.25,593.06 L757.67,593.06 L758.08,593.06 L758.50,593.06 L758.91,593.07 L759.33,593.07 L759.74,593.07 L760.16,593.07 L760.57,593.07 L760.99,593.07 L761.40,593.08 L761.82,593.08 L762.23,593.08 L762.65,593.08 L763.06,593.08 L763.48,593.08 L763.89,593.08 L764.31,593.08 L764.72,593.09 L765.14,593.09 L765.55,593.09 L765.97,593.09 L766.38,593.09 L766.80,593.09 L767.21,593.09 L767.63,593.09 L768.04,593.09 L768.46,593.09 L768.87,593.09 L769.29,593.09 L769.70,593.09 L770.12,593.09 L770.53,593.09 L770.95,593.09 L771.36,593.09 L771.78,593.10 L772.19,593.10 L772.61,593.10 L773.03,593.10 L773.44,593.10 L773.86,593.10 L774.27,593.10 L774.69,593.10 L775.10,593.10 L775.52,593.10 L775.93,593.10 L776.35,593.10 L776.76,593.10 L777.18,593.10 L777.59,593.10 L778.01,593.10 L778.42,593.10 L778.84,593.10 L779.25,593.10 L779.67,593.10 L780.08,593.10 L780.50,593.10 L780.91,593.10 L781.33,593.10 L781.74,593.10 L782.16,593.10 L782.57,593.10 L782.99,593.10 L783.40,593.10 L783.82,593.10 L784.23,593.10 L784.65,593.10 L785.06,593.10 L785.48,593.10 L785.89,593.10 L786.31,593.10 L786.72,593.10 L787.14,593.10 L787.55,593.10 L787.97,593.10 L788.38,593.10 L788.80,593.10" stroke="#000000" stroke-width="1.1"/>
</g>
<!-- main frame -->
<rect x="124.6" y="19.3" width="664.1999999999999" height="574.0" stroke="#000" stroke-width="2.2" stroke-linejoin="round" fill="none"/>
<!-- inset -->
<g stroke="#000" stroke-width="1.9" fill="none" stroke-linecap="round">
<path d="M348.90,499.90v-9.6 M348.90,342.10v9.6"/>
<path d="M369.63,499.90v-4.5 M369.63,342.10v4.5"/>
<path d="M390.37,499.90v-9.6 M390.37,342.10v9.6"/>
<path d="M411.10,499.90v-4.5 M411.10,342.10v4.5"/>
<path d="M431.83,499.90v-9.6 M431.83,342.10v9.6"/>
<path d="M452.57,499.90v-4.5 M452.57,342.10v4.5"/>
<path d="M473.30,499.90v-9.6 M473.30,342.10v9.6"/>
<path d="M494.03,499.90v-4.5 M494.03,342.10v4.5"/>
<path d="M514.77,499.90v-9.6 M514.77,342.10v9.6"/>
<path d="M535.50,499.90v-4.5 M535.50,342.10v4.5"/>
<path d="M556.23,499.90v-9.6 M556.23,342.10v9.6"/>
<path d="M576.97,499.90v-4.5 M576.97,342.10v4.5"/>
<path d="M597.70,499.90v-9.6 M597.70,342.10v9.6"/>
<path d="M348.90,490.62h4.5 M597.70,490.62h-4.5"/>
<path d="M348.90,467.41h9.6 M597.70,467.41h-9.6"/>
<path d="M348.90,444.21h4.5 M597.70,444.21h-4.5"/>
<path d="M348.90,421.00h9.6 M597.70,421.00h-9.6"/>
<path d="M348.90,397.79h4.5 M597.70,397.79h-4.5"/>
<path d="M348.90,374.59h9.6 M597.70,374.59h-9.6"/>
<path d="M348.90,351.38h4.5 M597.70,351.38h-4.5"/>
</g>
<g fill="none" stroke-linejoin="round" clip-path="url(#ci)">
<path d="M349.24,421.20 L350.01,421.20 L351.00,421.19 L352.00,421.19 L353.00,421.18 L354.00,421.18 L355.00,421.18 L356.00,421.18 L357.00,421.17 L358.00,421.17 L359.00,421.17 L360.00,421.18 L361.00,421.18 L362.00,421.18 L363.00,421.19 L364.00,421.19 L365.00,421.20 L366.00,421.21 L367.00,421.22 L368.00,421.23 L369.00,421.24 L370.00,421.24 L371.00,421.24 L372.00,421.24 L373.00,421.23 L374.00,421.22 L375.00,421.20 L376.00,421.17 L377.00,421.13 L378.00,421.07 L379.00,421.00 L379.99,420.91 L380.99,420.79 L381.98,420.65 L382.97,420.48 L383.95,420.28 L384.93,420.04 L385.90,419.76 L386.85,419.43 L387.78,419.06 L388.68,418.63 L389.55,418.13 L390.39,417.58 L391.19,416.97 L391.94,416.30 L392.65,415.59 L393.32,414.84 L393.93,414.04 L394.49,413.22 L395.02,412.37 L395.50,411.49 L395.96,410.60 L396.40,409.70 L396.82,408.78 L397.22,407.86 L397.62,406.94 L398.01,406.02 L398.39,405.09 L398.76,404.16 L399.11,403.23 L399.45,402.29 L399.78,401.35 L400.09,400.40 L400.39,399.45 L400.68,398.49 L400.96,397.53 L401.24,396.57 L401.52,395.61 L401.79,394.65 L402.07,393.69 L402.36,392.73 L402.66,391.77 L402.96,390.82 L403.27,389.87 L403.58,388.91 L403.89,387.96 L404.19,387.01 L404.48,386.06 L404.76,385.10 L405.03,384.15 L405.30,383.19 L405.55,382.22 L405.79,381.26 L406.03,380.30 L406.26,379.33 L406.49,378.35 L406.71,377.38 L406.93,376.40 L407.15,375.42 L407.37,374.44 L407.58,373.45 L407.80,372.46 L408.02,371.47 L408.24,370.47 L408.46,369.48 L408.68,368.48 L408.90,367.48 L409.11,366.49 L409.33,365.51 L409.54,364.52 L409.74,363.55 L409.94,362.59 L410.13,361.64 L410.31,360.69 L410.48,359.77 L410.65,358.85 L410.82,357.94 L411.00,357.02 L411.20,356.09 L411.44,355.15 L411.72,354.18 L412.04,353.18 L412.43,352.14 L412.88,351.06 L413.41,349.96 L413.99,348.92 L414.62,348.05 L415.29,347.47 L415.97,347.29 L416.64,347.55 L417.30,348.19 L417.92,349.10 L418.50,350.17 L419.01,351.28 L419.45,352.36 L419.82,353.40 L420.13,354.41 L420.40,355.38 L420.62,356.34 L420.80,357.27 L420.97,358.20 L421.11,359.11 L421.25,360.03 L421.38,360.96 L421.52,361.90 L421.67,362.85 L421.83,363.81 L421.99,364.79 L422.16,365.77 L422.33,366.76 L422.50,367.75 L422.67,368.75 L422.85,369.76 L423.02,370.76 L423.19,371.77 L423.35,372.77 L423.51,373.78 L423.66,374.78 L423.81,375.77 L423.95,376.77 L424.09,377.76 L424.23,378.75 L424.36,379.74 L424.49,380.73 L424.62,381.71 L424.74,382.70 L424.87,383.69 L424.99,384.68 L425.12,385.67 L425.25,386.66 L425.38,387.65 L425.51,388.64 L425.64,389.63 L425.78,390.63 L425.91,391.62 L426.04,392.61 L426.18,393.60 L426.31,394.59 L426.44,395.58 L426.58,396.57 L426.71,397.55 L426.84,398.54 L426.98,399.52 L427.11,400.50 L427.25,401.49 L427.39,402.48 L427.53,403.46 L427.68,404.45 L427.82,405.45 L427.98,406.44 L428.13,407.44 L428.29,408.45 L428.46,409.46 L428.63,410.47 L428.80,411.48 L428.97,412.48 L429.14,413.48 L429.30,414.47 L429.47,415.44 L429.62,416.40 L429.77,417.33 L429.92,418.25 L430.07,419.16 L430.23,420.08 L430.43,421.02 L430.68,422.01 L430.99,423.06 L431.38,424.18 L431.84,425.33 L432.37,426.35 L432.92,427.06 L433.48,427.29 L434.03,426.97 L434.54,426.19 L435.03,425.11 L435.46,423.90 L435.84,422.71 L436.18,421.59 L436.47,420.54 L436.72,419.55 L436.94,418.61 L437.13,417.70 L437.30,416.80 L437.46,415.91 L437.61,415.01 L437.77,414.09 L437.92,413.14 L438.08,412.17 L438.24,411.19 L438.40,410.18 L438.57,409.17 L438.73,408.15 L438.89,407.14 L439.05,406.12 L439.21,405.12 L439.37,404.13 L439.52,403.16 L439.67,402.21 L439.81,401.29 L439.95,400.39 L440.10,399.50 L440.25,398.61 L440.40,397.71 L440.57,396.79 L440.75,395.84 L440.95,394.84 L441.17,393.80 L441.41,392.69 L441.68,391.51 L441.98,390.25 L442.32,388.96 L442.68,387.70 L443.07,386.54 L443.49,385.56 L443.94,384.83 L444.42,384.43 L444.93,384.41 L445.45,384.80 L445.97,385.52 L446.49,386.49 L446.97,387.61 L447.41,388.78 L447.80,389.93 L448.12,391.03 L448.39,392.08 L448.62,393.09 L448.81,394.07 L448.96,395.02 L449.09,395.95 L449.21,396.87 L449.31,397.79 L449.41,398.70 L449.52,399.62 L449.63,400.55 L449.75,401.50 L449.88,402.45 L450.02,403.42 L450.16,404.40 L450.32,405.38 L450.47,406.37 L450.64,407.38 L450.80,408.38 L450.97,409.39 L451.15,410.41 L451.33,411.43 L451.50,412.45 L451.68,413.48 L451.86,414.50 L452.04,415.52 L452.22,416.54 L452.40,417.56 L452.57,418.57 L452.74,419.57 L452.91,420.56 L453.07,421.54 L453.23,422.51 L453.38,423.46 L453.52,424.40 L453.66,425.32 L453.79,426.22 L453.92,427.11 L454.06,428.01 L454.23,428.93 L454.43,429.88 L454.68,430.88 L454.99,431.95 L455.37,433.10 L455.83,434.27 L456.34,435.31 L456.88,435.96 L457.41,436.02 L457.92,435.46 L458.39,434.46 L458.81,433.28 L459.16,432.09 L459.45,431.00 L459.68,429.97 L459.88,429.01 L460.04,428.09 L460.18,427.19 L460.31,426.29 L460.43,425.38 L460.56,424.45 L460.69,423.48 L460.82,422.50 L460.95,421.50 L461.09,420.49 L461.23,419.47 L461.37,418.45 L461.51,417.43 L461.64,416.42 L461.78,415.42 L461.91,414.43 L462.04,413.46 L462.16,412.52 L462.29,411.59 L462.41,410.68 L462.55,409.77 L462.70,408.85 L462.87,407.92 L463.07,406.96 L463.30,405.96 L463.57,404.92 L463.89,403.82 L464.25,402.67 L464.66,401.47 L465.11,400.28 L465.60,399.17 L466.10,398.21 L466.60,397.48 L467.10,397.06 L467.58,396.99 L468.04,397.30 L468.47,397.93 L468.87,398.83 L469.25,399.91 L469.60,401.12 L469.92,402.39 L470.22,403.64 L470.49,404.84 L470.74,405.96 L470.96,407.00 L471.17,407.99 L471.36,408.93 L471.53,409.85 L471.70,410.75 L471.86,411.64 L472.01,412.55 L472.16,413.48 L472.30,414.43 L472.45,415.40 L472.59,416.39 L472.73,417.39 L472.87,418.40 L473.01,419.42 L473.15,420.41 L473.25,421.15 L473.35,421.89 L473.49,422.88 L473.63,423.90 L473.77,424.91 L473.91,425.91 L474.05,426.90 L474.20,427.87 L474.34,428.82 L474.49,429.75 L474.64,430.66 L474.80,431.55 L474.97,432.45 L475.14,433.37 L475.33,434.31 L475.54,435.30 L475.76,436.34 L476.01,437.46 L476.28,438.66 L476.58,439.91 L476.90,441.18 L477.25,442.39 L477.63,443.47 L478.03,444.37 L478.46,445.00 L478.92,445.31 L479.40,445.24 L479.90,444.82 L480.40,444.09 L480.90,443.13 L481.39,442.02 L481.84,440.83 L482.25,439.63 L482.61,438.48 L482.93,437.38 L483.20,436.34 L483.43,435.34 L483.63,434.38 L483.80,433.45 L483.95,432.53 L484.09,431.62 L484.21,430.71 L484.34,429.78 L484.46,428.84 L484.59,427.87 L484.72,426.88 L484.86,425.88 L484.99,424.87 L485.13,423.85 L485.27,422.83 L485.41,421.81 L485.55,420.80 L485.68,419.80 L485.81,418.82 L485.94,417.85 L486.07,416.92 L486.19,416.01 L486.32,415.11 L486.46,414.21 L486.62,413.29 L486.82,412.33 L487.05,411.30 L487.34,410.21 L487.69,409.02 L488.11,407.84 L488.58,406.84 L489.09,406.28 L489.62,406.34 L490.16,406.99 L490.67,408.03 L491.13,409.20 L491.51,410.35 L491.82,411.42 L492.07,412.42 L492.27,413.37 L492.44,414.29 L492.58,415.19 L492.71,416.08 L492.84,416.98 L492.98,417.90 L493.12,418.84 L493.27,419.79 L493.43,420.76 L493.59,421.74 L493.76,422.73 L493.93,423.73 L494.10,424.74 L494.28,425.76 L494.46,426.78 L494.64,427.80 L494.82,428.82 L495.00,429.85 L495.17,430.87 L495.35,431.89 L495.53,432.91 L495.70,433.92 L495.86,434.92 L496.03,435.93 L496.18,436.92 L496.34,437.90 L496.48,438.88 L496.62,439.85 L496.75,440.80 L496.87,441.75 L496.98,442.68 L497.09,443.60 L497.19,444.51 L497.29,445.43 L497.41,446.35 L497.54,447.28 L497.69,448.23 L497.88,449.21 L498.11,450.22 L498.38,451.27 L498.70,452.37 L499.09,453.52 L499.53,454.69 L500.01,455.81 L500.53,456.78 L501.05,457.50 L501.57,457.89 L502.08,457.87 L502.56,457.47 L503.01,456.74 L503.43,455.76 L503.82,454.60 L504.18,453.34 L504.52,452.05 L504.82,450.79 L505.09,449.61 L505.33,448.50 L505.55,447.46 L505.75,446.46 L505.93,445.51 L506.10,444.59 L506.25,443.69 L506.40,442.80 L506.55,441.91 L506.69,441.01 L506.83,440.09 L506.98,439.14 L507.13,438.17 L507.29,437.18 L507.45,436.18 L507.61,435.16 L507.77,434.15 L507.93,433.13 L508.10,432.12 L508.26,431.11 L508.42,430.13 L508.58,429.16 L508.73,428.21 L508.89,427.29 L509.04,426.39 L509.20,425.50 L509.37,424.60 L509.56,423.69 L509.78,422.75 L510.03,421.76 L510.32,420.71 L510.66,419.59 L511.04,418.40 L511.47,417.19 L511.96,416.11 L512.47,415.33 L513.02,415.01 L513.58,415.24 L514.13,415.95 L514.66,416.97 L515.12,418.12 L515.51,419.24 L515.82,420.29 L516.07,421.28 L516.27,422.22 L516.43,423.14 L516.58,424.05 L516.73,424.97 L516.88,425.90 L517.03,426.86 L517.20,427.83 L517.36,428.82 L517.53,429.82 L517.70,430.82 L517.87,431.83 L518.04,432.84 L518.21,433.85 L518.37,434.86 L518.52,435.86 L518.68,436.85 L518.82,437.85 L518.97,438.84 L519.11,439.82 L519.25,440.81 L519.39,441.80 L519.52,442.78 L519.66,443.76 L519.79,444.75 L519.92,445.73 L520.06,446.72 L520.19,447.71 L520.32,448.70 L520.46,449.69 L520.59,450.68 L520.72,451.67 L520.86,452.67 L520.99,453.66 L521.12,454.65 L521.25,455.64 L521.38,456.63 L521.51,457.62 L521.63,458.61 L521.76,459.60 L521.88,460.59 L522.01,461.57 L522.14,462.56 L522.27,463.55 L522.41,464.54 L522.55,465.53 L522.69,466.53 L522.84,467.52 L522.99,468.52 L523.15,469.53 L523.31,470.53 L523.48,471.54 L523.65,472.54 L523.83,473.55 L524.00,474.55 L524.17,475.54 L524.34,476.53 L524.51,477.51 L524.67,478.49 L524.83,479.45 L524.98,480.40 L525.12,481.34 L525.25,482.27 L525.39,483.19 L525.53,484.10 L525.70,485.03 L525.88,485.96 L526.10,486.92 L526.37,487.89 L526.68,488.90 L527.05,489.94 L527.49,491.02 L528.00,492.13 L528.58,493.20 L529.20,494.11 L529.86,494.75 L530.53,495.01 L531.21,494.83 L531.88,494.25 L532.51,493.38 L533.09,492.34 L533.62,491.24 L534.07,490.16 L534.46,489.12 L534.78,488.12 L535.06,487.15 L535.30,486.21 L535.50,485.28 L535.68,484.36 L535.85,483.45 L536.02,482.53 L536.19,481.61 L536.37,480.66 L536.56,479.71 L536.76,478.75 L536.96,477.78 L537.17,476.79 L537.39,475.81 L537.60,474.82 L537.82,473.82 L538.04,472.82 L538.26,471.83 L538.48,470.83 L538.70,469.84 L538.92,468.85 L539.13,467.86 L539.35,466.88 L539.57,465.90 L539.79,464.92 L540.01,463.95 L540.24,462.97 L540.47,462.00 L540.71,461.04 L540.95,460.08 L541.20,459.11 L541.47,458.15 L541.74,457.20 L542.02,456.24 L542.31,455.29 L542.61,454.34 L542.92,453.39 L543.23,452.43 L543.54,451.48 L543.84,450.53 L544.14,449.57 L544.43,448.61 L544.71,447.65 L544.98,446.69 L545.26,445.73 L545.54,444.77 L545.82,443.81 L546.11,442.85 L546.41,441.90 L546.72,440.95 L547.05,440.01 L547.39,439.07 L547.74,438.14 L548.11,437.21 L548.49,436.28 L548.88,435.36 L549.28,434.44 L549.68,433.52 L550.10,432.60 L550.54,431.70 L551.00,430.81 L551.48,429.93 L552.01,429.08 L552.57,428.26 L553.18,427.46 L553.85,426.71 L554.56,426.00 L555.31,425.33 L556.11,424.72 L556.95,424.17 L557.82,423.67 L558.72,423.24 L559.65,422.87 L560.60,422.54 L561.57,422.26 L562.55,422.02 L563.53,421.82 L564.52,421.65 L565.51,421.51 L566.51,421.39 L567.50,421.30 L568.50,421.23 L569.50,421.17 L570.50,421.13 L571.50,421.10 L572.50,421.08 L573.50,421.07 L574.50,421.06 L575.50,421.06 L576.50,421.06 L577.50,421.06 L578.50,421.07 L579.50,421.08 L580.50,421.09 L581.50,421.10 L582.50,421.11 L583.50,421.11 L584.50,421.12 L585.50,421.12 L586.50,421.12 L587.50,421.13 L588.50,421.13 L589.50,421.13 L590.50,421.12 L591.50,421.12 L592.50,421.12 L593.50,421.12 L594.50,421.11 L595.50,421.11 L596.49,421.10 L597.26,421.10" stroke="#ff0000" stroke-width="3.3"/>
<path d="M349.24,421.20 L350.01,421.18 L350.99,421.17 L351.99,421.15 L352.99,421.14 L353.98,421.13 L354.98,421.11 L355.98,421.11 L356.98,421.10 L357.98,421.10 L358.98,421.10 L359.98,421.10 L360.98,421.11 L361.99,421.13 L362.99,421.15 L363.99,421.17 L365.00,421.20 L366.01,421.24 L367.01,421.27 L368.02,421.30 L369.03,421.31 L370.03,421.31 L371.03,421.28 L372.03,421.22 L373.02,421.12 L374.01,420.98 L374.99,420.79 L375.96,420.55 L376.92,420.24 L377.86,419.88 L378.77,419.46 L379.65,418.97 L380.49,418.42 L381.28,417.81 L382.03,417.14 L382.74,416.42 L383.40,415.67 L384.02,414.87 L384.60,414.05 L385.13,413.20 L385.62,412.33 L386.09,411.45 L386.52,410.54 L386.93,409.63 L387.33,408.71 L387.71,407.78 L388.08,406.85 L388.44,405.91 L388.79,404.98 L389.13,404.04 L389.47,403.09 L389.79,402.15 L390.10,401.20 L390.40,400.24 L390.69,399.29 L390.97,398.33 L391.25,397.36 L391.51,396.40 L391.78,395.44 L392.05,394.47 L392.32,393.51 L392.60,392.55 L392.89,391.59 L393.19,390.64 L393.50,389.69 L393.82,388.75 L394.15,387.80 L394.48,386.86 L394.81,385.90 L395.13,384.95 L395.46,383.98 L395.77,383.02 L396.09,382.06 L396.39,381.10 L396.69,380.14 L396.98,379.18 L397.26,378.23 L397.53,377.29 L397.78,376.36 L398.03,375.44 L398.28,374.52 L398.55,373.60 L398.85,372.68 L399.21,371.74 L399.63,370.78 L400.14,369.81 L400.74,368.84 L401.43,368.01 L402.19,367.55 L402.98,367.60 L403.77,368.14 L404.51,368.99 L405.17,369.94 L405.73,370.90 L406.20,371.84 L406.59,372.77 L406.92,373.69 L407.21,374.60 L407.47,375.52 L407.72,376.44 L407.97,377.37 L408.24,378.30 L408.51,379.25 L408.80,380.20 L409.09,381.16 L409.39,382.13 L409.69,383.09 L410.00,384.06 L410.31,385.02 L410.62,385.98 L410.93,386.94 L411.23,387.90 L411.54,388.85 L411.84,389.80 L412.14,390.75 L412.44,391.70 L412.74,392.64 L413.04,393.59 L413.36,394.53 L413.69,395.48 L414.05,396.41 L414.45,397.34 L414.88,398.27 L415.37,399.16 L415.93,400.01 L416.57,400.77 L417.29,401.44 L418.10,401.99 L418.99,402.45 L419.92,402.86 L420.86,403.25 L421.80,403.66 L422.71,404.09 L423.55,404.59 L424.32,405.15 L425.02,405.79 L425.68,406.51 L426.31,407.30 L426.96,408.15 L427.64,409.04 L428.37,409.91 L429.12,410.62 L429.88,411.05 L430.65,411.09 L431.40,410.73 L432.14,410.05 L432.87,409.16 L433.59,408.16 L434.30,407.15 L435.00,406.21 L435.72,405.41 L436.46,404.79 L437.23,404.43 L438.03,404.38 L438.87,404.63 L439.72,405.15 L440.55,405.84 L441.33,406.66 L442.04,407.53 L442.68,408.40 L443.27,409.25 L443.85,410.06 L444.46,410.80 L445.13,411.47 L445.89,412.04 L446.75,412.53 L447.66,412.96 L448.59,413.37 L449.49,413.81 L450.34,414.30 L451.14,414.85 L451.92,415.48 L452.69,416.21 L453.47,417.01 L454.27,417.82 L455.07,418.56 L455.87,419.12 L456.67,419.41 L457.45,419.35 L458.23,418.95 L459.00,418.29 L459.77,417.45 L460.54,416.54 L461.31,415.64 L462.09,414.86 L462.88,414.31 L463.67,414.08 L464.47,414.23 L465.26,414.71 L466.05,415.43 L466.81,416.26 L467.56,417.10 L468.28,417.87 L468.99,418.58 L469.73,419.22 L470.51,419.78 L471.35,420.27 L472.23,420.71 L472.98,421.04 L473.25,421.15 L473.52,421.26 L474.27,421.59 L475.15,422.03 L475.99,422.52 L476.77,423.08 L477.51,423.72 L478.22,424.43 L478.94,425.20 L479.69,426.04 L480.45,426.87 L481.24,427.59 L482.03,428.07 L482.83,428.22 L483.62,427.99 L484.41,427.44 L485.19,426.66 L485.96,425.76 L486.73,424.85 L487.50,424.01 L488.27,423.35 L489.05,422.95 L489.83,422.89 L490.63,423.18 L491.43,423.74 L492.23,424.48 L493.03,425.29 L493.81,426.09 L494.58,426.82 L495.36,427.45 L496.16,428.00 L497.01,428.49 L497.91,428.93 L498.84,429.34 L499.75,429.77 L500.61,430.26 L501.37,430.83 L502.04,431.50 L502.65,432.24 L503.23,433.05 L503.82,433.90 L504.46,434.77 L505.17,435.64 L505.95,436.46 L506.78,437.15 L507.63,437.67 L508.47,437.92 L509.27,437.87 L510.04,437.51 L510.78,436.89 L511.50,436.09 L512.20,435.15 L512.91,434.14 L513.63,433.14 L514.36,432.25 L515.10,431.57 L515.85,431.21 L516.62,431.25 L517.38,431.68 L518.13,432.39 L518.86,433.26 L519.54,434.15 L520.19,435.00 L520.82,435.79 L521.48,436.51 L522.18,437.15 L522.95,437.71 L523.79,438.21 L524.70,438.64 L525.64,439.05 L526.58,439.44 L527.51,439.85 L528.40,440.31 L529.21,440.86 L529.93,441.53 L530.57,442.29 L531.13,443.14 L531.62,444.03 L532.05,444.96 L532.45,445.89 L532.81,446.82 L533.14,447.77 L533.46,448.71 L533.76,449.66 L534.06,450.60 L534.36,451.55 L534.66,452.50 L534.96,453.45 L535.27,454.40 L535.57,455.36 L535.88,456.32 L536.19,457.28 L536.50,458.24 L536.81,459.21 L537.11,460.17 L537.41,461.14 L537.70,462.10 L537.99,463.05 L538.26,464.00 L538.53,464.93 L538.78,465.86 L539.03,466.78 L539.29,467.70 L539.58,468.61 L539.91,469.53 L540.30,470.46 L540.77,471.40 L541.33,472.36 L541.99,473.31 L542.73,474.16 L543.52,474.70 L544.31,474.75 L545.07,474.29 L545.76,473.46 L546.36,472.49 L546.87,471.52 L547.29,470.56 L547.65,469.62 L547.95,468.70 L548.22,467.78 L548.47,466.86 L548.72,465.94 L548.97,465.01 L549.24,464.07 L549.52,463.12 L549.81,462.16 L550.11,461.20 L550.41,460.24 L550.73,459.28 L551.04,458.32 L551.37,457.35 L551.69,456.40 L552.02,455.44 L552.35,454.50 L552.68,453.55 L553.00,452.61 L553.31,451.66 L553.61,450.71 L553.90,449.75 L554.18,448.79 L554.45,447.83 L554.72,446.86 L554.99,445.90 L555.25,444.94 L555.53,443.97 L555.81,443.01 L556.10,442.06 L556.40,441.10 L556.71,440.15 L557.03,439.21 L557.37,438.26 L557.71,437.32 L558.06,436.39 L558.42,435.45 L558.79,434.52 L559.17,433.59 L559.57,432.67 L559.98,431.76 L560.41,430.85 L560.88,429.97 L561.37,429.10 L561.90,428.25 L562.48,427.43 L563.10,426.63 L563.76,425.88 L564.47,425.16 L565.22,424.49 L566.01,423.88 L566.85,423.33 L567.73,422.84 L568.64,422.42 L569.58,422.06 L570.54,421.75 L571.51,421.51 L572.49,421.32 L573.48,421.18 L574.47,421.08 L575.47,421.02 L576.47,420.99 L577.47,420.99 L578.48,421.00 L579.49,421.03 L580.49,421.06 L581.50,421.10 L582.51,421.13 L583.51,421.15 L584.51,421.17 L585.52,421.19 L586.52,421.20 L587.52,421.20 L588.52,421.20 L589.52,421.20 L590.52,421.19 L591.52,421.19 L592.52,421.17 L593.51,421.16 L594.51,421.15 L595.51,421.13 L596.49,421.12 L597.26,421.10" stroke="#0000ff" stroke-width="2.7"/>
<path d="M349.15,421.20 L350.00,421.18 L351.00,421.16 L351.99,421.14 L352.99,421.13 L353.99,421.11 L354.99,421.10 L355.99,421.09 L356.99,421.08 L357.99,421.08 L358.99,421.08 L359.99,421.09 L360.99,421.10 L361.99,421.11 L362.99,421.14 L364.00,421.17 L365.00,421.20 L366.01,421.24 L367.01,421.28 L368.02,421.32 L369.02,421.34 L370.02,421.34 L371.02,421.31 L372.02,421.25 L373.02,421.15 L374.01,421.00 L374.99,420.80 L375.97,420.53 L376.93,420.20 L377.86,419.80 L378.75,419.34 L379.59,418.80 L380.36,418.19 L381.07,417.50 L381.71,416.75 L382.30,415.95 L382.84,415.10 L383.34,414.21 L383.80,413.30 L384.23,412.36 L384.64,411.41 L385.03,410.46 L385.42,409.51 L385.79,408.57 L386.15,407.63 L386.51,406.69 L386.86,405.76 L387.20,404.82 L387.53,403.89 L387.85,402.95 L388.17,402.01 L388.48,401.07 L388.78,400.12 L389.08,399.17 L389.37,398.21 L389.65,397.25 L389.94,396.29 L390.22,395.33 L390.49,394.36 L390.77,393.40 L391.05,392.44 L391.32,391.48 L391.60,390.52 L391.87,389.56 L392.14,388.60 L392.41,387.64 L392.67,386.67 L392.92,385.70 L393.17,384.72 L393.41,383.74 L393.64,382.75 L393.86,381.76 L394.08,380.77 L394.29,379.79 L394.50,378.81 L394.70,377.83 L394.90,376.87 L395.09,375.92 L395.29,374.98 L395.49,374.05 L395.71,373.13 L395.95,372.21 L396.24,371.28 L396.58,370.34 L396.99,369.38 L397.48,368.38 L398.06,367.37 L398.73,366.41 L399.45,365.68 L400.21,365.35 L400.97,365.55 L401.71,366.21 L402.39,367.14 L402.99,368.16 L403.49,369.17 L403.91,370.16 L404.25,371.14 L404.52,372.09 L404.74,373.04 L404.93,373.98 L405.08,374.92 L405.22,375.86 L405.36,376.81 L405.50,377.77 L405.66,378.73 L405.82,379.71 L405.99,380.69 L406.17,381.68 L406.36,382.68 L406.55,383.67 L406.74,384.66 L406.93,385.65 L407.13,386.64 L407.32,387.63 L407.51,388.61 L407.70,389.58 L407.90,390.56 L408.10,391.54 L408.31,392.52 L408.52,393.49 L408.74,394.48 L408.97,395.46 L409.20,396.44 L409.44,397.43 L409.68,398.41 L409.93,399.38 L410.18,400.35 L410.43,401.31 L410.68,402.25 L410.93,403.18 L411.21,404.10 L411.54,405.02 L411.96,405.95 L412.51,406.89 L413.19,407.77 L413.98,408.30 L414.78,408.20 L415.55,407.54 L416.22,406.61 L416.78,405.67 L417.22,404.78 L417.61,403.92 L417.97,403.05 L418.36,402.15 L418.81,401.19 L419.36,400.16 L420.01,399.21 L420.73,398.54 L421.50,398.36 L422.28,398.75 L423.02,399.53 L423.67,400.49 L424.19,401.45 L424.60,402.41 L424.92,403.35 L425.19,404.29 L425.41,405.21 L425.61,406.13 L425.81,407.04 L426.04,407.96 L426.31,408.88 L426.65,409.82 L427.06,410.78 L427.58,411.77 L428.20,412.76 L428.91,413.62 L429.65,414.10 L430.37,414.04 L431.06,413.45 L431.68,412.52 L432.23,411.45 L432.70,410.42 L433.10,409.47 L433.46,408.59 L433.84,407.73 L434.25,406.87 L434.75,405.96 L435.36,405.01 L436.07,404.21 L436.83,403.85 L437.60,404.13 L438.33,404.89 L438.97,405.88 L439.48,406.88 L439.89,407.83 L440.20,408.73 L440.47,409.62 L440.71,410.52 L440.97,411.45 L441.29,412.43 L441.68,413.48 L442.17,414.59 L442.74,415.64 L443.35,416.50 L443.99,417.04 L444.63,417.14 L445.25,416.78 L445.87,416.05 L446.50,415.08 L447.18,414.01 L447.90,412.94 L448.66,411.99 L449.42,411.24 L450.16,410.76 L450.83,410.64 L451.43,410.91 L451.95,411.52 L452.44,412.40 L452.89,413.49 L453.34,414.71 L453.80,415.99 L454.29,417.26 L454.80,418.46 L455.34,419.50 L455.90,420.32 L456.46,420.83 L457.03,420.96 L457.60,420.69 L458.18,420.07 L458.77,419.19 L459.39,418.15 L460.05,417.05 L460.75,415.98 L461.47,415.01 L462.20,414.25 L462.90,413.76 L463.55,413.64 L464.15,413.91 L464.69,414.51 L465.18,415.40 L465.64,416.49 L466.08,417.72 L466.51,419.03 L466.94,420.34 L467.39,421.56 L467.88,422.61 L468.44,423.40 L469.09,423.83 L469.85,423.83 L470.70,423.41 L471.54,422.76 L472.31,422.07 L472.98,421.42 L473.25,421.15 L473.52,420.88 L474.19,420.23 L474.96,419.54 L475.80,418.89 L476.65,418.47 L477.41,418.47 L478.06,418.90 L478.62,419.69 L479.11,420.74 L479.56,421.96 L479.99,423.27 L480.42,424.58 L480.86,425.81 L481.32,426.90 L481.81,427.79 L482.35,428.39 L482.95,428.66 L483.60,428.54 L484.30,428.05 L485.03,427.29 L485.75,426.32 L486.45,425.25 L487.11,424.15 L487.73,423.11 L488.32,422.23 L488.90,421.61 L489.47,421.34 L490.04,421.47 L490.60,421.98 L491.16,422.80 L491.70,423.84 L492.21,425.04 L492.70,426.31 L493.16,427.59 L493.61,428.81 L494.06,429.90 L494.55,430.78 L495.07,431.39 L495.67,431.66 L496.34,431.54 L497.08,431.06 L497.84,430.31 L498.60,429.36 L499.32,428.29 L500.00,427.22 L500.63,426.25 L501.25,425.52 L501.87,425.16 L502.51,425.26 L503.15,425.80 L503.76,426.66 L504.33,427.71 L504.82,428.82 L505.21,429.87 L505.53,430.85 L505.79,431.78 L506.03,432.68 L506.30,433.57 L506.61,434.47 L507.02,435.42 L507.53,436.42 L508.17,437.41 L508.90,438.17 L509.67,438.45 L510.43,438.09 L511.14,437.29 L511.75,436.34 L512.25,435.43 L512.66,434.57 L513.04,433.71 L513.40,432.83 L513.80,431.88 L514.27,430.85 L514.82,429.78 L515.44,428.85 L516.13,428.26 L516.85,428.20 L517.59,428.68 L518.30,429.54 L518.92,430.53 L519.44,431.52 L519.85,432.48 L520.19,433.42 L520.46,434.34 L520.69,435.26 L520.89,436.17 L521.09,437.09 L521.31,438.01 L521.58,438.95 L521.90,439.89 L522.31,440.85 L522.83,441.81 L523.48,442.77 L524.22,443.55 L525.00,443.94 L525.77,443.76 L526.49,443.09 L527.14,442.14 L527.69,441.11 L528.14,440.15 L528.53,439.25 L528.89,438.38 L529.28,437.52 L529.72,436.63 L530.28,435.69 L530.95,434.76 L531.72,434.10 L532.52,434.00 L533.31,434.53 L533.99,435.41 L534.54,436.35 L534.96,437.28 L535.29,438.20 L535.57,439.12 L535.82,440.05 L536.07,440.99 L536.32,441.95 L536.57,442.92 L536.82,443.89 L537.06,444.87 L537.30,445.86 L537.53,446.84 L537.76,447.82 L537.98,448.81 L538.19,449.78 L538.40,450.76 L538.60,451.74 L538.80,452.72 L538.99,453.69 L539.18,454.67 L539.37,455.66 L539.57,456.65 L539.76,457.64 L539.95,458.63 L540.14,459.62 L540.33,460.62 L540.51,461.61 L540.68,462.59 L540.84,463.57 L541.00,464.53 L541.14,465.49 L541.28,466.44 L541.42,467.38 L541.57,468.32 L541.76,469.26 L541.98,470.21 L542.25,471.16 L542.59,472.14 L543.01,473.13 L543.51,474.14 L544.11,475.16 L544.79,476.09 L545.53,476.75 L546.29,476.95 L547.05,476.62 L547.77,475.89 L548.44,474.93 L549.02,473.92 L549.51,472.92 L549.92,471.96 L550.26,471.02 L550.55,470.09 L550.79,469.17 L551.01,468.25 L551.21,467.32 L551.41,466.38 L551.60,465.43 L551.80,464.47 L552.00,463.49 L552.21,462.51 L552.42,461.53 L552.64,460.54 L552.86,459.55 L553.09,458.56 L553.33,457.58 L553.58,456.60 L553.83,455.63 L554.09,454.66 L554.36,453.70 L554.63,452.74 L554.90,451.78 L555.18,450.82 L555.45,449.86 L555.73,448.90 L556.01,447.94 L556.28,446.97 L556.56,446.01 L556.85,445.05 L557.13,444.09 L557.42,443.13 L557.72,442.18 L558.02,441.23 L558.33,440.29 L558.65,439.35 L558.97,438.41 L559.30,437.48 L559.64,436.54 L559.99,435.61 L560.35,434.67 L560.71,433.73 L561.08,432.79 L561.47,431.84 L561.86,430.89 L562.27,429.94 L562.70,429.00 L563.16,428.09 L563.66,427.20 L564.20,426.35 L564.79,425.55 L565.43,424.80 L566.14,424.11 L566.91,423.50 L567.75,422.96 L568.64,422.50 L569.57,422.10 L570.53,421.77 L571.51,421.50 L572.49,421.30 L573.48,421.15 L574.48,421.05 L575.48,420.99 L576.48,420.96 L577.48,420.96 L578.48,420.98 L579.49,421.02 L580.49,421.06 L581.50,421.10 L582.50,421.13 L583.51,421.16 L584.51,421.19 L585.51,421.20 L586.51,421.21 L587.51,421.22 L588.51,421.22 L589.51,421.22 L590.51,421.21 L591.51,421.20 L592.51,421.19 L593.51,421.17 L594.51,421.16 L595.50,421.14 L596.50,421.12 L597.35,421.10" stroke="#ff00ff" stroke-width="1.25"/>
</g>
<rect x="348.9" y="342.1" width="248.80000000000007" height="157.79999999999995" stroke="#000" stroke-width="2.2" stroke-linejoin="round" fill="none"/>
<!-- labels -->
<g opacity="0.999" stroke="#000" stroke-width="0.25">
<text transform="translate(110.60,600.80) scale(1,1.04)" text-anchor="end">0</text>
<text transform="translate(110.60,464.13) scale(1,1.04)" text-anchor="end">0.5</text>
<text transform="translate(110.60,327.47) scale(1,1.04)" text-anchor="end">1</text>
<text transform="translate(110.60,190.80) scale(1,1.04)" text-anchor="end">1.5</text>
<text transform="translate(110.60,54.13) scale(1,1.04)" text-anchor="end">2</text>
<text transform="translate(124.60,623.90) scale(1,1.04)" text-anchor="middle">-6</text>
<text transform="translate(235.30,623.90) scale(1,1.04)" text-anchor="middle">-4</text>
<text transform="translate(346.00,623.90) scale(1,1.04)" text-anchor="middle">-2</text>
<text transform="translate(459.76,623.90) scale(1,1.04)" text-anchor="middle">0</text>
<text transform="translate(570.46,623.90) scale(1,1.04)" text-anchor="middle">2</text>
<text transform="translate(681.16,623.90) scale(1,1.04)" text-anchor="middle">4</text>
<text transform="translate(791.86,623.90) scale(1,1.04)" text-anchor="middle">6</text>
<text transform="translate(335.00,474.91) scale(1,1.04)" text-anchor="end">-1</text>
<text transform="translate(335.00,428.50) scale(1,1.04)" text-anchor="end">0</text>
<text transform="translate(335.00,382.09) scale(1,1.04)" text-anchor="end">1</text>
<text transform="translate(348.90,530.40) scale(1,1.04)" text-anchor="middle">-6</text>
<text transform="translate(390.37,530.40) scale(1,1.04)" text-anchor="middle">-4</text>
<text transform="translate(431.83,530.40) scale(1,1.04)" text-anchor="middle">-2</text>
<text transform="translate(476.36,530.40) scale(1,1.04)" text-anchor="middle">0</text>
<text transform="translate(517.83,530.40) scale(1,1.04)" text-anchor="middle">2</text>
<text transform="translate(559.29,530.40) scale(1,1.04)" text-anchor="middle">4</text>
<text transform="translate(600.76,530.40) scale(1,1.04)" text-anchor="middle">6</text>
<text class="lam" transform="translate(629.9,49.20) scale(1.10,0.99)">λ</text>
<path d="M643.4,41.90H654.7 M643.4,45.80H654.7" stroke="#000" stroke-width="1.45" fill="none"/>
<text transform="translate(680.90,49.20) scale(1,1.04)" text-anchor="end">1</text>
<path d="M695.2,41.50H761.2" stroke="#ff0000" stroke-width="3.7" fill="none"/>
<text class="lam" transform="translate(629.9,72.20) scale(1.10,0.99)">λ</text>
<path d="M643.4,64.90H654.7 M643.4,68.80H654.7" stroke="#000" stroke-width="1.45" fill="none"/>
<text transform="translate(680.90,72.20) scale(1,1.04)" text-anchor="end">3</text>
<path d="M695.2,64.62H761.2" stroke="#00ff00" stroke-width="4.1" fill="none"/>
<text class="lam" transform="translate(629.9,95.20) scale(1.10,0.99)">λ</text>
<path d="M643.4,87.90H654.7 M643.4,91.80H654.7" stroke="#000" stroke-width="1.45" fill="none"/>
<text transform="translate(680.90,95.20) scale(1,1.04)" text-anchor="end">6</text>
<path d="M695.2,87.74H761.2" stroke="#0000ff" stroke-width="2.7" fill="none"/>
<text class="lam" transform="translate(629.9,118.20) scale(1.10,0.99)">λ</text>
<path d="M643.4,110.90H654.7 M643.4,114.80H654.7" stroke="#000" stroke-width="1.45" fill="none"/>
<text transform="translate(680.90,118.20) scale(1,1.04)" text-anchor="end">8</text>
<path d="M695.2,110.86H761.2" stroke="#ff00ff" stroke-width="1.8" fill="none"/>
<text class="lam" transform="translate(629.9,141.20) scale(1.10,0.99)">λ</text>
<path d="M643.4,133.90H654.7 M643.4,137.80H654.7" stroke="#000" stroke-width="1.45" fill="none"/>
<text transform="translate(680.90,141.20) scale(1,1.04)" text-anchor="end">20</text>
<path d="M695.2,133.98H761.2" stroke="#000000" stroke-width="1.1" fill="none"/>
</g>
<g opacity="0.999">
<text class="big" x="423" y="658.8">z/a</text>
<path d="M470.3,648.9V673.8 M477.3,648.9V673.8" stroke="#000" stroke-width="1.45" fill="none"/>
<text class="big" transform="translate(37.6,350.7) rotate(-90)">n(z)a</text>
<path d="M28.2,272.6H53.5 M28.2,265.7H53.5" stroke="#000" stroke-width="1.45" fill="none"/>
</g>
</svg>
</body></html>
